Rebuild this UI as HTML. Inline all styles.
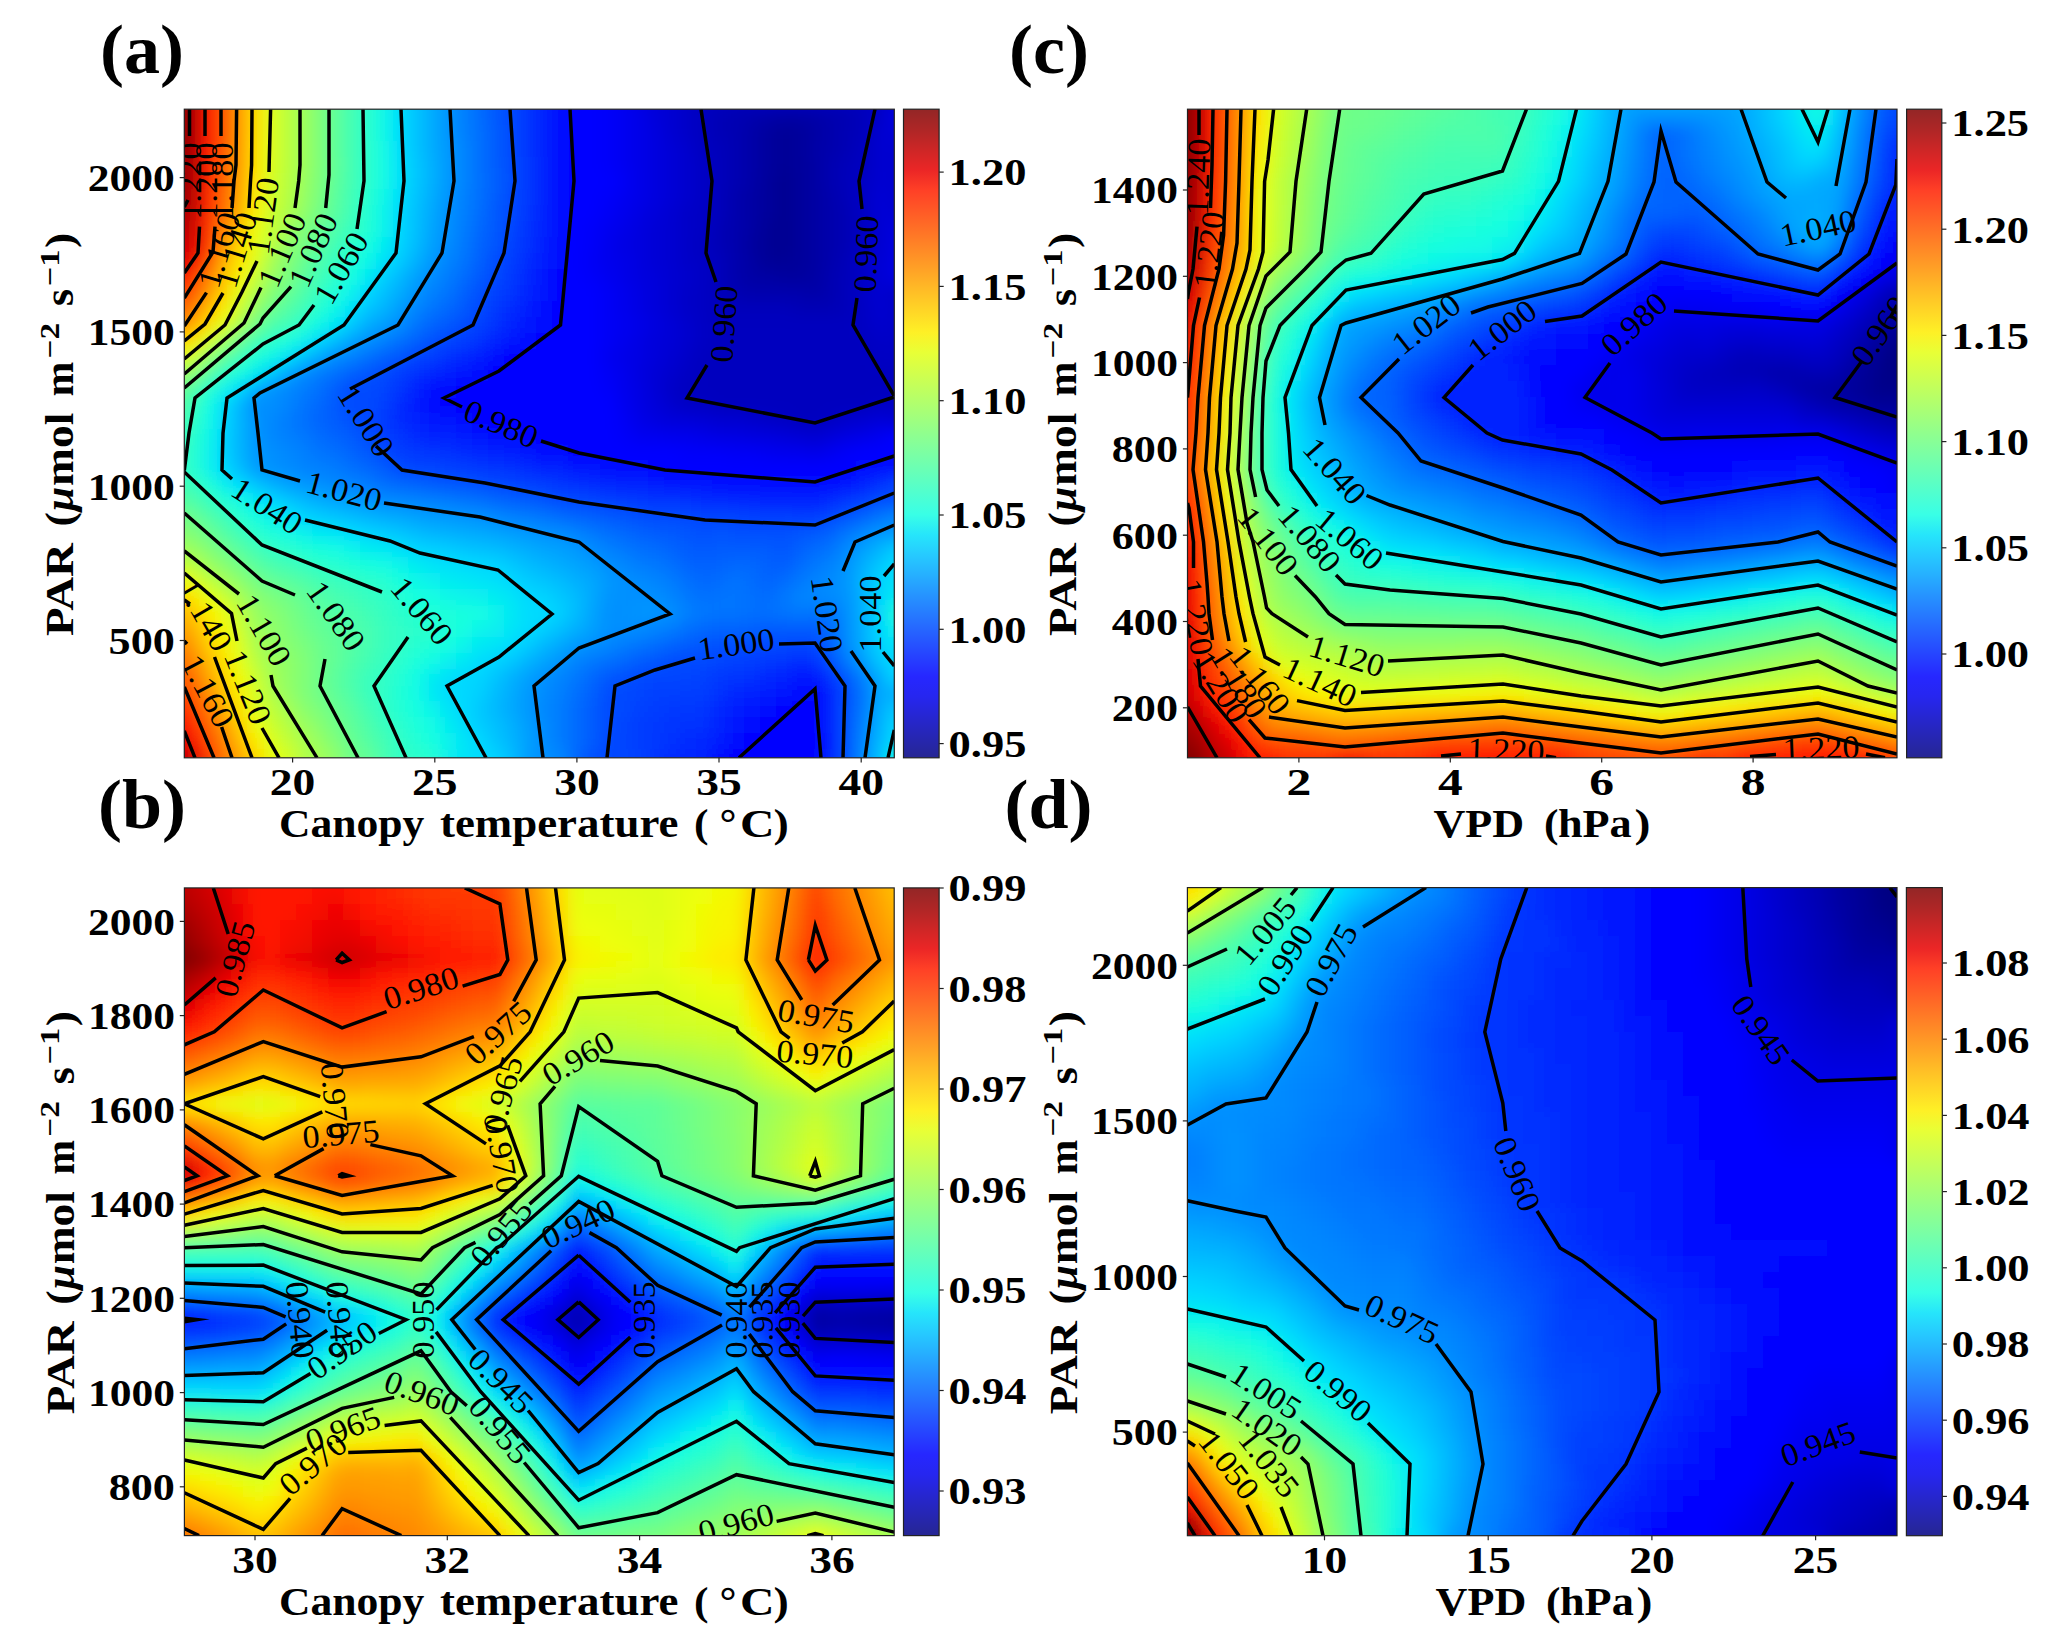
<!DOCTYPE html><html><head><meta charset="utf-8"><title>Figure</title><style>html,body{margin:0;padding:0;background:#fff}svg{display:block}.f rect{width:17px;height:17px}</style></head><body>
<svg width="2067" height="1641" viewBox="0 0 2067 1641">
<defs><filter id="bl" x="-5%" y="-5%" width="110%" height="110%"><feGaussianBlur stdDeviation="8"/></filter>
<linearGradient id="jetg" x1="0" y1="0" x2="0" y2="1"><stop offset="0.0000" stop-color="#932626"/><stop offset="0.0312" stop-color="#ae2626"/><stop offset="0.0625" stop-color="#cd2626"/><stop offset="0.0938" stop-color="#eb2626"/><stop offset="0.1250" stop-color="#ff4026"/><stop offset="0.1562" stop-color="#ff5926"/><stop offset="0.1875" stop-color="#ff7226"/><stop offset="0.2188" stop-color="#ff8b26"/><stop offset="0.2500" stop-color="#ffa426"/><stop offset="0.2812" stop-color="#ffbe26"/><stop offset="0.3125" stop-color="#ffd726"/><stop offset="0.3438" stop-color="#fef026"/><stop offset="0.3750" stop-color="#e8ff36"/><stop offset="0.4062" stop-color="#d2ff4c"/><stop offset="0.4375" stop-color="#bcff62"/><stop offset="0.4688" stop-color="#a6ff78"/><stop offset="0.5000" stop-color="#90ff8e"/><stop offset="0.5312" stop-color="#7bffa4"/><stop offset="0.5625" stop-color="#65ffba"/><stop offset="0.5938" stop-color="#4fffd0"/><stop offset="0.6250" stop-color="#39ffe6"/><stop offset="0.6562" stop-color="#26e5fb"/><stop offset="0.6875" stop-color="#26caff"/><stop offset="0.7188" stop-color="#26afff"/><stop offset="0.7500" stop-color="#2693ff"/><stop offset="0.7812" stop-color="#2678ff"/><stop offset="0.8125" stop-color="#265dff"/><stop offset="0.8438" stop-color="#2642ff"/><stop offset="0.8750" stop-color="#2627ff"/><stop offset="0.9062" stop-color="#2626ef"/><stop offset="0.9375" stop-color="#2626d0"/><stop offset="0.9688" stop-color="#2626b2"/><stop offset="1.0000" stop-color="#262693"/></linearGradient></defs>
<rect width="2067" height="1641" fill="#fff"/>
<clipPath id="cpa"><rect x="184.3" y="109.2" width="710.0" height="648.6"/></clipPath>
<g clip-path="url(#cpa)">
<g class="f" filter="url(#bl)">
<g transform="translate(152 77)"><rect x="0" fill="#800000" style="width:33px"/><rect x="32" fill="#a40000"/><rect x="48" fill="#ff1300"/><rect x="64" fill="#f50"/><rect x="80" fill="#ff9c00"/><rect x="96" fill="#ffde00"/><rect x="112" fill="#dbff1c"/><rect x="128" fill="#baff3c"/><rect x="144" fill="#9dff5a"/><rect x="160" fill="#7dff7a"/><rect x="176" fill="#5dff9a"/><rect x="192" fill="#43ffb4"/><rect x="208" fill="#29ffce"/><rect x="224" fill="#0ff8e7"/><rect x="240" fill="#00dcfe"/><rect x="256" fill="#00c4ff"/><rect x="272" fill="#00acff"/><rect x="288" fill="#0094ff"/><rect x="304" fill="#0080ff"/><rect x="320" fill="#006cff"/><rect x="336" fill="#0058ff"/><rect x="352" fill="#04f"/><rect x="368" fill="#0034ff"/><rect x="384" fill="#0020ff"/><rect x="400" fill="#000cff"/><rect x="416" fill="#00f" style="width:33px"/><rect x="448" fill="#0000fa"/><rect x="464" fill="#0000f1"/><rect x="480" fill="#0000e3"/><rect x="496" fill="#0000da"/><rect x="512" fill="#0000d1"/><rect x="528" fill="#0000c8"/><rect x="544" fill="#0000bf" style="width:33px"/><rect x="576" fill="#00b"/><rect x="592" fill="#0000bf" style="width:129px"/><rect x="720" fill="#0000c8"/><rect x="736" fill="#0000da" style="width:49px"/></g>
<g transform="translate(152 93)"><rect x="0" fill="#800000" style="width:33px"/><rect x="32" fill="#a40000"/><rect x="48" fill="#ff1300"/><rect x="64" fill="#f50"/><rect x="80" fill="#ff9c00"/><rect x="96" fill="#ffde00"/><rect x="112" fill="#dbff1c"/><rect x="128" fill="#baff3c"/><rect x="144" fill="#9dff5a"/><rect x="160" fill="#7dff7a"/><rect x="176" fill="#5dff9a"/><rect x="192" fill="#43ffb4"/><rect x="208" fill="#29ffce"/><rect x="224" fill="#0ff8e7"/><rect x="240" fill="#00dcfe"/><rect x="256" fill="#00c4ff"/><rect x="272" fill="#00acff"/><rect x="288" fill="#0094ff"/><rect x="304" fill="#0080ff"/><rect x="320" fill="#006cff"/><rect x="336" fill="#0058ff"/><rect x="352" fill="#04f"/><rect x="368" fill="#0034ff"/><rect x="384" fill="#0020ff"/><rect x="400" fill="#000cff"/><rect x="416" fill="#00f" style="width:33px"/><rect x="448" fill="#0000fa"/><rect x="464" fill="#0000f1"/><rect x="480" fill="#0000e3"/><rect x="496" fill="#0000da"/><rect x="512" fill="#0000d1"/><rect x="528" fill="#0000c8"/><rect x="544" fill="#0000bf" style="width:33px"/><rect x="576" fill="#00b"/><rect x="592" fill="#0000bf" style="width:129px"/><rect x="720" fill="#0000c8"/><rect x="736" fill="#0000da" style="width:49px"/></g>
<g transform="translate(152 109)"><rect x="0" fill="#800000" style="width:33px"/><rect x="32" fill="#a40000"/><rect x="48" fill="#ff1300"/><rect x="64" fill="#f50"/><rect x="80" fill="#ff9c00"/><rect x="96" fill="#ffde00"/><rect x="112" fill="#dbff1c"/><rect x="128" fill="#baff3c"/><rect x="144" fill="#9dff5a"/><rect x="160" fill="#7dff7a"/><rect x="176" fill="#5dff9a"/><rect x="192" fill="#43ffb4"/><rect x="208" fill="#29ffce"/><rect x="224" fill="#0ff8e7"/><rect x="240" fill="#00dcfe"/><rect x="256" fill="#00c4ff"/><rect x="272" fill="#00acff"/><rect x="288" fill="#0094ff"/><rect x="304" fill="#0080ff"/><rect x="320" fill="#006cff"/><rect x="336" fill="#0058ff"/><rect x="352" fill="#0048ff"/><rect x="368" fill="#0034ff"/><rect x="384" fill="#0020ff"/><rect x="400" fill="#000cff"/><rect x="416" fill="#00f" style="width:33px"/><rect x="448" fill="#0000fa"/><rect x="464" fill="#0000f1"/><rect x="480" fill="#0000e8"/><rect x="496" fill="#0000da"/><rect x="512" fill="#0000d1"/><rect x="528" fill="#0000c8"/><rect x="544" fill="#0000bf"/><rect x="560" fill="#0000b6"/><rect x="576" fill="#0000b2"/><rect x="592" fill="#0000ad"/><rect x="608" fill="#0000a8"/><rect x="624" fill="#0000a4" style="width:33px"/><rect x="656" fill="#0000a8"/><rect x="672" fill="#0000ad"/><rect x="688" fill="#0000b2"/><rect x="704" fill="#00b"/><rect x="720" fill="#0000c8"/><rect x="736" fill="#0000df" style="width:49px"/></g>
<g transform="translate(152 125)"><rect x="0" fill="#800000" style="width:33px"/><rect x="32" fill="#a40000"/><rect x="48" fill="#ff1300"/><rect x="64" fill="#f50"/><rect x="80" fill="#ff9c00"/><rect x="96" fill="#ffde00"/><rect x="112" fill="#dbff1c"/><rect x="128" fill="#baff3c"/><rect x="144" fill="#9dff5a"/><rect x="160" fill="#7dff7a"/><rect x="176" fill="#5dff9a"/><rect x="192" fill="#43ffb4"/><rect x="208" fill="#29ffce"/><rect x="224" fill="#0ff8e7"/><rect x="240" fill="#00dcfe"/><rect x="256" fill="#00c4ff"/><rect x="272" fill="#00acff"/><rect x="288" fill="#0094ff"/><rect x="304" fill="#0080ff"/><rect x="320" fill="#0070ff"/><rect x="336" fill="#005cff"/><rect x="352" fill="#0048ff"/><rect x="368" fill="#0034ff"/><rect x="384" fill="#0020ff"/><rect x="400" fill="#000cff"/><rect x="416" fill="#00f" style="width:33px"/><rect x="448" fill="#0000fa"/><rect x="464" fill="#0000f1"/><rect x="480" fill="#0000e8"/><rect x="496" fill="#0000df"/><rect x="512" fill="#0000d1"/><rect x="528" fill="#0000c8"/><rect x="544" fill="#0000bf"/><rect x="560" fill="#0000b6"/><rect x="576" fill="#0000b2"/><rect x="592" fill="#0000a8"/><rect x="608" fill="#00009f"/><rect x="624" fill="#000096"/><rect x="640" fill="#00009b"/><rect x="656" fill="#0000a4"/><rect x="672" fill="#0000ad"/><rect x="688" fill="#0000b6"/><rect x="704" fill="#00b"/><rect x="720" fill="#0000d1"/><rect x="736" fill="#0000d6" style="width:49px"/></g>
<g transform="translate(152 141)"><rect x="0" fill="#840000" style="width:33px"/><rect x="32" fill="#a80000"/><rect x="48" fill="#ff1600"/><rect x="64" fill="#ff5900"/><rect x="80" fill="#ff9c00"/><rect x="96" fill="#ffe200"/><rect x="112" fill="#dbff1c"/><rect x="128" fill="#baff3c"/><rect x="144" fill="#9dff5a"/><rect x="160" fill="#7dff7a"/><rect x="176" fill="#5dff9a"/><rect x="192" fill="#43ffb4"/><rect x="208" fill="#29ffce"/><rect x="224" fill="#13fce4"/><rect x="240" fill="#00dcfe"/><rect x="256" fill="#00c4ff"/><rect x="272" fill="#00acff"/><rect x="288" fill="#0098ff"/><rect x="304" fill="#0084ff"/><rect x="320" fill="#0070ff"/><rect x="336" fill="#005cff"/><rect x="352" fill="#0048ff"/><rect x="368" fill="#0034ff"/><rect x="384" fill="#0024ff"/><rect x="400" fill="#0010ff"/><rect x="416" fill="#00f" style="width:33px"/><rect x="448" fill="#0000fa"/><rect x="464" fill="#0000f1"/><rect x="480" fill="#0000e8"/><rect x="496" fill="#0000df"/><rect x="512" fill="#0000d6"/><rect x="528" fill="#0000cd"/><rect x="544" fill="#0000bf"/><rect x="560" fill="#00b"/><rect x="576" fill="#0000b2"/><rect x="592" fill="#0000a8"/><rect x="608" fill="#00009f"/><rect x="624" fill="#000096"/><rect x="640" fill="#00009b"/><rect x="656" fill="#0000a8"/><rect x="672" fill="#0000ad"/><rect x="688" fill="#0000b6"/><rect x="704" fill="#0000bf"/><rect x="720" fill="#0000d1"/><rect x="736" fill="#0000cd" style="width:49px"/></g>
<g transform="translate(152 157)"><rect x="0" fill="#890000" style="width:33px"/><rect x="32" fill="#a80000"/><rect x="48" fill="#ff1a00"/><rect x="64" fill="#ff5d00"/><rect x="80" fill="#ff9f00"/><rect x="96" fill="#ffe200"/><rect x="112" fill="#d7ff1f"/><rect x="128" fill="#baff3c"/><rect x="144" fill="#9dff5a"/><rect x="160" fill="#7dff7a"/><rect x="176" fill="#60ff97"/><rect x="192" fill="#43ffb4"/><rect x="208" fill="#29ffce"/><rect x="224" fill="#13fce4"/><rect x="240" fill="#00e0fb"/><rect x="256" fill="#00c8ff"/><rect x="272" fill="#00b0ff"/><rect x="288" fill="#0098ff"/><rect x="304" fill="#0084ff"/><rect x="320" fill="#0070ff"/><rect x="336" fill="#005cff"/><rect x="352" fill="#004cff"/><rect x="368" fill="#0038ff"/><rect x="384" fill="#0024ff"/><rect x="400" fill="#0010ff"/><rect x="416" fill="#00f" style="width:33px"/><rect x="448" fill="#0000fa"/><rect x="464" fill="#0000f1"/><rect x="480" fill="#0000e8"/><rect x="496" fill="#0000df"/><rect x="512" fill="#0000d6"/><rect x="528" fill="#0000cd"/><rect x="544" fill="#0000c4"/><rect x="560" fill="#00b"/><rect x="576" fill="#0000b2"/><rect x="592" fill="#0000a8"/><rect x="608" fill="#00009f"/><rect x="624" fill="#000096"/><rect x="640" fill="#00009b"/><rect x="656" fill="#0000a4"/><rect x="672" fill="#0000b2"/><rect x="688" fill="#00b"/><rect x="704" fill="#0000bf"/><rect x="720" fill="#0000d1"/><rect x="736" fill="#0000cd" style="width:49px"/></g>
<g transform="translate(152 173)"><rect x="0" fill="#8d0000" style="width:33px"/><rect x="32" fill="#ad0000"/><rect x="48" fill="#ff1e00"/><rect x="64" fill="#ff6400"/><rect x="80" fill="#ffa300"/><rect x="96" fill="#ffe600"/><rect x="112" fill="#d4ff23"/><rect x="128" fill="#b7ff40"/><rect x="144" fill="#9aff5d"/><rect x="160" fill="#7aff7d"/><rect x="176" fill="#5dff9a"/><rect x="192" fill="#43ffb4"/><rect x="208" fill="#29ffce"/><rect x="224" fill="#13fce4"/><rect x="240" fill="#00e0fb"/><rect x="256" fill="#00c8ff"/><rect x="272" fill="#00b0ff"/><rect x="288" fill="#0098ff"/><rect x="304" fill="#0084ff"/><rect x="320" fill="#0070ff"/><rect x="336" fill="#0060ff"/><rect x="352" fill="#004cff"/><rect x="368" fill="#0038ff"/><rect x="384" fill="#0024ff"/><rect x="400" fill="#0010ff"/><rect x="416" fill="#00f" style="width:49px"/><rect x="464" fill="#0000f6"/><rect x="480" fill="#0000e8"/><rect x="496" fill="#0000df"/><rect x="512" fill="#0000d6"/><rect x="528" fill="#0000cd"/><rect x="544" fill="#0000c4"/><rect x="560" fill="#00b"/><rect x="576" fill="#0000b2"/><rect x="592" fill="#0000a8"/><rect x="608" fill="#00009b"/><rect x="624" fill="#000092"/><rect x="640" fill="#00009b"/><rect x="656" fill="#0000a4"/><rect x="672" fill="#0000b2"/><rect x="688" fill="#00b"/><rect x="704" fill="#0000c4"/><rect x="720" fill="#0000d1"/><rect x="736" fill="#0000cd" style="width:49px"/></g>
<g transform="translate(152 189)"><rect x="0" fill="#920000" style="width:33px"/><rect x="32" fill="#b20000"/><rect x="48" fill="#f20"/><rect x="64" fill="#ff6800"/><rect x="80" fill="#ffa700"/><rect x="96" fill="#feed00"/><rect x="112" fill="#d1ff26"/><rect x="128" fill="#b4ff43"/><rect x="144" fill="#97ff60"/><rect x="160" fill="#77ff80"/><rect x="176" fill="#5aff9d"/><rect x="192" fill="#40ffb7"/><rect x="208" fill="#26ffd1"/><rect x="224" fill="#0ff8e7"/><rect x="240" fill="#00dcfe"/><rect x="256" fill="#00c4ff"/><rect x="272" fill="#00acff"/><rect x="288" fill="#0094ff"/><rect x="304" fill="#0080ff"/><rect x="320" fill="#0070ff"/><rect x="336" fill="#005cff"/><rect x="352" fill="#0048ff"/><rect x="368" fill="#0038ff"/><rect x="384" fill="#0024ff"/><rect x="400" fill="#0010ff"/><rect x="416" fill="#00f" style="width:33px"/><rect x="448" fill="#0000fa"/><rect x="464" fill="#0000f1"/><rect x="480" fill="#0000e8"/><rect x="496" fill="#0000df"/><rect x="512" fill="#0000d6"/><rect x="528" fill="#0000cd"/><rect x="544" fill="#0000c4"/><rect x="560" fill="#00b"/><rect x="576" fill="#0000ad"/><rect x="592" fill="#0000a4"/><rect x="608" fill="#00009b"/><rect x="624" fill="#000092"/><rect x="640" fill="#00009b"/><rect x="656" fill="#0000a4"/><rect x="672" fill="#0000ad"/><rect x="688" fill="#00b"/><rect x="704" fill="#0000c4"/><rect x="720" fill="#0000d6"/><rect x="736" fill="#0000cd" style="width:49px"/></g>
<g transform="translate(152 205)"><rect x="0" fill="#9f0000" style="width:33px"/><rect x="32" fill="#bf0000"/><rect x="48" fill="#ff2500"/><rect x="64" fill="#ff6f00"/><rect x="80" fill="#ffb200"/><rect x="96" fill="#f8f500"/><rect x="112" fill="#caff2c"/><rect x="128" fill="#adff49"/><rect x="144" fill="#90ff66"/><rect x="160" fill="#70ff87"/><rect x="176" fill="#56ffa0"/><rect x="192" fill="#3cffba"/><rect x="208" fill="#23ffd4"/><rect x="224" fill="#0cf4eb"/><rect x="240" fill="#00d8ff"/><rect x="256" fill="#00c0ff"/><rect x="272" fill="#00a8ff"/><rect x="288" fill="#0090ff"/><rect x="304" fill="#0080ff"/><rect x="320" fill="#006cff"/><rect x="336" fill="#0058ff"/><rect x="352" fill="#0048ff"/><rect x="368" fill="#0034ff"/><rect x="384" fill="#0020ff"/><rect x="400" fill="#000cff"/><rect x="416" fill="#00f" style="width:33px"/><rect x="448" fill="#0000f6"/><rect x="464" fill="#0000ed"/><rect x="480" fill="#0000e3"/><rect x="496" fill="#0000da"/><rect x="512" fill="#0000d1"/><rect x="528" fill="#0000c8"/><rect x="544" fill="#0000c4"/><rect x="560" fill="#00b"/><rect x="576" fill="#0000ad"/><rect x="592" fill="#0000a4"/><rect x="608" fill="#00009b"/><rect x="624" fill="#000092"/><rect x="640" fill="#00009b"/><rect x="656" fill="#0000a4"/><rect x="672" fill="#0000ad"/><rect x="688" fill="#0000b6"/><rect x="704" fill="#0000c4"/><rect x="720" fill="#0000d6"/><rect x="736" fill="#0000d1" style="width:49px"/></g>
<g transform="translate(152 221)"><rect x="0" fill="#b20000" style="width:33px"/><rect x="32" fill="#c80000"/><rect x="48" fill="#ff2900"/><rect x="64" fill="#ff8200"/><rect x="80" fill="#ffc400"/><rect x="96" fill="#eeff09"/><rect x="112" fill="#c4ff33"/><rect x="128" fill="#a0ff56"/><rect x="144" fill="#80ff77"/><rect x="160" fill="#63ff94"/><rect x="176" fill="#4dffaa"/><rect x="192" fill="#36ffc1"/><rect x="208" fill="#23ffd4"/><rect x="224" fill="#0cf4eb"/><rect x="240" fill="#00d8ff"/><rect x="256" fill="#00c0ff"/><rect x="272" fill="#00a4ff"/><rect x="288" fill="#0090ff"/><rect x="304" fill="#007cff"/><rect x="320" fill="#0068ff"/><rect x="336" fill="#0058ff"/><rect x="352" fill="#04f"/><rect x="368" fill="#0030ff"/><rect x="384" fill="#0020ff"/><rect x="400" fill="#000cff"/><rect x="416" fill="#00f"/><rect x="432" fill="#0000fa"/><rect x="448" fill="#0000f1"/><rect x="464" fill="#0000e8"/><rect x="480" fill="#0000df"/><rect x="496" fill="#0000d6"/><rect x="512" fill="#0000d1"/><rect x="528" fill="#0000c8"/><rect x="544" fill="#0000c4"/><rect x="560" fill="#0000b6"/><rect x="576" fill="#0000ad"/><rect x="592" fill="#0000a4"/><rect x="608" fill="#000096"/><rect x="624" fill="#000092"/><rect x="640" fill="#00009b"/><rect x="656" fill="#0000a4"/><rect x="672" fill="#0000ad"/><rect x="688" fill="#0000b6"/><rect x="704" fill="#0000c4"/><rect x="720" fill="#0000d1"/><rect x="736" fill="#0000df" style="width:49px"/></g>
<g transform="translate(152 237)"><rect x="0" fill="#c80000" style="width:33px"/><rect x="32" fill="#d60000"/><rect x="48" fill="#ff2d00"/><rect x="64" fill="#ff9800"/><rect x="80" fill="#ffd700"/><rect x="96" fill="#e7ff0f"/><rect x="112" fill="#b7ff40"/><rect x="128" fill="#94ff63"/><rect x="144" fill="#73ff83"/><rect x="160" fill="#5aff9d"/><rect x="176" fill="#40ffb7"/><rect x="192" fill="#2cffca"/><rect x="208" fill="#19ffde"/><rect x="224" fill="#06ecf1"/><rect x="240" fill="#00d4ff"/><rect x="256" fill="#00bcff"/><rect x="272" fill="#00a0ff"/><rect x="288" fill="#008cff"/><rect x="304" fill="#0078ff"/><rect x="320" fill="#0064ff"/><rect x="336" fill="#0054ff"/><rect x="352" fill="#0040ff"/><rect x="368" fill="#0030ff"/><rect x="384" fill="#001cff"/><rect x="400" fill="#0008ff"/><rect x="416" fill="#00f"/><rect x="432" fill="#0000fa"/><rect x="448" fill="#0000ed"/><rect x="464" fill="#0000e3"/><rect x="480" fill="#0000df"/><rect x="496" fill="#0000d6"/><rect x="512" fill="#0000d1"/><rect x="528" fill="#0000c8"/><rect x="544" fill="#0000bf"/><rect x="560" fill="#0000b6"/><rect x="576" fill="#0000ad"/><rect x="592" fill="#00009f"/><rect x="608" fill="#000096"/><rect x="624" fill="#000092"/><rect x="640" fill="#00009b"/><rect x="656" fill="#0000a4"/><rect x="672" fill="#0000ad"/><rect x="688" fill="#0000b6"/><rect x="704" fill="#0000c4"/><rect x="720" fill="#0000d1"/><rect x="736" fill="#0000df" style="width:49px"/></g>
<g transform="translate(152 253)"><rect x="0" fill="#d60000" style="width:33px"/><rect x="32" fill="#ed0400"/><rect x="48" fill="#ff4e00"/><rect x="64" fill="#ffae00"/><rect x="80" fill="#ffe600"/><rect x="96" fill="#deff19"/><rect x="112" fill="#a7ff50"/><rect x="128" fill="#83ff73"/><rect x="144" fill="#66ff90"/><rect x="160" fill="#4dffaa"/><rect x="176" fill="#33ffc4"/><rect x="192" fill="#1fffd7"/><rect x="208" fill="#0ff8e7"/><rect x="224" fill="#00e0fb"/><rect x="240" fill="#0cf"/><rect x="256" fill="#00b0ff"/><rect x="272" fill="#0098ff"/><rect x="288" fill="#0084ff"/><rect x="304" fill="#0074ff"/><rect x="320" fill="#0060ff"/><rect x="336" fill="#004cff"/><rect x="352" fill="#003cff"/><rect x="368" fill="#002cff"/><rect x="384" fill="#001cff"/><rect x="400" fill="#0008ff"/><rect x="416" fill="#00f"/><rect x="432" fill="#0000f6"/><rect x="448" fill="#0000ed"/><rect x="464" fill="#0000e8"/><rect x="480" fill="#0000df"/><rect x="496" fill="#0000d6"/><rect x="512" fill="#0000d1"/><rect x="528" fill="#0000c8"/><rect x="544" fill="#0000c4"/><rect x="560" fill="#00b"/><rect x="576" fill="#0000ad"/><rect x="592" fill="#0000a4"/><rect x="608" fill="#000096" style="width:33px"/><rect x="640" fill="#00009b"/><rect x="656" fill="#0000a4"/><rect x="672" fill="#0000ad"/><rect x="688" fill="#00b"/><rect x="704" fill="#0000c4"/><rect x="720" fill="#0000d6"/><rect x="736" fill="#0000df" style="width:49px"/></g>
<g transform="translate(152 269)"><rect x="0" fill="#fa0f00" style="width:33px"/><rect x="32" fill="#ff2d00"/><rect x="48" fill="#ff7a00"/><rect x="64" fill="#ffc100"/><rect x="80" fill="#f8f500"/><rect x="96" fill="#c7ff30"/><rect x="112" fill="#97ff60"/><rect x="128" fill="#7aff7d"/><rect x="144" fill="#5aff9d"/><rect x="160" fill="#40ffb7"/><rect x="176" fill="#29ffce"/><rect x="192" fill="#16ffe1"/><rect x="208" fill="#02e8f4"/><rect x="224" fill="#00d0ff"/><rect x="240" fill="#00b8ff"/><rect x="256" fill="#00a0ff"/><rect x="272" fill="#008cff"/><rect x="288" fill="#007cff"/><rect x="304" fill="#006cff"/><rect x="320" fill="#0058ff"/><rect x="336" fill="#0048ff"/><rect x="352" fill="#0038ff"/><rect x="368" fill="#0028ff"/><rect x="384" fill="#0018ff"/><rect x="400" fill="#0004ff"/><rect x="416" fill="#00f"/><rect x="432" fill="#0000fa"/><rect x="448" fill="#0000f1"/><rect x="464" fill="#0000e8"/><rect x="480" fill="#0000df"/><rect x="496" fill="#0000da"/><rect x="512" fill="#0000d1"/><rect x="528" fill="#0000cd"/><rect x="544" fill="#0000c4"/><rect x="560" fill="#00b"/><rect x="576" fill="#0000ad"/><rect x="592" fill="#0000a4" style="width:33px"/><rect x="624" fill="#00009f" style="width:33px"/><rect x="656" fill="#0000a4"/><rect x="672" fill="#0000b2"/><rect x="688" fill="#00b"/><rect x="704" fill="#0000c4"/><rect x="720" fill="#0000d6"/><rect x="736" fill="#0000df" style="width:49px"/></g>
<g transform="translate(152 285)"><rect x="0" fill="#ff3800" style="width:33px"/><rect x="32" fill="#f50"/><rect x="48" fill="#ff9400"/><rect x="64" fill="#ffd300"/><rect x="80" fill="#e1ff16"/><rect x="96" fill="#adff49"/><rect x="112" fill="#83ff73"/><rect x="128" fill="#66ff90"/><rect x="144" fill="#4dffaa"/><rect x="160" fill="#33ffc4"/><rect x="176" fill="#1cffdb"/><rect x="192" fill="#09f0ee"/><rect x="208" fill="#00d8ff"/><rect x="224" fill="#00c0ff"/><rect x="240" fill="#00acff"/><rect x="256" fill="#0094ff"/><rect x="272" fill="#0080ff"/><rect x="288" fill="#0074ff"/><rect x="304" fill="#0060ff"/><rect x="320" fill="#0050ff"/><rect x="336" fill="#0040ff"/><rect x="352" fill="#0034ff"/><rect x="368" fill="#0024ff"/><rect x="384" fill="#0014ff"/><rect x="400" fill="#0004ff"/><rect x="416" fill="#00f" style="width:33px"/><rect x="448" fill="#0000f6"/><rect x="464" fill="#0000ed"/><rect x="480" fill="#0000e3"/><rect x="496" fill="#0000da"/><rect x="512" fill="#0000d1"/><rect x="528" fill="#0000c8"/><rect x="544" fill="#0000c4"/><rect x="560" fill="#00b"/><rect x="576" fill="#0000b2"/><rect x="592" fill="#0000ad" style="width:65px"/><rect x="656" fill="#0000a8"/><rect x="672" fill="#0000b2"/><rect x="688" fill="#00b"/><rect x="704" fill="#0000c8"/><rect x="720" fill="#0000d1"/><rect x="736" fill="#0000c8" style="width:49px"/></g>
<g transform="translate(152 301)"><rect x="0" fill="#ff6000" style="width:33px"/><rect x="32" fill="#ff7a00"/><rect x="48" fill="#ffb900"/><rect x="64" fill="#fbf100"/><rect x="80" fill="#caff2c"/><rect x="96" fill="#90ff66"/><rect x="112" fill="#6aff8d"/><rect x="128" fill="#53ffa4"/><rect x="144" fill="#3cffba"/><rect x="160" fill="#23ffd4"/><rect x="176" fill="#0ff8e7"/><rect x="192" fill="#00e0fb"/><rect x="208" fill="#00c4ff"/><rect x="224" fill="#00b4ff"/><rect x="240" fill="#009cff"/><rect x="256" fill="#0084ff"/><rect x="272" fill="#0074ff"/><rect x="288" fill="#0068ff"/><rect x="304" fill="#0058ff"/><rect x="320" fill="#0048ff"/><rect x="336" fill="#0038ff"/><rect x="352" fill="#002cff"/><rect x="368" fill="#001cff"/><rect x="384" fill="#0010ff"/><rect x="400" fill="#00f" style="width:49px"/><rect x="448" fill="#0000f6"/><rect x="464" fill="#0000ed"/><rect x="480" fill="#0000e3"/><rect x="496" fill="#0000da"/><rect x="512" fill="#0000d1"/><rect x="528" fill="#0000c8"/><rect x="544" fill="#0000c4"/><rect x="560" fill="#00b" style="width:81px"/><rect x="640" fill="#0000b6" style="width:49px"/><rect x="688" fill="#00b"/><rect x="704" fill="#0000c4"/><rect x="720" fill="#0000d1"/><rect x="736" fill="#0000c8" style="width:49px"/></g>
<g transform="translate(152 317)"><rect x="0" fill="#ff8900" style="width:33px"/><rect x="32" fill="#ffa300"/><rect x="48" fill="#ffde00"/><rect x="64" fill="#deff19"/><rect x="80" fill="#a7ff50"/><rect x="96" fill="#70ff87"/><rect x="112" fill="#4dffaa"/><rect x="128" fill="#3cffba"/><rect x="144" fill="#26ffd1"/><rect x="160" fill="#0ff8e7"/><rect x="176" fill="#00e4f8"/><rect x="192" fill="#00c8ff"/><rect x="208" fill="#00acff"/><rect x="224" fill="#009cff"/><rect x="240" fill="#008cff"/><rect x="256" fill="#0074ff"/><rect x="272" fill="#0064ff"/><rect x="288" fill="#0058ff"/><rect x="304" fill="#004cff"/><rect x="320" fill="#0040ff"/><rect x="336" fill="#0030ff"/><rect x="352" fill="#0020ff"/><rect x="368" fill="#0014ff"/><rect x="384" fill="#0008ff"/><rect x="400" fill="#00f" style="width:49px"/><rect x="448" fill="#0000f6"/><rect x="464" fill="#0000f1"/><rect x="480" fill="#0000e8"/><rect x="496" fill="#0000df"/><rect x="512" fill="#0000d6"/><rect x="528" fill="#0000cd"/><rect x="544" fill="#0000c4"/><rect x="560" fill="#0000bf" style="width:145px"/><rect x="704" fill="#0000c4"/><rect x="720" fill="#0000cd"/><rect x="736" fill="#0000c8" style="width:49px"/></g>
<g transform="translate(152 333)"><rect x="0" fill="#fc0" style="width:33px"/><rect x="32" fill="#ffe200"/><rect x="48" fill="#d7ff1f"/><rect x="64" fill="#a0ff56"/><rect x="80" fill="#6aff8d"/><rect x="96" fill="#43ffb4"/><rect x="112" fill="#2cffca"/><rect x="128" fill="#1cffdb"/><rect x="144" fill="#09f0ee"/><rect x="160" fill="#00d4ff"/><rect x="176" fill="#00bcff"/><rect x="192" fill="#00a0ff"/><rect x="208" fill="#0090ff"/><rect x="224" fill="#0080ff"/><rect x="240" fill="#0070ff"/><rect x="256" fill="#0060ff"/><rect x="272" fill="#0050ff"/><rect x="288" fill="#04f"/><rect x="304" fill="#003cff"/><rect x="320" fill="#0030ff"/><rect x="336" fill="#0024ff"/><rect x="352" fill="#0014ff"/><rect x="368" fill="#0008ff"/><rect x="384" fill="#00f" style="width:65px"/><rect x="448" fill="#0000f6"/><rect x="464" fill="#0000ed"/><rect x="480" fill="#0000e3"/><rect x="496" fill="#0000da"/><rect x="512" fill="#0000d6"/><rect x="528" fill="#0000cd"/><rect x="544" fill="#0000c4"/><rect x="560" fill="#0000bf" style="width:161px"/><rect x="720" fill="#0000c8"/><rect x="736" fill="#0000c4" style="width:49px"/></g>
<g transform="translate(152 349)"><rect x="0" fill="#e7ff0f" style="width:33px"/><rect x="32" fill="#d1ff26"/><rect x="48" fill="#94ff63"/><rect x="64" fill="#60ff97"/><rect x="80" fill="#3cffba"/><rect x="96" fill="#1fffd7"/><rect x="112" fill="#0ff8e7"/><rect x="128" fill="#00e0fb"/><rect x="144" fill="#00c0ff"/><rect x="160" fill="#00a4ff"/><rect x="176" fill="#008cff"/><rect x="192" fill="#0080ff"/><rect x="208" fill="#0070ff"/><rect x="224" fill="#0060ff"/><rect x="240" fill="#0054ff"/><rect x="256" fill="#04f"/><rect x="272" fill="#003cff"/><rect x="288" fill="#0030ff"/><rect x="304" fill="#0028ff"/><rect x="320" fill="#001cff"/><rect x="336" fill="#0010ff"/><rect x="352" fill="#0004ff"/><rect x="368" fill="#00f" style="width:81px"/><rect x="448" fill="#0000f1"/><rect x="464" fill="#0000e8"/><rect x="480" fill="#0000e3"/><rect x="496" fill="#0000da"/><rect x="512" fill="#0000d1"/><rect x="528" fill="#0000c8"/><rect x="544" fill="#0000bf" style="width:177px"/><rect x="720" fill="#0000c4" style="width:65px"/></g>
<g transform="translate(152 365)"><rect x="0" fill="#a7ff50" style="width:33px"/><rect x="32" fill="#8dff6a"/><rect x="48" fill="#5aff9d"/><rect x="64" fill="#33ffc4"/><rect x="80" fill="#19ffde"/><rect x="96" fill="#06ecf1"/><rect x="112" fill="#00c8ff"/><rect x="128" fill="#00a4ff"/><rect x="144" fill="#008cff"/><rect x="160" fill="#007cff"/><rect x="176" fill="#0070ff"/><rect x="192" fill="#0060ff"/><rect x="208" fill="#0054ff"/><rect x="224" fill="#0048ff"/><rect x="240" fill="#003cff"/><rect x="256" fill="#0030ff"/><rect x="272" fill="#0028ff"/><rect x="288" fill="#001cff"/><rect x="304" fill="#0014ff"/><rect x="320" fill="#0008ff"/><rect x="336" fill="#00f" style="width:113px"/><rect x="448" fill="#0000f6"/><rect x="464" fill="#0000ed"/><rect x="480" fill="#0000df"/><rect x="496" fill="#0000d6"/><rect x="512" fill="#0000cd"/><rect x="528" fill="#0000c4"/><rect x="544" fill="#0000bf" style="width:241px"/></g>
<g transform="translate(152 381)"><rect x="0" fill="#6aff8d" style="width:33px"/><rect x="32" fill="#53ffa4"/><rect x="48" fill="#29ffce"/><rect x="64" fill="#0cf4eb"/><rect x="80" fill="#00d8ff"/><rect x="96" fill="#00a8ff"/><rect x="112" fill="#0090ff"/><rect x="128" fill="#08f"/><rect x="144" fill="#007cff"/><rect x="160" fill="#0070ff"/><rect x="176" fill="#005cff"/><rect x="192" fill="#0048ff" style="width:33px"/><rect x="224" fill="#04f"/><rect x="240" fill="#0034ff"/><rect x="256" fill="#0020ff"/><rect x="272" fill="#0010ff"/><rect x="288" fill="#0008ff"/><rect x="304" fill="#00f" style="width:145px"/><rect x="448" fill="#0000fa"/><rect x="464" fill="#0000ed"/><rect x="480" fill="#0000e3"/><rect x="496" fill="#0000d6"/><rect x="512" fill="#0000c8"/><rect x="528" fill="#0000bf" style="width:257px"/></g>
<g transform="translate(152 397)"><rect x="0" fill="#5dff9a" style="width:33px"/><rect x="32" fill="#3cffba"/><rect x="48" fill="#16ffe1"/><rect x="64" fill="#00dcfe"/><rect x="80" fill="#00b4ff"/><rect x="96" fill="#008cff"/><rect x="112" fill="#0090ff"/><rect x="128" fill="#0084ff"/><rect x="144" fill="#0074ff"/><rect x="160" fill="#0068ff"/><rect x="176" fill="#0058ff"/><rect x="192" fill="#004cff"/><rect x="208" fill="#0048ff"/><rect x="224" fill="#0040ff"/><rect x="240" fill="#002cff"/><rect x="256" fill="#001cff"/><rect x="272" fill="#000cff"/><rect x="288" fill="#0004ff"/><rect x="304" fill="#00f" style="width:161px"/><rect x="464" fill="#0000f1"/><rect x="480" fill="#0000e3"/><rect x="496" fill="#0000da"/><rect x="512" fill="#0000cd"/><rect x="528" fill="#0000c4" style="width:33px"/><rect x="560" fill="#0000bf" style="width:161px"/><rect x="720" fill="#0000c4" style="width:65px"/></g>
<g transform="translate(152 413)"><rect x="0" fill="#53ffa4" style="width:33px"/><rect x="32" fill="#33ffc4"/><rect x="48" fill="#13fce4"/><rect x="64" fill="#00d8ff"/><rect x="80" fill="#00b4ff"/><rect x="96" fill="#0094ff"/><rect x="112" fill="#08f"/><rect x="128" fill="#007cff"/><rect x="144" fill="#0070ff"/><rect x="160" fill="#0064ff"/><rect x="176" fill="#005cff"/><rect x="192" fill="#0050ff"/><rect x="208" fill="#0048ff"/><rect x="224" fill="#0038ff"/><rect x="240" fill="#002cff"/><rect x="256" fill="#0020ff"/><rect x="272" fill="#0018ff"/><rect x="288" fill="#0014ff"/><rect x="304" fill="#000cff"/><rect x="320" fill="#0004ff"/><rect x="336" fill="#00f" style="width:129px"/><rect x="464" fill="#0000f6"/><rect x="480" fill="#0000e8"/><rect x="496" fill="#0000df"/><rect x="512" fill="#0000da" style="width:33px"/><rect x="544" fill="#0000d6"/><rect x="560" fill="#0000d1" style="width:33px"/><rect x="592" fill="#0000cd"/><rect x="608" fill="#0000c8"/><rect x="624" fill="#0000c4"/><rect x="640" fill="#0000bf" style="width:33px"/><rect x="672" fill="#0000c4"/><rect x="688" fill="#0000cd"/><rect x="704" fill="#0000d1"/><rect x="720" fill="#0000da"/><rect x="736" fill="#0000d1" style="width:49px"/></g>
<g transform="translate(152 429)"><rect x="0" fill="#46ffb1" style="width:33px"/><rect x="32" fill="#2cffca"/><rect x="48" fill="#0ff8e7"/><rect x="64" fill="#00d4ff"/><rect x="80" fill="#00b4ff"/><rect x="96" fill="#0094ff"/><rect x="112" fill="#08f"/><rect x="128" fill="#0080ff"/><rect x="144" fill="#0078ff"/><rect x="160" fill="#006cff"/><rect x="176" fill="#0064ff"/><rect x="192" fill="#005cff"/><rect x="208" fill="#004cff"/><rect x="224" fill="#0040ff"/><rect x="240" fill="#0034ff"/><rect x="256" fill="#002cff"/><rect x="272" fill="#0024ff"/><rect x="288" fill="#0020ff"/><rect x="304" fill="#001cff"/><rect x="320" fill="#0018ff"/><rect x="336" fill="#0010ff"/><rect x="352" fill="#0008ff"/><rect x="368" fill="#0004ff"/><rect x="384" fill="#00f" style="width:81px"/><rect x="464" fill="#0000fa"/><rect x="480" fill="#0000f1" style="width:33px"/><rect x="512" fill="#0000ed" style="width:33px"/><rect x="544" fill="#0000e8"/><rect x="560" fill="#0000e3" style="width:33px"/><rect x="592" fill="#0000df" style="width:33px"/><rect x="624" fill="#0000da"/><rect x="640" fill="#0000d6"/><rect x="656" fill="#0000d1"/><rect x="672" fill="#0000da"/><rect x="688" fill="#0000e3"/><rect x="704" fill="#0000e8"/><rect x="720" fill="#0000f1"/><rect x="736" fill="#00f" style="width:49px"/></g>
<g transform="translate(152 445)"><rect x="0" fill="#3cffba" style="width:33px"/><rect x="32" fill="#29ffce"/><rect x="48" fill="#0cf4eb"/><rect x="64" fill="#00d4ff"/><rect x="80" fill="#00b4ff"/><rect x="96" fill="#0098ff"/><rect x="112" fill="#0090ff"/><rect x="128" fill="#08f"/><rect x="144" fill="#0080ff"/><rect x="160" fill="#0074ff"/><rect x="176" fill="#0070ff"/><rect x="192" fill="#0064ff"/><rect x="208" fill="#0058ff"/><rect x="224" fill="#0048ff"/><rect x="240" fill="#003cff"/><rect x="256" fill="#0038ff"/><rect x="272" fill="#0034ff"/><rect x="288" fill="#0030ff"/><rect x="304" fill="#002cff"/><rect x="320" fill="#0028ff"/><rect x="336" fill="#0024ff"/><rect x="352" fill="#001cff"/><rect x="368" fill="#0014ff"/><rect x="384" fill="#0010ff"/><rect x="400" fill="#0008ff"/><rect x="416" fill="#00f" style="width:113px"/><rect x="528" fill="#0000fa" style="width:49px"/><rect x="576" fill="#0000f6" style="width:33px"/><rect x="608" fill="#0000f1"/><rect x="624" fill="#0000ed" style="width:33px"/><rect x="656" fill="#0000e8"/><rect x="672" fill="#0000f1"/><rect x="688" fill="#0000fa"/><rect x="704" fill="#00f" style="width:81px"/></g>
<g transform="translate(152 461)"><rect x="0" fill="#33ffc4" style="width:33px"/><rect x="32" fill="#29ffce"/><rect x="48" fill="#0cf4eb"/><rect x="64" fill="#00d8ff"/><rect x="80" fill="#00bcff"/><rect x="96" fill="#009cff"/><rect x="112" fill="#0090ff"/><rect x="128" fill="#008cff"/><rect x="144" fill="#0084ff"/><rect x="160" fill="#0080ff"/><rect x="176" fill="#007cff"/><rect x="192" fill="#0070ff"/><rect x="208" fill="#0068ff"/><rect x="224" fill="#005cff"/><rect x="240" fill="#004cff"/><rect x="256" fill="#04f" style="width:33px"/><rect x="288" fill="#0040ff"/><rect x="304" fill="#003cff"/><rect x="320" fill="#0038ff"/><rect x="336" fill="#0034ff"/><rect x="352" fill="#0030ff"/><rect x="368" fill="#002cff"/><rect x="384" fill="#0024ff"/><rect x="400" fill="#0020ff"/><rect x="416" fill="#0018ff"/><rect x="432" fill="#0014ff"/><rect x="448" fill="#0010ff"/><rect x="464" fill="#000cff"/><rect x="480" fill="#0008ff"/><rect x="496" fill="#00f" style="width:209px"/><rect x="704" fill="#0008ff"/><rect x="720" fill="#0010ff"/><rect x="736" fill="#000cff" style="width:49px"/></g>
<g transform="translate(152 477)"><rect x="0" fill="#43ffb4" style="width:33px"/><rect x="32" fill="#39ffbe"/><rect x="48" fill="#23ffd4"/><rect x="64" fill="#09f0ee"/><rect x="80" fill="#00dcfe"/><rect x="96" fill="#00c4ff"/><rect x="112" fill="#00b0ff"/><rect x="128" fill="#00a0ff"/><rect x="144" fill="#0098ff"/><rect x="160" fill="#0090ff"/><rect x="176" fill="#08f"/><rect x="192" fill="#0084ff"/><rect x="208" fill="#007cff"/><rect x="224" fill="#0070ff"/><rect x="240" fill="#0068ff"/><rect x="256" fill="#0064ff"/><rect x="272" fill="#005cff"/><rect x="288" fill="#0058ff"/><rect x="304" fill="#0054ff"/><rect x="320" fill="#0050ff"/><rect x="336" fill="#0048ff"/><rect x="352" fill="#04f"/><rect x="368" fill="#0040ff"/><rect x="384" fill="#003cff"/><rect x="400" fill="#0034ff"/><rect x="416" fill="#0030ff"/><rect x="432" fill="#002cff"/><rect x="448" fill="#0028ff"/><rect x="464" fill="#0024ff"/><rect x="480" fill="#0020ff"/><rect x="496" fill="#001cff"/><rect x="512" fill="#0018ff"/><rect x="528" fill="#0014ff" style="width:33px"/><rect x="560" fill="#0010ff" style="width:33px"/><rect x="592" fill="#000cff" style="width:33px"/><rect x="624" fill="#0008ff" style="width:49px"/><rect x="672" fill="#0010ff"/><rect x="688" fill="#0018ff"/><rect x="704" fill="#0024ff"/><rect x="720" fill="#0030ff"/><rect x="736" fill="#04f" style="width:49px"/></g>
<g transform="translate(152 493)"><rect x="0" fill="#5aff9d" style="width:33px"/><rect x="32" fill="#50ffa7"/><rect x="48" fill="#39ffbe"/><rect x="64" fill="#23ffd4"/><rect x="80" fill="#13fce4"/><rect x="96" fill="#02e8f4"/><rect x="112" fill="#00d8ff"/><rect x="128" fill="#00c8ff"/><rect x="144" fill="#00b8ff"/><rect x="160" fill="#00acff"/><rect x="176" fill="#00a4ff"/><rect x="192" fill="#009cff"/><rect x="208" fill="#0094ff"/><rect x="224" fill="#008cff"/><rect x="240" fill="#08f"/><rect x="256" fill="#0084ff"/><rect x="272" fill="#0080ff"/><rect x="288" fill="#007cff"/><rect x="304" fill="#0074ff"/><rect x="320" fill="#0070ff"/><rect x="336" fill="#0068ff"/><rect x="352" fill="#0060ff"/><rect x="368" fill="#005cff"/><rect x="384" fill="#0054ff"/><rect x="400" fill="#004cff"/><rect x="416" fill="#0048ff"/><rect x="432" fill="#04f"/><rect x="448" fill="#0040ff"/><rect x="464" fill="#003cff"/><rect x="480" fill="#0038ff"/><rect x="496" fill="#0034ff" style="width:33px"/><rect x="528" fill="#0030ff"/><rect x="544" fill="#002cff" style="width:33px"/><rect x="576" fill="#0028ff" style="width:33px"/><rect x="608" fill="#0024ff" style="width:33px"/><rect x="640" fill="#0020ff" style="width:33px"/><rect x="672" fill="#002cff"/><rect x="688" fill="#0038ff"/><rect x="704" fill="#0040ff"/><rect x="720" fill="#0050ff"/><rect x="736" fill="#004cff" style="width:49px"/></g>
<g transform="translate(152 509)"><rect x="0" fill="#73ff83" style="width:33px"/><rect x="32" fill="#6aff8d"/><rect x="48" fill="#53ffa4"/><rect x="64" fill="#3cffba"/><rect x="80" fill="#26ffd1"/><rect x="96" fill="#16ffe1"/><rect x="112" fill="#09f0ee"/><rect x="128" fill="#00e4f8"/><rect x="144" fill="#00d4ff"/><rect x="160" fill="#0cf"/><rect x="176" fill="#00c4ff"/><rect x="192" fill="#00bcff"/><rect x="208" fill="#00b4ff"/><rect x="224" fill="#00acff"/><rect x="240" fill="#00a8ff"/><rect x="256" fill="#00a0ff"/><rect x="272" fill="#009cff"/><rect x="288" fill="#0098ff"/><rect x="304" fill="#0094ff"/><rect x="320" fill="#0090ff"/><rect x="336" fill="#08f"/><rect x="352" fill="#0080ff"/><rect x="368" fill="#007cff"/><rect x="384" fill="#0074ff"/><rect x="400" fill="#006cff"/><rect x="416" fill="#0064ff"/><rect x="432" fill="#0060ff"/><rect x="448" fill="#0058ff"/><rect x="464" fill="#0054ff"/><rect x="480" fill="#0050ff"/><rect x="496" fill="#004cff" style="width:33px"/><rect x="528" fill="#0048ff"/><rect x="544" fill="#04f" style="width:49px"/><rect x="592" fill="#0040ff" style="width:49px"/><rect x="640" fill="#003cff" style="width:33px"/><rect x="672" fill="#0048ff"/><rect x="688" fill="#0054ff"/><rect x="704" fill="#0064ff"/><rect x="720" fill="#0074ff"/><rect x="736" fill="#08f" style="width:49px"/></g>
<g transform="translate(152 525)"><rect x="0" fill="#8aff6d" style="width:33px"/><rect x="32" fill="#80ff77"/><rect x="48" fill="#6aff8d"/><rect x="64" fill="#53ffa4"/><rect x="80" fill="#3cffba"/><rect x="96" fill="#29ffce"/><rect x="112" fill="#1cffdb"/><rect x="128" fill="#13fce4"/><rect x="144" fill="#09f0ee"/><rect x="160" fill="#02e8f4"/><rect x="176" fill="#00e4f8"/><rect x="192" fill="#00dcfe"/><rect x="208" fill="#00d4ff"/><rect x="224" fill="#0cf"/><rect x="240" fill="#00c4ff"/><rect x="256" fill="#00bcff"/><rect x="272" fill="#00b4ff"/><rect x="288" fill="#00b0ff"/><rect x="304" fill="#00acff"/><rect x="320" fill="#00a8ff"/><rect x="336" fill="#00a4ff"/><rect x="352" fill="#009cff"/><rect x="368" fill="#0098ff"/><rect x="384" fill="#0090ff"/><rect x="400" fill="#008cff"/><rect x="416" fill="#0084ff"/><rect x="432" fill="#0078ff"/><rect x="448" fill="#0070ff"/><rect x="464" fill="#0068ff"/><rect x="480" fill="#0060ff"/><rect x="496" fill="#005cff"/><rect x="512" fill="#0058ff"/><rect x="528" fill="#0054ff"/><rect x="544" fill="#0050ff"/><rect x="560" fill="#0054ff"/><rect x="576" fill="#0050ff" style="width:65px"/><rect x="640" fill="#0054ff"/><rect x="656" fill="#0058ff"/><rect x="672" fill="#0064ff"/><rect x="688" fill="#0078ff"/><rect x="704" fill="#08f"/><rect x="720" fill="#0098ff"/><rect x="736" fill="#0094ff" style="width:49px"/></g>
<g transform="translate(152 541)"><rect x="0" fill="#a4ff53" style="width:33px"/><rect x="32" fill="#9aff5d"/><rect x="48" fill="#83ff73"/><rect x="64" fill="#6dff8a"/><rect x="80" fill="#56ffa0"/><rect x="96" fill="#40ffb7"/><rect x="112" fill="#30ffc7"/><rect x="128" fill="#29ffce"/><rect x="144" fill="#1fffd7"/><rect x="160" fill="#19ffde"/><rect x="176" fill="#13fce4"/><rect x="192" fill="#0cf4eb"/><rect x="208" fill="#06ecf1"/><rect x="224" fill="#02e8f4"/><rect x="240" fill="#00e0fb"/><rect x="256" fill="#00d4ff"/><rect x="272" fill="#00d0ff"/><rect x="288" fill="#0cf"/><rect x="304" fill="#00c4ff"/><rect x="320" fill="#00c0ff"/><rect x="336" fill="#00bcff"/><rect x="352" fill="#00b4ff"/><rect x="368" fill="#00acff"/><rect x="384" fill="#00a4ff"/><rect x="400" fill="#00a0ff"/><rect x="416" fill="#0098ff"/><rect x="432" fill="#008cff"/><rect x="448" fill="#0080ff"/><rect x="464" fill="#0078ff"/><rect x="480" fill="#0070ff"/><rect x="496" fill="#006cff"/><rect x="512" fill="#0064ff"/><rect x="528" fill="#005cff"/><rect x="544" fill="#0058ff"/><rect x="560" fill="#005cff" style="width:65px"/><rect x="624" fill="#0054ff"/><rect x="640" fill="#0060ff"/><rect x="656" fill="#006cff"/><rect x="672" fill="#0074ff"/><rect x="688" fill="#008cff"/><rect x="704" fill="#00a0ff"/><rect x="720" fill="#00b4ff"/><rect x="736" fill="#0cf" style="width:49px"/></g>
<g transform="translate(152 557)"><rect x="0" fill="#caff2c" style="width:33px"/><rect x="32" fill="#baff3c"/><rect x="48" fill="#9dff5a"/><rect x="64" fill="#87ff70"/><rect x="80" fill="#70ff87"/><rect x="96" fill="#5aff9d"/><rect x="112" fill="#49ffad"/><rect x="128" fill="#40ffb7"/><rect x="144" fill="#36ffc1"/><rect x="160" fill="#2cffca"/><rect x="176" fill="#26ffd1"/><rect x="192" fill="#1fffd7"/><rect x="208" fill="#19ffde"/><rect x="224" fill="#13fce4"/><rect x="240" fill="#0cf4eb"/><rect x="256" fill="#06ecf1"/><rect x="272" fill="#00e4f8"/><rect x="288" fill="#00e0fb"/><rect x="304" fill="#00dcfe"/><rect x="320" fill="#00d8ff"/><rect x="336" fill="#00d4ff"/><rect x="352" fill="#00c8ff"/><rect x="368" fill="#00bcff"/><rect x="384" fill="#00b4ff"/><rect x="400" fill="#00acff"/><rect x="416" fill="#00a4ff"/><rect x="432" fill="#009cff"/><rect x="448" fill="#0090ff"/><rect x="464" fill="#08f"/><rect x="480" fill="#007cff"/><rect x="496" fill="#0078ff"/><rect x="512" fill="#0070ff"/><rect x="528" fill="#0064ff"/><rect x="544" fill="#0060ff"/><rect x="560" fill="#0064ff"/><rect x="576" fill="#0068ff" style="width:33px"/><rect x="608" fill="#0060ff"/><rect x="624" fill="#005cff"/><rect x="640" fill="#006cff"/><rect x="656" fill="#0078ff"/><rect x="672" fill="#0084ff"/><rect x="688" fill="#0094ff"/><rect x="704" fill="#00b0ff"/><rect x="720" fill="#00c8ff"/><rect x="736" fill="#00dcfe" style="width:49px"/></g>
<g transform="translate(152 573)"><rect x="0" fill="#f4f802" style="width:33px"/><rect x="32" fill="#e4ff13"/><rect x="48" fill="#c1ff36"/><rect x="64" fill="#a4ff53"/><rect x="80" fill="#8dff6a"/><rect x="96" fill="#73ff83"/><rect x="112" fill="#63ff94"/><rect x="128" fill="#5aff9d"/><rect x="144" fill="#50ffa7"/><rect x="160" fill="#43ffb4"/><rect x="176" fill="#39ffbe"/><rect x="192" fill="#33ffc4"/><rect x="208" fill="#2cffca"/><rect x="224" fill="#26ffd1"/><rect x="240" fill="#19ffde"/><rect x="256" fill="#0ff8e7"/><rect x="272" fill="#09f0ee"/><rect x="288" fill="#06ecf1"/><rect x="304" fill="#02e8f4"/><rect x="320" fill="#00e4f8"/><rect x="336" fill="#00e0fb"/><rect x="352" fill="#00d8ff"/><rect x="368" fill="#0cf"/><rect x="384" fill="#00c4ff"/><rect x="400" fill="#00bcff"/><rect x="416" fill="#00b0ff"/><rect x="432" fill="#00a8ff"/><rect x="448" fill="#0098ff"/><rect x="464" fill="#0090ff"/><rect x="480" fill="#008cff"/><rect x="496" fill="#0084ff"/><rect x="512" fill="#007cff"/><rect x="528" fill="#0070ff"/><rect x="544" fill="#0068ff"/><rect x="560" fill="#006cff"/><rect x="576" fill="#0074ff"/><rect x="592" fill="#006cff"/><rect x="608" fill="#0064ff"/><rect x="624" fill="#006cff"/><rect x="640" fill="#0078ff"/><rect x="656" fill="#0084ff"/><rect x="672" fill="#008cff"/><rect x="688" fill="#0098ff"/><rect x="704" fill="#00b8ff"/><rect x="720" fill="#00d4ff"/><rect x="736" fill="#00e0fb" style="width:49px"/></g>
<g transform="translate(152 589)"><rect x="0" fill="#ffd300" style="width:33px"/><rect x="32" fill="#ffe200"/><rect x="48" fill="#e7ff0f"/><rect x="64" fill="#caff2c"/><rect x="80" fill="#a7ff50"/><rect x="96" fill="#8aff6d"/><rect x="112" fill="#7aff7d"/><rect x="128" fill="#70ff87"/><rect x="144" fill="#60ff97"/><rect x="160" fill="#53ffa4"/><rect x="176" fill="#46ffb1"/><rect x="192" fill="#40ffb7"/><rect x="208" fill="#36ffc1"/><rect x="224" fill="#30ffc7"/><rect x="240" fill="#23ffd4"/><rect x="256" fill="#19ffde"/><rect x="272" fill="#16ffe1"/><rect x="288" fill="#0ff8e7"/><rect x="304" fill="#0cf4eb"/><rect x="320" fill="#09f0ee"/><rect x="336" fill="#06ecf1"/><rect x="352" fill="#00e4f8"/><rect x="368" fill="#00d8ff"/><rect x="384" fill="#00d4ff"/><rect x="400" fill="#00c8ff"/><rect x="416" fill="#00bcff"/><rect x="432" fill="#00a8ff"/><rect x="448" fill="#0094ff"/><rect x="464" fill="#0090ff" style="width:49px"/><rect x="512" fill="#0084ff"/><rect x="528" fill="#0078ff"/><rect x="544" fill="#0070ff"/><rect x="560" fill="#0074ff" style="width:33px"/><rect x="592" fill="#0070ff"/><rect x="608" fill="#006cff"/><rect x="624" fill="#0078ff"/><rect x="640" fill="#0084ff"/><rect x="656" fill="#08f"/><rect x="672" fill="#008cff"/><rect x="688" fill="#0094ff"/><rect x="704" fill="#00b4ff"/><rect x="720" fill="#00d4ff"/><rect x="736" fill="#06ecf1" style="width:49px"/></g>
<g transform="translate(152 605)"><rect x="0" fill="#ffb600" style="width:33px"/><rect x="32" fill="#ffc400"/><rect x="48" fill="#feed00"/><rect x="64" fill="#ebff0c"/><rect x="80" fill="#beff39"/><rect x="96" fill="#97ff60"/><rect x="112" fill="#8aff6d"/><rect x="128" fill="#7aff7d"/><rect x="144" fill="#6aff8d"/><rect x="160" fill="#5dff9a"/><rect x="176" fill="#50ffa7"/><rect x="192" fill="#49ffad"/><rect x="208" fill="#40ffb7"/><rect x="224" fill="#36ffc1"/><rect x="240" fill="#2cffca"/><rect x="256" fill="#23ffd4"/><rect x="272" fill="#1fffd7"/><rect x="288" fill="#1cffdb"/><rect x="304" fill="#19ffde"/><rect x="320" fill="#16ffe1"/><rect x="336" fill="#0cf4eb"/><rect x="352" fill="#02e8f4"/><rect x="368" fill="#00dcfe" style="width:33px"/><rect x="400" fill="#00d0ff"/><rect x="416" fill="#00bcff"/><rect x="432" fill="#00a4ff"/><rect x="448" fill="#0090ff" style="width:33px"/><rect x="480" fill="#0094ff" style="width:33px"/><rect x="512" fill="#0090ff"/><rect x="528" fill="#0080ff"/><rect x="544" fill="#0078ff"/><rect x="560" fill="#0074ff" style="width:33px"/><rect x="592" fill="#0070ff" style="width:33px"/><rect x="624" fill="#0074ff"/><rect x="640" fill="#0078ff"/><rect x="656" fill="#0074ff"/><rect x="672" fill="#0078ff"/><rect x="688" fill="#0090ff"/><rect x="704" fill="#00b4ff"/><rect x="720" fill="#00d4ff"/><rect x="736" fill="#23ffd4" style="width:49px"/></g>
<g transform="translate(152 621)"><rect x="0" fill="#ff9c00" style="width:33px"/><rect x="32" fill="#ffae00"/><rect x="48" fill="#ffdb00"/><rect x="64" fill="#f4f802"/><rect x="80" fill="#ceff29"/><rect x="96" fill="#a0ff56"/><rect x="112" fill="#90ff66"/><rect x="128" fill="#80ff77"/><rect x="144" fill="#70ff87"/><rect x="160" fill="#63ff94"/><rect x="176" fill="#5aff9d"/><rect x="192" fill="#50ffa7"/><rect x="208" fill="#46ffb1"/><rect x="224" fill="#39ffbe"/><rect x="240" fill="#30ffc7"/><rect x="256" fill="#2cffca"/><rect x="272" fill="#29ffce"/><rect x="288" fill="#1fffd7"/><rect x="304" fill="#16ffe1"/><rect x="320" fill="#0cf4eb"/><rect x="336" fill="#09f0ee"/><rect x="352" fill="#00e4f8"/><rect x="368" fill="#00dcfe"/><rect x="384" fill="#00d0ff"/><rect x="400" fill="#00c0ff"/><rect x="416" fill="#00b0ff"/><rect x="432" fill="#00a0ff"/><rect x="448" fill="#0090ff" style="width:33px"/><rect x="480" fill="#008cff"/><rect x="496" fill="#0084ff"/><rect x="512" fill="#007cff"/><rect x="528" fill="#0070ff"/><rect x="544" fill="#0068ff"/><rect x="560" fill="#0064ff" style="width:33px"/><rect x="592" fill="#0060ff"/><rect x="608" fill="#005cff" style="width:65px"/><rect x="672" fill="#006cff"/><rect x="688" fill="#0090ff"/><rect x="704" fill="#00b0ff"/><rect x="720" fill="#00d8ff"/><rect x="736" fill="#0cf4eb" style="width:49px"/></g>
<g transform="translate(152 637)"><rect x="0" fill="#ff8200" style="width:33px"/><rect x="32" fill="#ff9800"/><rect x="48" fill="#fc0"/><rect x="64" fill="#fbf100"/><rect x="80" fill="#dbff1c"/><rect x="96" fill="#aaff4d"/><rect x="112" fill="#97ff60"/><rect x="128" fill="#87ff70"/><rect x="144" fill="#7aff7d"/><rect x="160" fill="#6aff8d"/><rect x="176" fill="#60ff97"/><rect x="192" fill="#53ffa4"/><rect x="208" fill="#46ffb1"/><rect x="224" fill="#39ffbe"/><rect x="240" fill="#30ffc7"/><rect x="256" fill="#26ffd1"/><rect x="272" fill="#1fffd7"/><rect x="288" fill="#16ffe1"/><rect x="304" fill="#0cf4eb"/><rect x="320" fill="#02e8f4"/><rect x="336" fill="#00e4f8"/><rect x="352" fill="#00dcfe"/><rect x="368" fill="#0cf"/><rect x="384" fill="#00b8ff"/><rect x="400" fill="#00a8ff"/><rect x="416" fill="#0098ff"/><rect x="432" fill="#0090ff"/><rect x="448" fill="#08f"/><rect x="464" fill="#007cff"/><rect x="480" fill="#0074ff"/><rect x="496" fill="#006cff"/><rect x="512" fill="#0064ff"/><rect x="528" fill="#005cff"/><rect x="544" fill="#0054ff"/><rect x="560" fill="#0050ff" style="width:33px"/><rect x="592" fill="#004cff"/><rect x="608" fill="#0048ff" style="width:33px"/><rect x="640" fill="#04f"/><rect x="656" fill="#004cff"/><rect x="672" fill="#0064ff"/><rect x="688" fill="#008cff"/><rect x="704" fill="#00b0ff"/><rect x="720" fill="#00d4ff"/><rect x="736" fill="#00e0fb" style="width:49px"/></g>
<g transform="translate(152 653)"><rect x="0" fill="#ff6c00" style="width:33px"/><rect x="32" fill="#ff8200"/><rect x="48" fill="#ffb600"/><rect x="64" fill="#ffe200"/><rect x="80" fill="#e4ff13"/><rect x="96" fill="#baff3c"/><rect x="112" fill="#9dff5a"/><rect x="128" fill="#90ff66"/><rect x="144" fill="#80ff77"/><rect x="160" fill="#6dff8a"/><rect x="176" fill="#60ff97"/><rect x="192" fill="#50ffa7"/><rect x="208" fill="#43ffb4"/><rect x="224" fill="#36ffc1"/><rect x="240" fill="#29ffce"/><rect x="256" fill="#1cffdb"/><rect x="272" fill="#13fce4"/><rect x="288" fill="#09f0ee"/><rect x="304" fill="#02e8f4"/><rect x="320" fill="#00dcfe"/><rect x="336" fill="#00d4ff"/><rect x="352" fill="#00c8ff"/><rect x="368" fill="#00b4ff"/><rect x="384" fill="#00a4ff"/><rect x="400" fill="#0094ff"/><rect x="416" fill="#0084ff"/><rect x="432" fill="#0078ff"/><rect x="448" fill="#0070ff"/><rect x="464" fill="#0068ff"/><rect x="480" fill="#005cff"/><rect x="496" fill="#0054ff"/><rect x="512" fill="#004cff"/><rect x="528" fill="#0048ff" style="width:33px"/><rect x="560" fill="#04f"/><rect x="576" fill="#0040ff"/><rect x="592" fill="#003cff"/><rect x="608" fill="#0038ff"/><rect x="624" fill="#0034ff"/><rect x="640" fill="#002cff"/><rect x="656" fill="#0034ff"/><rect x="672" fill="#0054ff"/><rect x="688" fill="#007cff"/><rect x="704" fill="#00a0ff"/><rect x="720" fill="#00c8ff"/><rect x="736" fill="#00dcfe" style="width:49px"/></g>
<g transform="translate(152 669)"><rect x="0" fill="#f50" style="width:33px"/><rect x="32" fill="#ff6c00"/><rect x="48" fill="#ffa300"/><rect x="64" fill="#ffd300"/><rect x="80" fill="#f1fc06"/><rect x="96" fill="#caff2c"/><rect x="112" fill="#a4ff53"/><rect x="128" fill="#90ff66"/><rect x="144" fill="#80ff77"/><rect x="160" fill="#6dff8a"/><rect x="176" fill="#5aff9d"/><rect x="192" fill="#49ffad"/><rect x="208" fill="#39ffbe"/><rect x="224" fill="#30ffc7"/><rect x="240" fill="#23ffd4"/><rect x="256" fill="#13fce4"/><rect x="272" fill="#06ecf1"/><rect x="288" fill="#00e0fb"/><rect x="304" fill="#00d8ff"/><rect x="320" fill="#00d4ff"/><rect x="336" fill="#00c4ff"/><rect x="352" fill="#00b0ff"/><rect x="368" fill="#00a0ff"/><rect x="384" fill="#0090ff"/><rect x="400" fill="#0084ff"/><rect x="416" fill="#0078ff"/><rect x="432" fill="#0068ff"/><rect x="448" fill="#0058ff"/><rect x="464" fill="#0050ff"/><rect x="480" fill="#0048ff"/><rect x="496" fill="#04f" style="width:49px"/><rect x="544" fill="#0040ff"/><rect x="560" fill="#0038ff"/><rect x="576" fill="#0034ff"/><rect x="592" fill="#0030ff"/><rect x="608" fill="#0028ff"/><rect x="624" fill="#0020ff"/><rect x="640" fill="#0018ff"/><rect x="656" fill="#0014ff"/><rect x="672" fill="#0038ff"/><rect x="688" fill="#005cff"/><rect x="704" fill="#0084ff"/><rect x="720" fill="#00acff"/><rect x="736" fill="#00d8ff" style="width:49px"/></g>
<g transform="translate(152 685)"><rect x="0" fill="#ff3b00" style="width:33px"/><rect x="32" fill="#f50"/><rect x="48" fill="#ff8d00"/><rect x="64" fill="#ffc100"/><rect x="80" fill="#fbf100"/><rect x="96" fill="#d4ff23"/><rect x="112" fill="#adff49"/><rect x="128" fill="#94ff63"/><rect x="144" fill="#80ff77"/><rect x="160" fill="#6dff8a"/><rect x="176" fill="#5dff9a"/><rect x="192" fill="#4dffaa"/><rect x="208" fill="#39ffbe"/><rect x="224" fill="#30ffc7"/><rect x="240" fill="#1fffd7"/><rect x="256" fill="#13fce4"/><rect x="272" fill="#02e8f4"/><rect x="288" fill="#00dcfe"/><rect x="304" fill="#00d8ff"/><rect x="320" fill="#00d0ff"/><rect x="336" fill="#00bcff"/><rect x="352" fill="#00acff"/><rect x="368" fill="#0098ff"/><rect x="384" fill="#008cff"/><rect x="400" fill="#0080ff"/><rect x="416" fill="#0070ff"/><rect x="432" fill="#0060ff"/><rect x="448" fill="#004cff"/><rect x="464" fill="#0048ff"/><rect x="480" fill="#04f"/><rect x="496" fill="#0040ff" style="width:33px"/><rect x="528" fill="#003cff" style="width:33px"/><rect x="560" fill="#0030ff"/><rect x="576" fill="#0028ff"/><rect x="592" fill="#0024ff"/><rect x="608" fill="#001cff"/><rect x="624" fill="#0014ff"/><rect x="640" fill="#0008ff"/><rect x="656" fill="#00f"/><rect x="672" fill="#0028ff"/><rect x="688" fill="#0050ff"/><rect x="704" fill="#0078ff"/><rect x="720" fill="#00a8ff"/><rect x="736" fill="#00acff" style="width:49px"/></g>
<g transform="translate(152 701)"><rect x="0" fill="#ff2500" style="width:33px"/><rect x="32" fill="#ff3f00"/><rect x="48" fill="#f70"/><rect x="64" fill="#ffae00"/><rect x="80" fill="#ffe200"/><rect x="96" fill="#e1ff16"/><rect x="112" fill="#beff39"/><rect x="128" fill="#a4ff53"/><rect x="144" fill="#8aff6d"/><rect x="160" fill="#7aff7d"/><rect x="176" fill="#66ff90"/><rect x="192" fill="#56ffa0"/><rect x="208" fill="#43ffb4"/><rect x="224" fill="#30ffc7"/><rect x="240" fill="#23ffd4"/><rect x="256" fill="#16ffe1"/><rect x="272" fill="#0cf4eb"/><rect x="288" fill="#00e4f8"/><rect x="304" fill="#00d8ff"/><rect x="320" fill="#00c8ff"/><rect x="336" fill="#00b8ff"/><rect x="352" fill="#00a8ff"/><rect x="368" fill="#0098ff"/><rect x="384" fill="#08f"/><rect x="400" fill="#007cff"/><rect x="416" fill="#006cff"/><rect x="432" fill="#005cff"/><rect x="448" fill="#004cff"/><rect x="464" fill="#0048ff"/><rect x="480" fill="#0040ff"/><rect x="496" fill="#003cff"/><rect x="512" fill="#0038ff" style="width:33px"/><rect x="544" fill="#0034ff"/><rect x="560" fill="#0028ff"/><rect x="576" fill="#001cff"/><rect x="592" fill="#0018ff"/><rect x="608" fill="#0010ff"/><rect x="624" fill="#0004ff"/><rect x="640" fill="#00f" style="width:33px"/><rect x="672" fill="#0028ff"/><rect x="688" fill="#0054ff"/><rect x="704" fill="#007cff"/><rect x="720" fill="#00acff"/><rect x="736" fill="#00c8ff" style="width:49px"/></g>
<g transform="translate(152 717)"><rect x="0" fill="#f60b00" style="width:33px"/><rect x="32" fill="#ff2500"/><rect x="48" fill="#ff6000"/><rect x="64" fill="#ff9800"/><rect x="80" fill="#ffd000"/><rect x="96" fill="#ebff0c"/><rect x="112" fill="#caff2c"/><rect x="128" fill="#b4ff43"/><rect x="144" fill="#9aff5d"/><rect x="160" fill="#87ff70"/><rect x="176" fill="#70ff87"/><rect x="192" fill="#5dff9a"/><rect x="208" fill="#4dffaa"/><rect x="224" fill="#39ffbe"/><rect x="240" fill="#29ffce"/><rect x="256" fill="#1cffdb"/><rect x="272" fill="#13fce4"/><rect x="288" fill="#06ecf1"/><rect x="304" fill="#00dcfe"/><rect x="320" fill="#0cf"/><rect x="336" fill="#00c0ff"/><rect x="352" fill="#00b0ff"/><rect x="368" fill="#009cff"/><rect x="384" fill="#008cff"/><rect x="400" fill="#007cff"/><rect x="416" fill="#006cff"/><rect x="432" fill="#005cff"/><rect x="448" fill="#004cff"/><rect x="464" fill="#04f"/><rect x="480" fill="#003cff"/><rect x="496" fill="#0038ff"/><rect x="512" fill="#0034ff"/><rect x="528" fill="#0030ff" style="width:33px"/><rect x="560" fill="#0024ff"/><rect x="576" fill="#0014ff"/><rect x="592" fill="#000cff"/><rect x="608" fill="#0004ff"/><rect x="624" fill="#00f" style="width:49px"/><rect x="672" fill="#0028ff"/><rect x="688" fill="#0054ff"/><rect x="704" fill="#0084ff"/><rect x="720" fill="#00b0ff"/><rect x="736" fill="#00d8ff" style="width:49px"/></g>
<g transform="translate(152 733)"><rect x="0" fill="#d60000" style="width:33px"/><rect x="32" fill="#fa0f00"/><rect x="48" fill="#ff4a00"/><rect x="64" fill="#ff8200"/><rect x="80" fill="#ffbd00"/><rect x="96" fill="#feed00"/><rect x="112" fill="#dbff1c"/><rect x="128" fill="#c1ff36"/><rect x="144" fill="#aaff4d"/><rect x="160" fill="#94ff63"/><rect x="176" fill="#7dff7a"/><rect x="192" fill="#66ff90"/><rect x="208" fill="#53ffa4"/><rect x="224" fill="#43ffb4"/><rect x="240" fill="#30ffc7"/><rect x="256" fill="#23ffd4"/><rect x="272" fill="#16ffe1"/><rect x="288" fill="#0cf4eb"/><rect x="304" fill="#00e4f8"/><rect x="320" fill="#00d8ff"/><rect x="336" fill="#00c4ff"/><rect x="352" fill="#00b4ff"/><rect x="368" fill="#00a0ff"/><rect x="384" fill="#008cff"/><rect x="400" fill="#007cff"/><rect x="416" fill="#006cff"/><rect x="432" fill="#005cff"/><rect x="448" fill="#0048ff"/><rect x="464" fill="#04f"/><rect x="480" fill="#003cff"/><rect x="496" fill="#0038ff"/><rect x="512" fill="#0030ff"/><rect x="528" fill="#002cff"/><rect x="544" fill="#0028ff"/><rect x="560" fill="#001cff"/><rect x="576" fill="#0010ff"/><rect x="592" fill="#0004ff"/><rect x="608" fill="#00f" style="width:65px"/><rect x="672" fill="#0024ff"/><rect x="688" fill="#0058ff"/><rect x="704" fill="#08f"/><rect x="720" fill="#00b8ff"/><rect x="736" fill="#00dcfe" style="width:49px"/></g>
<g transform="translate(152 749)"><rect x="0" fill="#ad0000" style="width:33px"/><rect x="32" fill="#d60000"/><rect x="48" fill="#ff3400"/><rect x="64" fill="#ff7300"/><rect x="80" fill="#ffa700"/><rect x="96" fill="#ffd700"/><rect x="112" fill="#e7ff0f"/><rect x="128" fill="#d7ff1f"/><rect x="144" fill="#b1ff46"/><rect x="160" fill="#a4ff53"/><rect x="176" fill="#8dff6a"/><rect x="192" fill="#6dff8a"/><rect x="208" fill="#63ff94"/><rect x="224" fill="#46ffb1"/><rect x="240" fill="#33ffc4"/><rect x="256" fill="#2cffca"/><rect x="272" fill="#26ffd1"/><rect x="288" fill="#09f0ee"/><rect x="304" fill="#00e4f8"/><rect x="320" fill="#00dcfe"/><rect x="336" fill="#00d4ff"/><rect x="352" fill="#00bcff"/><rect x="368" fill="#009cff"/><rect x="384" fill="#0090ff"/><rect x="400" fill="#08f"/><rect x="416" fill="#0068ff"/><rect x="432" fill="#0050ff"/><rect x="448" fill="#0048ff"/><rect x="464" fill="#04f"/><rect x="480" fill="#0040ff"/><rect x="496" fill="#0034ff"/><rect x="512" fill="#002cff"/><rect x="528" fill="#0028ff"/><rect x="544" fill="#0024ff"/><rect x="560" fill="#0010ff"/><rect x="576" fill="#0004ff"/><rect x="592" fill="#00f" style="width:81px"/><rect x="672" fill="#0028ff"/><rect x="688" fill="#0054ff"/><rect x="704" fill="#0090ff"/><rect x="720" fill="#00c0ff"/><rect x="736" fill="#0ff8e7" style="width:49px"/></g>
<g transform="translate(152 765)"><rect x="0" fill="#ad0000" style="width:33px"/><rect x="32" fill="#d60000"/><rect x="48" fill="#ff3400"/><rect x="64" fill="#ff7300"/><rect x="80" fill="#ffa700"/><rect x="96" fill="#ffd300"/><rect x="112" fill="#e7ff0f"/><rect x="128" fill="#d7ff1f"/><rect x="144" fill="#b1ff46"/><rect x="160" fill="#a4ff53"/><rect x="176" fill="#8dff6a"/><rect x="192" fill="#6dff8a"/><rect x="208" fill="#66ff90"/><rect x="224" fill="#46ffb1"/><rect x="240" fill="#33ffc4"/><rect x="256" fill="#2cffca"/><rect x="272" fill="#29ffce"/><rect x="288" fill="#06ecf1"/><rect x="304" fill="#00e4f8"/><rect x="320" fill="#00dcfe"/><rect x="336" fill="#00d4ff"/><rect x="352" fill="#00bcff"/><rect x="368" fill="#0098ff"/><rect x="384" fill="#0090ff"/><rect x="400" fill="#08f"/><rect x="416" fill="#0068ff"/><rect x="432" fill="#0050ff"/><rect x="448" fill="#0048ff"/><rect x="464" fill="#04f" style="width:33px"/><rect x="496" fill="#0034ff"/><rect x="512" fill="#0028ff" style="width:33px"/><rect x="544" fill="#0024ff"/><rect x="560" fill="#0010ff"/><rect x="576" fill="#00f" style="width:97px"/><rect x="672" fill="#0028ff"/><rect x="688" fill="#0054ff"/><rect x="704" fill="#0090ff"/><rect x="720" fill="#00c0ff"/><rect x="736" fill="#13fce4" style="width:49px"/></g>
<g transform="translate(152 781)"><rect x="0" fill="#ad0000" style="width:33px"/><rect x="32" fill="#d60000"/><rect x="48" fill="#ff3400"/><rect x="64" fill="#ff7300"/><rect x="80" fill="#ffa700"/><rect x="96" fill="#ffd300"/><rect x="112" fill="#e7ff0f"/><rect x="128" fill="#d7ff1f"/><rect x="144" fill="#b1ff46"/><rect x="160" fill="#a4ff53"/><rect x="176" fill="#8dff6a"/><rect x="192" fill="#6dff8a"/><rect x="208" fill="#66ff90"/><rect x="224" fill="#46ffb1"/><rect x="240" fill="#33ffc4"/><rect x="256" fill="#2cffca"/><rect x="272" fill="#29ffce"/><rect x="288" fill="#06ecf1"/><rect x="304" fill="#00e4f8"/><rect x="320" fill="#00dcfe"/><rect x="336" fill="#00d4ff"/><rect x="352" fill="#00bcff"/><rect x="368" fill="#0098ff"/><rect x="384" fill="#0090ff"/><rect x="400" fill="#08f"/><rect x="416" fill="#0068ff"/><rect x="432" fill="#0050ff"/><rect x="448" fill="#0048ff"/><rect x="464" fill="#04f" style="width:33px"/><rect x="496" fill="#0034ff"/><rect x="512" fill="#0028ff" style="width:33px"/><rect x="544" fill="#0024ff"/><rect x="560" fill="#0010ff"/><rect x="576" fill="#00f" style="width:97px"/><rect x="672" fill="#0028ff"/><rect x="688" fill="#0054ff"/><rect x="704" fill="#0090ff"/><rect x="720" fill="#00c0ff"/><rect x="736" fill="#13fce4" style="width:49px"/></g>
</g>
<g fill="none" stroke="#000" stroke-width="3.5" stroke-linejoin="miter" stroke-miterlimit="10">
<path d="M189.5 109.2L189.5 136.0M188.0 200.0L184.3 207.0M205.0 109.2L205.0 136.0M199.5 226.7L198.0 253.0L184.3 273.0M221.0 109.2L221.0 136.0M215.0 226.7L213.0 252.0L184.3 298.0M236.6 109.2L236.0 165.0L234.0 181.0L232.0 208.0M206.5 292.6L184.3 326.0M252.0 109.2L251.6 165.0L250.5 181.0L249.0 208.0M223.0 293.0L205.0 324.0L184.3 341.0M270.6 109.2L269.0 172.0M257.0 261.0L242.0 292.0L225.0 325.0L184.3 359.0M300.0 109.2L300.0 165.0L298.7 181.0L295.0 208.0M261.0 287.6L244.0 323.0L184.3 374.0M329.0 109.2L329.0 175.0L325.7 208.0M291.0 286.6L263.0 318.0L260.0 324.0L184.3 388.0M363.0 109.2L364.0 181.0L357.0 229.0M314.0 305.0L299.0 325.0L263.0 344.0L195.0 398.0L189.0 433.0L184.3 470.6M184.3 472.0L262.0 545.0L382.0 592.0M408.0 637.0L374.0 686.0L406.0 757.8M401.0 109.2L404.0 181.0L396.0 253.0L344.0 325.0L227.0 398.0L223.0 433.0L222.0 470.0L232.0 479.0M305.0 520.0L390.0 541.0L420.0 553.0L498.0 570.0L552.0 614.0L499.0 657.0L447.0 686.0L486.0 757.8M450.0 109.2L454.0 181.0L442.0 253.0L398.0 325.0L260.0 393.0L254.0 398.0L258.0 433.0L262.0 470.0L300.0 481.0M384.0 503.0L480.0 517.0L579.0 542.0L670.0 614.0L579.0 648.0L534.0 686.0L543.0 757.8M510.0 109.2L515.0 181.0L504.0 253.0L473.0 325.0L350.0 389.0M376.0 446.0L402.0 470.0L485.0 483.0L579.0 502.0L705.0 520.0L815.0 525.0L894.3 493.0M570.0 109.2L574.0 181.0L560.5 325.0L499.0 371.0L444.0 398.0L462.0 407.0M541.0 441.0L579.0 453.0L665.0 470.0L815.0 482.0L894.3 456.0M894.3 396.0L853.0 325.0L857.0 298.0M862.0 209.0L859.0 181.0L875.0 109.2M701.0 109.2L712.0 181.0L706.0 253.0L716.0 282.0M707.0 365.0L687.0 398.0L815.0 423.0L894.3 397.0M184.3 513.0L262.0 581.0L295.0 595.0M325.0 659.0L320.0 686.0L358.0 757.8M184.3 551.0L239.0 594.0M271.0 675.0L273.0 686.0L317.0 757.8M184.3 573.0L231.5 613.5L237.0 641.0M262.0 728.0L279.0 757.8M184.3 600.0L190.0 604.0M214.5 657.0L252.0 757.8M184.3 641.0L187.0 644.0M221.6 727.0L232.0 757.8M184.3 687.0L214.0 757.8M184.3 731.0L195.0 757.8M607.0 757.8L615.0 686.0L655.0 670.0L695.0 658.0M779.0 644.0L815.0 643.0L845.0 686.0L843.0 757.8M739.0 757.8L815.0 689.0L821.0 757.8M894.3 525.0L855.0 542.0L843.0 571.0M851.0 651.0L875.0 686.0L865.0 757.8M894.3 564.0L884.0 576.0M883.0 652.0L894.3 666.0M894.3 730.0L888.0 757.8"/>
</g>
<g font-family="'Liberation Serif',serif" font-size="32.5" text-anchor="middle" fill="#000">
<text transform="translate(190.0 181.0) rotate(-90)" y="11" textLength="77" lengthAdjust="spacingAndGlyphs">1.220</text>
<text transform="translate(206.0 181.0) rotate(-90)" y="11" textLength="77" lengthAdjust="spacingAndGlyphs">1.200</text>
<text transform="translate(222.0 181.0) rotate(-90)" y="11" textLength="77" lengthAdjust="spacingAndGlyphs">1.180</text>
<text transform="translate(219.0 250.0) rotate(-73)" y="11" textLength="77" lengthAdjust="spacingAndGlyphs">1.160</text>
<text transform="translate(236.0 250.0) rotate(-73)" y="11" textLength="77" lengthAdjust="spacingAndGlyphs">1.140</text>
<text transform="translate(263.0 216.0) rotate(-82)" y="11" textLength="77" lengthAdjust="spacingAndGlyphs">1.120</text>
<text transform="translate(282.0 250.0) rotate(-67)" y="11" textLength="77" lengthAdjust="spacingAndGlyphs">1.100</text>
<text transform="translate(313.0 250.0) rotate(-66)" y="11" textLength="77" lengthAdjust="spacingAndGlyphs">1.080</text>
<text transform="translate(341.0 268.0) rotate(-60)" y="11" textLength="77" lengthAdjust="spacingAndGlyphs">1.060</text>
<text transform="translate(366.0 421.0) rotate(58)" y="11" textLength="77" lengthAdjust="spacingAndGlyphs">1.000</text>
<text transform="translate(501.0 424.0) rotate(23)" y="11" textLength="77" lengthAdjust="spacingAndGlyphs">0.980</text>
<text transform="translate(344.0 491.0) rotate(15)" y="11" textLength="77" lengthAdjust="spacingAndGlyphs">1.020</text>
<text transform="translate(267.0 506.0) rotate(33)" y="11" textLength="77" lengthAdjust="spacingAndGlyphs">1.040</text>
<text transform="translate(336.0 616.0) rotate(55)" y="11" textLength="77" lengthAdjust="spacingAndGlyphs">1.080</text>
<text transform="translate(422.0 611.0) rotate(50)" y="11" textLength="77" lengthAdjust="spacingAndGlyphs">1.060</text>
<text transform="translate(264.0 630.0) rotate(60)" y="11" textLength="77" lengthAdjust="spacingAndGlyphs">1.100</text>
<text transform="translate(205.0 615.0) rotate(60)" y="11" textLength="77" lengthAdjust="spacingAndGlyphs">1.140</text>
<text transform="translate(248.0 687.0) rotate(68)" y="11" textLength="77" lengthAdjust="spacingAndGlyphs">1.120</text>
<text transform="translate(208.0 691.0) rotate(62)" y="11" textLength="77" lengthAdjust="spacingAndGlyphs">1.160</text>
<text transform="translate(724.0 324.0) rotate(-86)" y="11" textLength="77" lengthAdjust="spacingAndGlyphs">0.960</text>
<text transform="translate(866.0 254.0) rotate(-88)" y="11" textLength="77" lengthAdjust="spacingAndGlyphs">0.960</text>
<text transform="translate(736.0 644.0) rotate(-8)" y="11" textLength="77" lengthAdjust="spacingAndGlyphs">1.000</text>
<text transform="translate(827.0 614.0) rotate(82)" y="11" textLength="77" lengthAdjust="spacingAndGlyphs">1.020</text>
<text transform="translate(870.0 614.0) rotate(-90)" y="11" textLength="77" lengthAdjust="spacingAndGlyphs">1.040</text>
</g>
</g>
<rect x="184.3" y="109.2" width="710.0" height="648.6" fill="none" stroke="#222" stroke-width="1.2"/>
<g stroke="#222" stroke-width="1.2">
<line x1="292.6" y1="757.8" x2="292.6" y2="762.4"/>
<line x1="434.8" y1="757.8" x2="434.8" y2="762.4"/>
<line x1="576.9" y1="757.8" x2="576.9" y2="762.4"/>
<line x1="719.0" y1="757.8" x2="719.0" y2="762.4"/>
<line x1="861.2" y1="757.8" x2="861.2" y2="762.4"/>
<line x1="179.7" y1="640.5" x2="184.3" y2="640.5"/>
<line x1="179.7" y1="486.2" x2="184.3" y2="486.2"/>
<line x1="179.7" y1="331.9" x2="184.3" y2="331.9"/>
<line x1="179.7" y1="177.6" x2="184.3" y2="177.6"/>
<line x1="939.1" y1="172.1" x2="943.7" y2="172.1"/>
<line x1="939.1" y1="286.4" x2="943.7" y2="286.4"/>
<line x1="939.1" y1="400.7" x2="943.7" y2="400.7"/>
<line x1="939.1" y1="515.0" x2="943.7" y2="515.0"/>
<line x1="939.1" y1="629.3" x2="943.7" y2="629.3"/>
<line x1="939.1" y1="743.6" x2="943.7" y2="743.6"/>
</g>
<g font-family="'Liberation Serif',serif" font-weight="bold" fill="#000">
<text x="292.6" y="795.4" font-size="37.3" text-anchor="middle" textLength="45.5" lengthAdjust="spacingAndGlyphs">20</text>
<text x="434.8" y="795.4" font-size="37.3" text-anchor="middle" textLength="45.5" lengthAdjust="spacingAndGlyphs">25</text>
<text x="576.9" y="795.4" font-size="37.3" text-anchor="middle" textLength="45.5" lengthAdjust="spacingAndGlyphs">30</text>
<text x="719.0" y="795.4" font-size="37.3" text-anchor="middle" textLength="45.5" lengthAdjust="spacingAndGlyphs">35</text>
<text x="861.2" y="795.4" font-size="37.3" text-anchor="middle" textLength="45.5" lengthAdjust="spacingAndGlyphs">40</text>
<text x="174.8" y="653.8" font-size="37.3" text-anchor="end" textLength="66.2" lengthAdjust="spacingAndGlyphs">500</text>
<text x="174.8" y="499.5" font-size="37.3" text-anchor="end" textLength="87.0" lengthAdjust="spacingAndGlyphs">1000</text>
<text x="174.8" y="345.2" font-size="37.3" text-anchor="end" textLength="87.0" lengthAdjust="spacingAndGlyphs">1500</text>
<text x="174.8" y="190.9" font-size="37.3" text-anchor="end" textLength="87.0" lengthAdjust="spacingAndGlyphs">2000</text>
<text x="948.6" y="185.4" font-size="37.3" text-anchor="start" textLength="77.8" lengthAdjust="spacingAndGlyphs">1.20</text>
<text x="948.6" y="299.7" font-size="37.3" text-anchor="start" textLength="77.8" lengthAdjust="spacingAndGlyphs">1.15</text>
<text x="948.6" y="414.0" font-size="37.3" text-anchor="start" textLength="77.8" lengthAdjust="spacingAndGlyphs">1.10</text>
<text x="948.6" y="528.3" font-size="37.3" text-anchor="start" textLength="77.8" lengthAdjust="spacingAndGlyphs">1.05</text>
<text x="948.6" y="642.6" font-size="37.3" text-anchor="start" textLength="77.8" lengthAdjust="spacingAndGlyphs">1.00</text>
<text x="948.6" y="756.9" font-size="37.3" text-anchor="start" textLength="77.8" lengthAdjust="spacingAndGlyphs">0.95</text>
<text x="279.0" y="836.8" font-size="40" textLength="145.4" lengthAdjust="spacingAndGlyphs">Canopy</text><text x="440.0" y="836.8" font-size="40" textLength="238.4" lengthAdjust="spacingAndGlyphs">temperature</text><text x="694.0" y="836.8" font-size="40" textLength="14.5" lengthAdjust="spacingAndGlyphs">(</text><text x="719.5" y="836.8" font-size="40" textLength="17.0" lengthAdjust="spacingAndGlyphs">°</text><text x="740.0" y="836.8" font-size="40" textLength="34.5" lengthAdjust="spacingAndGlyphs">C</text><text x="773.5" y="836.8" font-size="40" textLength="15.3" lengthAdjust="spacingAndGlyphs">)</text>
<g transform="translate(73.3 433.5) rotate(-90)" font-size="40">
<text x="-202.5" y="0" textLength="93.0" lengthAdjust="spacingAndGlyphs">PAR</text>
<text x="-92.9" y="0" textLength="14.5" lengthAdjust="spacingAndGlyphs">(</text>
<text x="-77.5" y="0" font-style="italic" textLength="24.3" lengthAdjust="spacingAndGlyphs">μ</text>
<text x="-52.5" y="0" textLength="73.3" lengthAdjust="spacingAndGlyphs">mol</text>
<text x="37.1" y="0" textLength="34.8" lengthAdjust="spacingAndGlyphs">m</text>
<text x="75.1" y="-14.4" font-size="27" textLength="35.4" lengthAdjust="spacingAndGlyphs">−2</text>
<text x="127.5" y="0" textLength="17.1" lengthAdjust="spacingAndGlyphs">s</text>
<text x="147.2" y="-14.4" font-size="27" textLength="36.7" lengthAdjust="spacingAndGlyphs">−1</text>
<text x="185.5" y="0" textLength="15.2" lengthAdjust="spacingAndGlyphs">)</text>
</g>
<text x="100.0" y="72.5" font-size="70" textLength="84" lengthAdjust="spacingAndGlyphs">(a)</text>
</g>
<rect x="903.5" y="109.2" width="35.6" height="648.6" fill="url(#jetg)" stroke="#222" stroke-width="1.2"/>
<clipPath id="cpc"><rect x="1187.5" y="109.2" width="709.5" height="648.6"/></clipPath>
<g clip-path="url(#cpc)">
<g class="f" filter="url(#bl)">
<g transform="translate(1156 77)"><rect x="0" fill="#800000" style="width:33px"/><rect x="32" fill="#9f0000"/><rect x="48" fill="#ff1300"/><rect x="64" fill="#ff5900"/><rect x="80" fill="#ffa300"/><rect x="96" fill="#ffe600"/><rect x="112" fill="#dbff1c"/><rect x="128" fill="#c1ff36"/><rect x="144" fill="#a7ff50"/><rect x="160" fill="#8aff6d"/><rect x="176" fill="#73ff83"/><rect x="192" fill="#6dff8a"/><rect x="208" fill="#6aff8d"/><rect x="224" fill="#66ff90"/><rect x="240" fill="#63ff94"/><rect x="256" fill="#5dff9a"/><rect x="272" fill="#5aff9d"/><rect x="288" fill="#56ffa0"/><rect x="304" fill="#50ffa7"/><rect x="320" fill="#49ffad"/><rect x="336" fill="#43ffb4"/><rect x="352" fill="#40ffb7"/><rect x="368" fill="#36ffc1"/><rect x="384" fill="#26ffd1"/><rect x="400" fill="#13fce4"/><rect x="416" fill="#02e8f4"/><rect x="432" fill="#00d0ff"/><rect x="448" fill="#00b4ff"/><rect x="464" fill="#00a4ff"/><rect x="480" fill="#00a8ff" style="width:81px"/><rect x="560" fill="#00a4ff"/><rect x="576" fill="#00a8ff"/><rect x="592" fill="#00b8ff"/><rect x="608" fill="#00c8ff"/><rect x="624" fill="#00dcfe"/><rect x="640" fill="#09f0ee"/><rect x="656" fill="#1cffdb"/><rect x="672" fill="#00d8ff"/><rect x="688" fill="#00a4ff"/><rect x="704" fill="#007cff"/><rect x="720" fill="#0058ff"/><rect x="736" fill="#04f" style="width:49px"/></g>
<g transform="translate(1156 93)"><rect x="0" fill="#800000" style="width:33px"/><rect x="32" fill="#9f0000"/><rect x="48" fill="#ff1300"/><rect x="64" fill="#ff5900"/><rect x="80" fill="#ffa300"/><rect x="96" fill="#ffe600"/><rect x="112" fill="#dbff1c"/><rect x="128" fill="#c1ff36"/><rect x="144" fill="#a7ff50"/><rect x="160" fill="#8aff6d"/><rect x="176" fill="#73ff83"/><rect x="192" fill="#6dff8a"/><rect x="208" fill="#6aff8d"/><rect x="224" fill="#66ff90"/><rect x="240" fill="#63ff94"/><rect x="256" fill="#5dff9a"/><rect x="272" fill="#5aff9d"/><rect x="288" fill="#56ffa0"/><rect x="304" fill="#50ffa7"/><rect x="320" fill="#49ffad"/><rect x="336" fill="#43ffb4"/><rect x="352" fill="#40ffb7"/><rect x="368" fill="#36ffc1"/><rect x="384" fill="#26ffd1"/><rect x="400" fill="#13fce4"/><rect x="416" fill="#02e8f4"/><rect x="432" fill="#00d0ff"/><rect x="448" fill="#00b4ff"/><rect x="464" fill="#00a4ff"/><rect x="480" fill="#00a8ff" style="width:81px"/><rect x="560" fill="#00a4ff"/><rect x="576" fill="#00a8ff"/><rect x="592" fill="#00b8ff"/><rect x="608" fill="#00c8ff"/><rect x="624" fill="#00dcfe"/><rect x="640" fill="#09f0ee"/><rect x="656" fill="#1cffdb"/><rect x="672" fill="#00d8ff"/><rect x="688" fill="#00a4ff"/><rect x="704" fill="#007cff"/><rect x="720" fill="#0058ff"/><rect x="736" fill="#04f" style="width:49px"/></g>
<g transform="translate(1156 109)"><rect x="0" fill="#800000" style="width:33px"/><rect x="32" fill="#9f0000"/><rect x="48" fill="#ff1300"/><rect x="64" fill="#ff5d00"/><rect x="80" fill="#ffa300"/><rect x="96" fill="#ffe600"/><rect x="112" fill="#d7ff1f"/><rect x="128" fill="#beff39"/><rect x="144" fill="#a4ff53"/><rect x="160" fill="#8aff6d"/><rect x="176" fill="#70ff87"/><rect x="192" fill="#6dff8a"/><rect x="208" fill="#6aff8d"/><rect x="224" fill="#66ff90"/><rect x="240" fill="#60ff97"/><rect x="256" fill="#5dff9a"/><rect x="272" fill="#56ffa0"/><rect x="288" fill="#53ffa4"/><rect x="304" fill="#50ffa7"/><rect x="320" fill="#49ffad"/><rect x="336" fill="#43ffb4"/><rect x="352" fill="#40ffb7"/><rect x="368" fill="#33ffc4"/><rect x="384" fill="#23ffd4"/><rect x="400" fill="#13fce4"/><rect x="416" fill="#00e4f8"/><rect x="432" fill="#0cf"/><rect x="448" fill="#00b4ff"/><rect x="464" fill="#009cff"/><rect x="480" fill="#0090ff" style="width:65px"/><rect x="544" fill="#0094ff"/><rect x="560" fill="#009cff"/><rect x="576" fill="#00a4ff"/><rect x="592" fill="#00b4ff"/><rect x="608" fill="#00c8ff"/><rect x="624" fill="#00d8ff"/><rect x="640" fill="#06ecf1"/><rect x="656" fill="#13fce4"/><rect x="672" fill="#00d0ff"/><rect x="688" fill="#00a0ff"/><rect x="704" fill="#0078ff"/><rect x="720" fill="#0054ff"/><rect x="736" fill="#04f" style="width:49px"/></g>
<g transform="translate(1156 125)"><rect x="0" fill="#800000" style="width:33px"/><rect x="32" fill="#a40000"/><rect x="48" fill="#ff1600"/><rect x="64" fill="#ff5d00"/><rect x="80" fill="#ffa700"/><rect x="96" fill="#ffea00"/><rect x="112" fill="#d4ff23"/><rect x="128" fill="#baff3c"/><rect x="144" fill="#a0ff56"/><rect x="160" fill="#83ff73"/><rect x="176" fill="#6dff8a"/><rect x="192" fill="#6aff8d"/><rect x="208" fill="#66ff90"/><rect x="224" fill="#60ff97"/><rect x="240" fill="#5aff9d"/><rect x="256" fill="#56ffa0"/><rect x="272" fill="#50ffa7"/><rect x="288" fill="#4dffaa" style="width:49px"/><rect x="336" fill="#49ffad"/><rect x="352" fill="#3cffba"/><rect x="368" fill="#2cffca"/><rect x="384" fill="#1cffdb"/><rect x="400" fill="#0cf4eb"/><rect x="416" fill="#00e0fb"/><rect x="432" fill="#00c8ff"/><rect x="448" fill="#00b0ff"/><rect x="464" fill="#0098ff"/><rect x="480" fill="#007cff"/><rect x="496" fill="#0064ff"/><rect x="512" fill="#006cff"/><rect x="528" fill="#0078ff"/><rect x="544" fill="#08f"/><rect x="560" fill="#0094ff"/><rect x="576" fill="#00a0ff"/><rect x="592" fill="#00b0ff"/><rect x="608" fill="#00c0ff"/><rect x="624" fill="#00d0ff"/><rect x="640" fill="#00e4f8"/><rect x="656" fill="#06ecf1"/><rect x="672" fill="#00c4ff"/><rect x="688" fill="#0098ff"/><rect x="704" fill="#0070ff"/><rect x="720" fill="#004cff"/><rect x="736" fill="#0038ff" style="width:49px"/></g>
<g transform="translate(1156 141)"><rect x="0" fill="#800000" style="width:33px"/><rect x="32" fill="#a40000"/><rect x="48" fill="#ff1600"/><rect x="64" fill="#ff5d00"/><rect x="80" fill="#ffa700"/><rect x="96" fill="#fbf100"/><rect x="112" fill="#d1ff26"/><rect x="128" fill="#b7ff40"/><rect x="144" fill="#9dff5a"/><rect x="160" fill="#80ff77"/><rect x="176" fill="#6dff8a"/><rect x="192" fill="#63ff94"/><rect x="208" fill="#5dff9a"/><rect x="224" fill="#5aff9d"/><rect x="240" fill="#53ffa4"/><rect x="256" fill="#50ffa7"/><rect x="272" fill="#49ffad"/><rect x="288" fill="#46ffb1" style="width:65px"/><rect x="352" fill="#36ffc1"/><rect x="368" fill="#29ffce"/><rect x="384" fill="#19ffde"/><rect x="400" fill="#09f0ee"/><rect x="416" fill="#00d8ff"/><rect x="432" fill="#00c4ff"/><rect x="448" fill="#00acff"/><rect x="464" fill="#0094ff"/><rect x="480" fill="#007cff"/><rect x="496" fill="#0064ff"/><rect x="512" fill="#006cff"/><rect x="528" fill="#0078ff"/><rect x="544" fill="#0084ff"/><rect x="560" fill="#0090ff"/><rect x="576" fill="#009cff"/><rect x="592" fill="#00a8ff"/><rect x="608" fill="#00b8ff"/><rect x="624" fill="#00c8ff"/><rect x="640" fill="#00dcfe"/><rect x="656" fill="#00e0fb"/><rect x="672" fill="#00bcff"/><rect x="688" fill="#0094ff"/><rect x="704" fill="#006cff"/><rect x="720" fill="#04f"/><rect x="736" fill="#0024ff" style="width:49px"/></g>
<g transform="translate(1156 157)"><rect x="0" fill="#840000" style="width:33px"/><rect x="32" fill="#a80000"/><rect x="48" fill="#ff1600"/><rect x="64" fill="#ff6000"/><rect x="80" fill="#ffab00"/><rect x="96" fill="#f8f500"/><rect x="112" fill="#ceff29"/><rect x="128" fill="#b4ff43"/><rect x="144" fill="#97ff60"/><rect x="160" fill="#7dff7a"/><rect x="176" fill="#6aff8d"/><rect x="192" fill="#63ff94"/><rect x="208" fill="#5aff9d"/><rect x="224" fill="#53ffa4"/><rect x="240" fill="#4dffaa"/><rect x="256" fill="#49ffad"/><rect x="272" fill="#43ffb4" style="width:33px"/><rect x="304" fill="#40ffb7" style="width:33px"/><rect x="336" fill="#3cffba"/><rect x="352" fill="#33ffc4"/><rect x="368" fill="#23ffd4"/><rect x="384" fill="#13fce4"/><rect x="400" fill="#02e8f4"/><rect x="416" fill="#00d4ff"/><rect x="432" fill="#00bcff"/><rect x="448" fill="#00a8ff"/><rect x="464" fill="#0090ff"/><rect x="480" fill="#0078ff"/><rect x="496" fill="#0064ff"/><rect x="512" fill="#0068ff"/><rect x="528" fill="#0074ff"/><rect x="544" fill="#0080ff"/><rect x="560" fill="#008cff"/><rect x="576" fill="#0094ff"/><rect x="592" fill="#00a4ff"/><rect x="608" fill="#00b4ff"/><rect x="624" fill="#00c4ff"/><rect x="640" fill="#00d0ff"/><rect x="656" fill="#00c8ff"/><rect x="672" fill="#00b4ff"/><rect x="688" fill="#008cff"/><rect x="704" fill="#0068ff"/><rect x="720" fill="#0040ff"/><rect x="736" fill="#0020ff" style="width:49px"/></g>
<g transform="translate(1156 173)"><rect x="0" fill="#840000" style="width:33px"/><rect x="32" fill="#a80000"/><rect x="48" fill="#ff1a00"/><rect x="64" fill="#ff6000"/><rect x="80" fill="#ffab00"/><rect x="96" fill="#f1fc06"/><rect x="112" fill="#c7ff30"/><rect x="128" fill="#adff49"/><rect x="144" fill="#94ff63"/><rect x="160" fill="#7aff7d"/><rect x="176" fill="#6aff8d"/><rect x="192" fill="#60ff97"/><rect x="208" fill="#5aff9d"/><rect x="224" fill="#50ffa7"/><rect x="240" fill="#46ffb1"/><rect x="256" fill="#43ffb4"/><rect x="272" fill="#40ffb7"/><rect x="288" fill="#3cffba" style="width:33px"/><rect x="320" fill="#39ffbe"/><rect x="336" fill="#33ffc4"/><rect x="352" fill="#2cffca"/><rect x="368" fill="#1cffdb"/><rect x="384" fill="#0ff8e7"/><rect x="400" fill="#00e4f8"/><rect x="416" fill="#00d0ff"/><rect x="432" fill="#00b8ff"/><rect x="448" fill="#00a4ff"/><rect x="464" fill="#008cff"/><rect x="480" fill="#0074ff"/><rect x="496" fill="#0064ff" style="width:33px"/><rect x="528" fill="#006cff"/><rect x="544" fill="#0078ff"/><rect x="560" fill="#0084ff"/><rect x="576" fill="#0090ff"/><rect x="592" fill="#009cff"/><rect x="608" fill="#00acff"/><rect x="624" fill="#00b8ff" style="width:33px"/><rect x="656" fill="#00acff"/><rect x="672" fill="#00a8ff"/><rect x="688" fill="#08f"/><rect x="704" fill="#0060ff"/><rect x="720" fill="#003cff"/><rect x="736" fill="#0020ff" style="width:49px"/></g>
<g transform="translate(1156 189)"><rect x="0" fill="#890000" style="width:33px"/><rect x="32" fill="#ad0000"/><rect x="48" fill="#ff1e00"/><rect x="64" fill="#ff6400"/><rect x="80" fill="#ffae00"/><rect x="96" fill="#eeff09"/><rect x="112" fill="#c7ff30"/><rect x="128" fill="#adff49"/><rect x="144" fill="#90ff66"/><rect x="160" fill="#77ff80"/><rect x="176" fill="#66ff90"/><rect x="192" fill="#5dff9a"/><rect x="208" fill="#53ffa4"/><rect x="224" fill="#4dffaa"/><rect x="240" fill="#43ffb4"/><rect x="256" fill="#3cffba"/><rect x="272" fill="#36ffc1"/><rect x="288" fill="#33ffc4" style="width:33px"/><rect x="320" fill="#2cffca"/><rect x="336" fill="#26ffd1"/><rect x="352" fill="#1fffd7"/><rect x="368" fill="#16ffe1"/><rect x="384" fill="#06ecf1"/><rect x="400" fill="#00d8ff"/><rect x="416" fill="#00c4ff"/><rect x="432" fill="#00b0ff"/><rect x="448" fill="#009cff"/><rect x="464" fill="#0084ff"/><rect x="480" fill="#006cff"/><rect x="496" fill="#0064ff" style="width:49px"/><rect x="544" fill="#006cff"/><rect x="560" fill="#0078ff"/><rect x="576" fill="#08f"/><rect x="592" fill="#0094ff"/><rect x="608" fill="#00a0ff"/><rect x="624" fill="#00a8ff" style="width:49px"/><rect x="672" fill="#00a4ff"/><rect x="688" fill="#007cff"/><rect x="704" fill="#0054ff"/><rect x="720" fill="#0030ff"/><rect x="736" fill="#001cff" style="width:49px"/></g>
<g transform="translate(1156 205)"><rect x="0" fill="#8d0000" style="width:33px"/><rect x="32" fill="#ad0000"/><rect x="48" fill="#f20"/><rect x="64" fill="#ff6800"/><rect x="80" fill="#ffb200"/><rect x="96" fill="#eeff09"/><rect x="112" fill="#c7ff30"/><rect x="128" fill="#aaff4d"/><rect x="144" fill="#90ff66"/><rect x="160" fill="#73ff83"/><rect x="176" fill="#66ff90"/><rect x="192" fill="#5aff9d"/><rect x="208" fill="#50ffa7"/><rect x="224" fill="#46ffb1"/><rect x="240" fill="#3cffba"/><rect x="256" fill="#33ffc4"/><rect x="272" fill="#2cffca"/><rect x="288" fill="#29ffce"/><rect x="304" fill="#26ffd1"/><rect x="320" fill="#23ffd4"/><rect x="336" fill="#1cffdb"/><rect x="352" fill="#16ffe1"/><rect x="368" fill="#0cf4eb"/><rect x="384" fill="#00e4f8"/><rect x="400" fill="#00d0ff"/><rect x="416" fill="#00bcff"/><rect x="432" fill="#00a8ff"/><rect x="448" fill="#0090ff"/><rect x="464" fill="#0078ff"/><rect x="480" fill="#0064ff" style="width:33px"/><rect x="512" fill="#0060ff"/><rect x="528" fill="#005cff"/><rect x="544" fill="#0060ff"/><rect x="560" fill="#006cff"/><rect x="576" fill="#0078ff"/><rect x="592" fill="#0084ff"/><rect x="608" fill="#0094ff"/><rect x="624" fill="#00a4ff"/><rect x="640" fill="#00a8ff"/><rect x="656" fill="#00acff"/><rect x="672" fill="#00a0ff"/><rect x="688" fill="#0070ff"/><rect x="704" fill="#0048ff"/><rect x="720" fill="#0020ff"/><rect x="736" fill="#0018ff" style="width:49px"/></g>
<g transform="translate(1156 221)"><rect x="0" fill="#8d0000" style="width:33px"/><rect x="32" fill="#b20000"/><rect x="48" fill="#ff2900"/><rect x="64" fill="#ff6800"/><rect x="80" fill="#ffb200"/><rect x="96" fill="#ebff0c"/><rect x="112" fill="#c4ff33"/><rect x="128" fill="#a7ff50"/><rect x="144" fill="#8dff6a"/><rect x="160" fill="#70ff87"/><rect x="176" fill="#60ff97"/><rect x="192" fill="#53ffa4"/><rect x="208" fill="#49ffad"/><rect x="224" fill="#40ffb7"/><rect x="240" fill="#33ffc4"/><rect x="256" fill="#29ffce"/><rect x="272" fill="#23ffd4"/><rect x="288" fill="#1fffd7"/><rect x="304" fill="#1cffdb"/><rect x="320" fill="#19ffde"/><rect x="336" fill="#16ffe1"/><rect x="352" fill="#0ff8e7"/><rect x="368" fill="#02e8f4"/><rect x="384" fill="#00d8ff"/><rect x="400" fill="#00c8ff"/><rect x="416" fill="#00b4ff"/><rect x="432" fill="#00a0ff"/><rect x="448" fill="#08f"/><rect x="464" fill="#0070ff"/><rect x="480" fill="#0058ff"/><rect x="496" fill="#004cff"/><rect x="512" fill="#0048ff" style="width:33px"/><rect x="544" fill="#0054ff"/><rect x="560" fill="#0060ff"/><rect x="576" fill="#006cff"/><rect x="592" fill="#0078ff"/><rect x="608" fill="#08f"/><rect x="624" fill="#009cff"/><rect x="640" fill="#00acff" style="width:33px"/><rect x="672" fill="#009cff"/><rect x="688" fill="#0060ff"/><rect x="704" fill="#003cff"/><rect x="720" fill="#0014ff" style="width:65px"/></g>
<g transform="translate(1156 237)"><rect x="0" fill="#920000" style="width:33px"/><rect x="32" fill="#b00"/><rect x="48" fill="#ff3000"/><rect x="64" fill="#ff6f00"/><rect x="80" fill="#ffb600"/><rect x="96" fill="#ebff0c"/><rect x="112" fill="#c4ff33"/><rect x="128" fill="#a7ff50"/><rect x="144" fill="#8aff6d"/><rect x="160" fill="#6dff8a"/><rect x="176" fill="#53ffa4"/><rect x="192" fill="#49ffad"/><rect x="208" fill="#40ffb7"/><rect x="224" fill="#33ffc4"/><rect x="240" fill="#26ffd1"/><rect x="256" fill="#1fffd7"/><rect x="272" fill="#19ffde"/><rect x="288" fill="#16ffe1"/><rect x="304" fill="#13fce4" style="width:33px"/><rect x="336" fill="#0cf4eb"/><rect x="352" fill="#09f0ee"/><rect x="368" fill="#00d8ff"/><rect x="384" fill="#00c4ff"/><rect x="400" fill="#00b8ff"/><rect x="416" fill="#00acff"/><rect x="432" fill="#0094ff"/><rect x="448" fill="#0080ff"/><rect x="464" fill="#0068ff"/><rect x="480" fill="#004cff"/><rect x="496" fill="#0038ff"/><rect x="512" fill="#0034ff"/><rect x="528" fill="#003cff"/><rect x="544" fill="#04f"/><rect x="560" fill="#004cff"/><rect x="576" fill="#005cff"/><rect x="592" fill="#006cff"/><rect x="608" fill="#0078ff"/><rect x="624" fill="#08f"/><rect x="640" fill="#009cff"/><rect x="656" fill="#00a8ff"/><rect x="672" fill="#0084ff"/><rect x="688" fill="#0050ff"/><rect x="704" fill="#002cff"/><rect x="720" fill="#0008ff"/><rect x="736" fill="#0000f6" style="width:49px"/></g>
<g transform="translate(1156 253)"><rect x="0" fill="#9b0000" style="width:33px"/><rect x="32" fill="#c40000"/><rect x="48" fill="#ff3800"/><rect x="64" fill="#ff7a00"/><rect x="80" fill="#ffc100"/><rect x="96" fill="#e1ff16"/><rect x="112" fill="#b1ff46"/><rect x="128" fill="#97ff60"/><rect x="144" fill="#7aff7d"/><rect x="160" fill="#5dff9a"/><rect x="176" fill="#43ffb4"/><rect x="192" fill="#36ffc1"/><rect x="208" fill="#30ffc7"/><rect x="224" fill="#23ffd4"/><rect x="240" fill="#19ffde"/><rect x="256" fill="#13fce4"/><rect x="272" fill="#0ff8e7"/><rect x="288" fill="#0cf4eb"/><rect x="304" fill="#09f0ee" style="width:33px"/><rect x="336" fill="#02e8f4"/><rect x="352" fill="#00d4ff"/><rect x="368" fill="#00bcff"/><rect x="384" fill="#00acff"/><rect x="400" fill="#00a4ff"/><rect x="416" fill="#0098ff"/><rect x="432" fill="#0080ff"/><rect x="448" fill="#0068ff"/><rect x="464" fill="#0054ff"/><rect x="480" fill="#0038ff"/><rect x="496" fill="#0024ff" style="width:33px"/><rect x="528" fill="#002cff"/><rect x="544" fill="#0030ff"/><rect x="560" fill="#0038ff"/><rect x="576" fill="#04f"/><rect x="592" fill="#0054ff"/><rect x="608" fill="#005cff"/><rect x="624" fill="#0068ff"/><rect x="640" fill="#0074ff"/><rect x="656" fill="#007cff"/><rect x="672" fill="#005cff"/><rect x="688" fill="#0034ff"/><rect x="704" fill="#0014ff"/><rect x="720" fill="#00f"/><rect x="736" fill="#0000ed" style="width:49px"/></g>
<g transform="translate(1156 269)"><rect x="0" fill="#a40000" style="width:33px"/><rect x="32" fill="#d10000"/><rect x="48" fill="#ff4300"/><rect x="64" fill="#ff8900"/><rect x="80" fill="#ffd700"/><rect x="96" fill="#c7ff30"/><rect x="112" fill="#94ff63"/><rect x="128" fill="#7aff7d"/><rect x="144" fill="#5dff9a"/><rect x="160" fill="#40ffb7"/><rect x="176" fill="#26ffd1"/><rect x="192" fill="#19ffde"/><rect x="208" fill="#13fce4"/><rect x="224" fill="#0cf4eb"/><rect x="240" fill="#09f0ee"/><rect x="256" fill="#02e8f4"/><rect x="272" fill="#00e0fb"/><rect x="288" fill="#00d8ff"/><rect x="304" fill="#0cf"/><rect x="320" fill="#00c0ff"/><rect x="336" fill="#00b0ff"/><rect x="352" fill="#00a0ff"/><rect x="368" fill="#0094ff"/><rect x="384" fill="#08f"/><rect x="400" fill="#0080ff"/><rect x="416" fill="#0074ff"/><rect x="432" fill="#0060ff"/><rect x="448" fill="#0048ff"/><rect x="464" fill="#0030ff"/><rect x="480" fill="#001cff"/><rect x="496" fill="#0010ff" style="width:33px"/><rect x="528" fill="#0014ff"/><rect x="544" fill="#0018ff"/><rect x="560" fill="#0020ff"/><rect x="576" fill="#0024ff"/><rect x="592" fill="#002cff"/><rect x="608" fill="#0034ff"/><rect x="624" fill="#0040ff"/><rect x="640" fill="#0048ff"/><rect x="656" fill="#0050ff"/><rect x="672" fill="#002cff"/><rect x="688" fill="#000cff"/><rect x="704" fill="#00f"/><rect x="720" fill="#0000e3" style="width:65px"/></g>
<g transform="translate(1156 285)"><rect x="0" fill="#b20000" style="width:33px"/><rect x="32" fill="#e40000"/><rect x="48" fill="#ff5200"/><rect x="64" fill="#ff9f00"/><rect x="80" fill="#fbf100"/><rect x="96" fill="#aaff4d"/><rect x="112" fill="#7aff7d"/><rect x="128" fill="#5dff9a"/><rect x="144" fill="#43ffb4"/><rect x="160" fill="#26ffd1"/><rect x="176" fill="#09f0ee"/><rect x="192" fill="#00e0fb"/><rect x="208" fill="#00d8ff"/><rect x="224" fill="#00d0ff"/><rect x="240" fill="#00c8ff"/><rect x="256" fill="#00c0ff"/><rect x="272" fill="#00b4ff"/><rect x="288" fill="#00a8ff"/><rect x="304" fill="#009cff"/><rect x="320" fill="#0090ff"/><rect x="336" fill="#0084ff"/><rect x="352" fill="#0078ff"/><rect x="368" fill="#006cff"/><rect x="384" fill="#0064ff"/><rect x="400" fill="#005cff"/><rect x="416" fill="#0050ff"/><rect x="432" fill="#003cff"/><rect x="448" fill="#0028ff"/><rect x="464" fill="#0018ff"/><rect x="480" fill="#000cff"/><rect x="496" fill="#00f" style="width:65px"/><rect x="560" fill="#0004ff"/><rect x="576" fill="#0008ff"/><rect x="592" fill="#000cff"/><rect x="608" fill="#0010ff"/><rect x="624" fill="#0018ff"/><rect x="640" fill="#0020ff"/><rect x="656" fill="#0024ff"/><rect x="672" fill="#0004ff"/><rect x="688" fill="#0000f1"/><rect x="704" fill="#0000da"/><rect x="720" fill="#0000c4"/><rect x="736" fill="#0000a8" style="width:49px"/></g>
<g transform="translate(1156 301)"><rect x="0" fill="#bf0000" style="width:33px"/><rect x="32" fill="#f60b00"/><rect x="48" fill="#ff6800"/><rect x="64" fill="#ffb900"/><rect x="80" fill="#deff19"/><rect x="96" fill="#8dff6a"/><rect x="112" fill="#5dff9a"/><rect x="128" fill="#43ffb4"/><rect x="144" fill="#26ffd1"/><rect x="160" fill="#0cf4eb"/><rect x="176" fill="#00d0ff"/><rect x="192" fill="#00bcff"/><rect x="208" fill="#00b4ff"/><rect x="224" fill="#00acff"/><rect x="240" fill="#00a4ff"/><rect x="256" fill="#009cff"/><rect x="272" fill="#0090ff"/><rect x="288" fill="#0084ff"/><rect x="304" fill="#0070ff"/><rect x="320" fill="#0064ff"/><rect x="336" fill="#005cff"/><rect x="352" fill="#0054ff"/><rect x="368" fill="#0048ff"/><rect x="384" fill="#003cff"/><rect x="400" fill="#0038ff"/><rect x="416" fill="#0030ff"/><rect x="432" fill="#0020ff"/><rect x="448" fill="#0014ff"/><rect x="464" fill="#0008ff"/><rect x="480" fill="#00f"/><rect x="496" fill="#0000fa"/><rect x="512" fill="#0000ed"/><rect x="528" fill="#0000f1" style="width:33px"/><rect x="560" fill="#0000f6" style="width:33px"/><rect x="592" fill="#0000fa"/><rect x="608" fill="#00f" style="width:65px"/><rect x="672" fill="#0000ed"/><rect x="688" fill="#0000da"/><rect x="704" fill="#0000c8"/><rect x="720" fill="#0000b2"/><rect x="736" fill="#00009b" style="width:49px"/></g>
<g transform="translate(1156 317)"><rect x="0" fill="#cd0000" style="width:33px"/><rect x="32" fill="#ff1e00"/><rect x="48" fill="#ff7e00"/><rect x="64" fill="#ffd700"/><rect x="80" fill="#c4ff33"/><rect x="96" fill="#73ff83"/><rect x="112" fill="#46ffb1"/><rect x="128" fill="#29ffce"/><rect x="144" fill="#0ff8e7"/><rect x="160" fill="#00d4ff"/><rect x="176" fill="#00acff"/><rect x="192" fill="#00a0ff"/><rect x="208" fill="#009cff"/><rect x="224" fill="#0094ff"/><rect x="240" fill="#008cff"/><rect x="256" fill="#0084ff"/><rect x="272" fill="#0074ff"/><rect x="288" fill="#0064ff"/><rect x="304" fill="#0058ff"/><rect x="320" fill="#004cff"/><rect x="336" fill="#04f"/><rect x="352" fill="#0038ff"/><rect x="368" fill="#0028ff"/><rect x="384" fill="#001cff"/><rect x="400" fill="#0018ff" style="width:33px"/><rect x="432" fill="#0010ff"/><rect x="448" fill="#0004ff"/><rect x="464" fill="#00f"/><rect x="480" fill="#0000f6"/><rect x="496" fill="#0000e8"/><rect x="512" fill="#0000e3" style="width:49px"/><rect x="560" fill="#0000df" style="width:49px"/><rect x="608" fill="#0000e3" style="width:65px"/><rect x="672" fill="#0000d6"/><rect x="688" fill="#0000c8"/><rect x="704" fill="#0000b6"/><rect x="720" fill="#00009f"/><rect x="736" fill="#00009b" style="width:49px"/></g>
<g transform="translate(1156 333)"><rect x="0" fill="#da0000" style="width:33px"/><rect x="32" fill="#ff2500"/><rect x="48" fill="#ff8600"/><rect x="64" fill="#ffde00"/><rect x="80" fill="#baff3c"/><rect x="96" fill="#6dff8a"/><rect x="112" fill="#36ffc1"/><rect x="128" fill="#1cffdb"/><rect x="144" fill="#02e8f4"/><rect x="160" fill="#00c4ff"/><rect x="176" fill="#00a4ff"/><rect x="192" fill="#0098ff"/><rect x="208" fill="#008cff"/><rect x="224" fill="#0080ff"/><rect x="240" fill="#0078ff"/><rect x="256" fill="#006cff"/><rect x="272" fill="#0060ff"/><rect x="288" fill="#0050ff"/><rect x="304" fill="#04f"/><rect x="320" fill="#0038ff"/><rect x="336" fill="#002cff"/><rect x="352" fill="#0020ff"/><rect x="368" fill="#0018ff"/><rect x="384" fill="#0014ff"/><rect x="400" fill="#000cff"/><rect x="416" fill="#0008ff"/><rect x="432" fill="#00f" style="width:33px"/><rect x="464" fill="#0000f1"/><rect x="480" fill="#0000e8"/><rect x="496" fill="#0000e3"/><rect x="512" fill="#0000da"/><rect x="528" fill="#0000d6"/><rect x="544" fill="#0000da"/><rect x="560" fill="#0000d1"/><rect x="576" fill="#0000cd" style="width:33px"/><rect x="608" fill="#0000d1" style="width:33px"/><rect x="640" fill="#0000d6" style="width:33px"/><rect x="672" fill="#0000c8"/><rect x="688" fill="#00b"/><rect x="704" fill="#0000a8"/><rect x="720" fill="#000096"/><rect x="736" fill="#000089" style="width:49px"/></g>
<g transform="translate(1156 349)"><rect x="0" fill="#e80000" style="width:33px"/><rect x="32" fill="#ff2d00"/><rect x="48" fill="#ff8d00"/><rect x="64" fill="#ffea00"/><rect x="80" fill="#b4ff43"/><rect x="96" fill="#60ff97"/><rect x="112" fill="#29ffce"/><rect x="128" fill="#13fce4"/><rect x="144" fill="#00dcfe"/><rect x="160" fill="#00b8ff"/><rect x="176" fill="#009cff"/><rect x="192" fill="#008cff"/><rect x="208" fill="#007cff"/><rect x="224" fill="#0070ff"/><rect x="240" fill="#0064ff"/><rect x="256" fill="#0058ff"/><rect x="272" fill="#004cff"/><rect x="288" fill="#0040ff"/><rect x="304" fill="#0030ff"/><rect x="320" fill="#0024ff"/><rect x="336" fill="#0020ff"/><rect x="352" fill="#0018ff"/><rect x="368" fill="#0010ff"/><rect x="384" fill="#0008ff"/><rect x="400" fill="#00f" style="width:49px"/><rect x="448" fill="#0000f1"/><rect x="464" fill="#0000e8"/><rect x="480" fill="#0000df"/><rect x="496" fill="#0000da"/><rect x="512" fill="#0000d1"/><rect x="528" fill="#0000cd" style="width:33px"/><rect x="560" fill="#0000c4"/><rect x="576" fill="#00b" style="width:33px"/><rect x="608" fill="#0000bf" style="width:33px"/><rect x="640" fill="#0000c4"/><rect x="656" fill="#0000c8"/><rect x="672" fill="#0000bf"/><rect x="688" fill="#0000ad"/><rect x="704" fill="#00009b"/><rect x="720" fill="#00008d"/><rect x="736" fill="#000080" style="width:49px"/></g>
<g transform="translate(1156 365)"><rect x="0" fill="#f10800" style="width:33px"/><rect x="32" fill="#ff3400"/><rect x="48" fill="#ff9400"/><rect x="64" fill="#fbf100"/><rect x="80" fill="#aaff4d"/><rect x="96" fill="#56ffa0"/><rect x="112" fill="#23ffd4"/><rect x="128" fill="#09f0ee"/><rect x="144" fill="#00d0ff"/><rect x="160" fill="#00b0ff"/><rect x="176" fill="#0094ff"/><rect x="192" fill="#0080ff"/><rect x="208" fill="#0070ff"/><rect x="224" fill="#0064ff"/><rect x="240" fill="#0054ff"/><rect x="256" fill="#0048ff"/><rect x="272" fill="#003cff"/><rect x="288" fill="#0030ff"/><rect x="304" fill="#0020ff" style="width:33px"/><rect x="336" fill="#0024ff"/><rect x="352" fill="#001cff"/><rect x="368" fill="#000cff"/><rect x="384" fill="#00f" style="width:49px"/><rect x="432" fill="#0000f1"/><rect x="448" fill="#0000e8"/><rect x="464" fill="#0000ed"/><rect x="480" fill="#0000e3"/><rect x="496" fill="#0000d6"/><rect x="512" fill="#0000cd"/><rect x="528" fill="#0000c4"/><rect x="544" fill="#0000bf"/><rect x="560" fill="#00b"/><rect x="576" fill="#0000b6" style="width:33px"/><rect x="608" fill="#0000ad" style="width:33px"/><rect x="640" fill="#0000b2"/><rect x="656" fill="#0000b6"/><rect x="672" fill="#0000b2"/><rect x="688" fill="#00009f"/><rect x="704" fill="#000096"/><rect x="720" fill="#000089"/><rect x="736" fill="#000084" style="width:49px"/></g>
<g transform="translate(1156 381)"><rect x="0" fill="#ff1300" style="width:33px"/><rect x="32" fill="#ff3f00"/><rect x="48" fill="#ff9f00"/><rect x="64" fill="#f4f802"/><rect x="80" fill="#a4ff53"/><rect x="96" fill="#50ffa7"/><rect x="112" fill="#1cffdb"/><rect x="128" fill="#00e4f8"/><rect x="144" fill="#00c4ff"/><rect x="160" fill="#00a4ff"/><rect x="176" fill="#008cff"/><rect x="192" fill="#0074ff"/><rect x="208" fill="#0064ff"/><rect x="224" fill="#0060ff"/><rect x="240" fill="#0050ff"/><rect x="256" fill="#003cff"/><rect x="272" fill="#002cff"/><rect x="288" fill="#0020ff" style="width:49px"/><rect x="336" fill="#0024ff"/><rect x="352" fill="#0020ff"/><rect x="368" fill="#0010ff"/><rect x="384" fill="#00f" style="width:33px"/><rect x="416" fill="#0000f1"/><rect x="432" fill="#0000e8"/><rect x="448" fill="#0000ed" style="width:33px"/><rect x="480" fill="#0000e3"/><rect x="496" fill="#0000da"/><rect x="512" fill="#0000cd"/><rect x="528" fill="#0000c4" style="width:65px"/><rect x="592" fill="#0000c8"/><rect x="608" fill="#0000bf"/><rect x="624" fill="#0000b6"/><rect x="640" fill="#0000a8"/><rect x="656" fill="#0000a4"/><rect x="672" fill="#00009f"/><rect x="688" fill="#00009b"/><rect x="704" fill="#000092"/><rect x="720" fill="#000089"/><rect x="736" fill="#00008d" style="width:49px"/></g>
<g transform="translate(1156 397)"><rect x="0" fill="#ff1600" style="width:33px"/><rect x="32" fill="#ff4300"/><rect x="48" fill="#ffa300"/><rect x="64" fill="#eeff09"/><rect x="80" fill="#9dff5a"/><rect x="96" fill="#49ffad"/><rect x="112" fill="#19ffde"/><rect x="128" fill="#00e0fb"/><rect x="144" fill="#00c0ff"/><rect x="160" fill="#00a4ff"/><rect x="176" fill="#08f"/><rect x="192" fill="#0070ff"/><rect x="208" fill="#0064ff" style="width:33px"/><rect x="240" fill="#0050ff"/><rect x="256" fill="#003cff"/><rect x="272" fill="#002cff"/><rect x="288" fill="#0024ff"/><rect x="304" fill="#0020ff" style="width:33px"/><rect x="336" fill="#0024ff"/><rect x="352" fill="#0020ff"/><rect x="368" fill="#0014ff"/><rect x="384" fill="#0004ff"/><rect x="400" fill="#00f"/><rect x="416" fill="#0000f6"/><rect x="432" fill="#0000ed"/><rect x="448" fill="#0000e8"/><rect x="464" fill="#0000ed"/><rect x="480" fill="#0000e3"/><rect x="496" fill="#0000da"/><rect x="512" fill="#0000d1" style="width:113px"/><rect x="624" fill="#0000cd"/><rect x="640" fill="#0000bf"/><rect x="656" fill="#0000b2"/><rect x="672" fill="#0000a8"/><rect x="688" fill="#0000a4"/><rect x="704" fill="#00009b"/><rect x="720" fill="#000096"/><rect x="736" fill="#00009b" style="width:49px"/></g>
<g transform="translate(1156 413)"><rect x="0" fill="#ff1a00" style="width:33px"/><rect x="32" fill="#ff4a00"/><rect x="48" fill="#ffa700"/><rect x="64" fill="#ebff0c"/><rect x="80" fill="#9aff5d"/><rect x="96" fill="#46ffb1"/><rect x="112" fill="#1cffdb"/><rect x="128" fill="#00e4f8"/><rect x="144" fill="#00c4ff"/><rect x="160" fill="#00a8ff"/><rect x="176" fill="#0094ff"/><rect x="192" fill="#0080ff"/><rect x="208" fill="#0070ff"/><rect x="224" fill="#0064ff"/><rect x="240" fill="#0054ff"/><rect x="256" fill="#0048ff"/><rect x="272" fill="#003cff"/><rect x="288" fill="#0030ff"/><rect x="304" fill="#0024ff"/><rect x="320" fill="#0020ff" style="width:33px"/><rect x="352" fill="#0024ff"/><rect x="368" fill="#0018ff"/><rect x="384" fill="#0004ff"/><rect x="400" fill="#00f" style="width:49px"/><rect x="448" fill="#0000f6"/><rect x="464" fill="#0000ed"/><rect x="480" fill="#0000e8"/><rect x="496" fill="#0000df" style="width:145px"/><rect x="640" fill="#0000d1" style="width:33px"/><rect x="672" fill="#0000c8"/><rect x="688" fill="#0000bf"/><rect x="704" fill="#0000b6"/><rect x="720" fill="#0000ad"/><rect x="736" fill="#0000a4" style="width:49px"/></g>
<g transform="translate(1156 429)"><rect x="0" fill="#ff1a00" style="width:33px"/><rect x="32" fill="#ff4e00"/><rect x="48" fill="#ffab00"/><rect x="64" fill="#e7ff0f"/><rect x="80" fill="#94ff63"/><rect x="96" fill="#46ffb1"/><rect x="112" fill="#1cffdb"/><rect x="128" fill="#00e4f8"/><rect x="144" fill="#0cf"/><rect x="160" fill="#00b4ff"/><rect x="176" fill="#00a0ff"/><rect x="192" fill="#0090ff"/><rect x="208" fill="#0080ff"/><rect x="224" fill="#0070ff"/><rect x="240" fill="#0064ff"/><rect x="256" fill="#0054ff"/><rect x="272" fill="#0048ff"/><rect x="288" fill="#0040ff"/><rect x="304" fill="#0034ff"/><rect x="320" fill="#0028ff"/><rect x="336" fill="#0020ff" style="width:33px"/><rect x="368" fill="#0018ff"/><rect x="384" fill="#0014ff"/><rect x="400" fill="#0010ff" style="width:33px"/><rect x="432" fill="#0008ff"/><rect x="448" fill="#00f" style="width:33px"/><rect x="480" fill="#0000f6"/><rect x="496" fill="#0000ed"/><rect x="512" fill="#0000e8"/><rect x="528" fill="#0000ed" style="width:97px"/><rect x="624" fill="#0000f1" style="width:49px"/><rect x="672" fill="#0000e8"/><rect x="688" fill="#0000da"/><rect x="704" fill="#0000d1"/><rect x="720" fill="#0000c8"/><rect x="736" fill="#0000c4" style="width:49px"/></g>
<g transform="translate(1156 445)"><rect x="0" fill="#ff1a00" style="width:33px"/><rect x="32" fill="#f50"/><rect x="48" fill="#ffb200"/><rect x="64" fill="#e1ff16"/><rect x="80" fill="#90ff66"/><rect x="96" fill="#46ffb1"/><rect x="112" fill="#1fffd7"/><rect x="128" fill="#02e8f4"/><rect x="144" fill="#00d0ff"/><rect x="160" fill="#00bcff"/><rect x="176" fill="#00acff"/><rect x="192" fill="#0098ff"/><rect x="208" fill="#008cff"/><rect x="224" fill="#007cff"/><rect x="240" fill="#0070ff"/><rect x="256" fill="#0060ff"/><rect x="272" fill="#0058ff"/><rect x="288" fill="#0050ff"/><rect x="304" fill="#0048ff"/><rect x="320" fill="#003cff"/><rect x="336" fill="#0034ff"/><rect x="352" fill="#0030ff"/><rect x="368" fill="#002cff"/><rect x="384" fill="#0028ff"/><rect x="400" fill="#0024ff"/><rect x="416" fill="#0020ff"/><rect x="432" fill="#0018ff"/><rect x="448" fill="#0010ff"/><rect x="464" fill="#0004ff"/><rect x="480" fill="#00f" style="width:209px"/><rect x="688" fill="#0000f6"/><rect x="704" fill="#0000ed"/><rect x="720" fill="#0000e3"/><rect x="736" fill="#0000df" style="width:49px"/></g>
<g transform="translate(1156 461)"><rect x="0" fill="#ff1e00" style="width:33px"/><rect x="32" fill="#ff5900"/><rect x="48" fill="#ffb900"/><rect x="64" fill="#deff19"/><rect x="80" fill="#8dff6a"/><rect x="96" fill="#46ffb1"/><rect x="112" fill="#1fffd7"/><rect x="128" fill="#06ecf1"/><rect x="144" fill="#00d8ff"/><rect x="160" fill="#00c8ff"/><rect x="176" fill="#00b4ff"/><rect x="192" fill="#00a4ff"/><rect x="208" fill="#0094ff"/><rect x="224" fill="#08f"/><rect x="240" fill="#007cff"/><rect x="256" fill="#0070ff"/><rect x="272" fill="#0068ff"/><rect x="288" fill="#0064ff"/><rect x="304" fill="#005cff"/><rect x="320" fill="#0054ff"/><rect x="336" fill="#004cff"/><rect x="352" fill="#0048ff"/><rect x="368" fill="#0040ff"/><rect x="384" fill="#003cff"/><rect x="400" fill="#0038ff"/><rect x="416" fill="#0034ff"/><rect x="432" fill="#002cff"/><rect x="448" fill="#0020ff"/><rect x="464" fill="#0018ff"/><rect x="480" fill="#000cff"/><rect x="496" fill="#00f" style="width:49px"/><rect x="544" fill="#0004ff" style="width:33px"/><rect x="576" fill="#0008ff" style="width:33px"/><rect x="608" fill="#000cff"/><rect x="624" fill="#0010ff"/><rect x="640" fill="#0014ff" style="width:33px"/><rect x="672" fill="#0008ff"/><rect x="688" fill="#00f" style="width:33px"/><rect x="720" fill="#0000fa"/><rect x="736" fill="#0000f1" style="width:49px"/></g>
<g transform="translate(1156 477)"><rect x="0" fill="#ff1a00" style="width:33px"/><rect x="32" fill="#ff5200"/><rect x="48" fill="#ffab00"/><rect x="64" fill="#e7ff0f"/><rect x="80" fill="#9aff5d"/><rect x="96" fill="#53ffa4"/><rect x="112" fill="#29ffce"/><rect x="128" fill="#13fce4"/><rect x="144" fill="#00e4f8"/><rect x="160" fill="#00d4ff"/><rect x="176" fill="#00c0ff"/><rect x="192" fill="#00acff"/><rect x="208" fill="#00a0ff"/><rect x="224" fill="#0094ff"/><rect x="240" fill="#08f"/><rect x="256" fill="#0084ff"/><rect x="272" fill="#007cff"/><rect x="288" fill="#0078ff"/><rect x="304" fill="#0070ff"/><rect x="320" fill="#0068ff"/><rect x="336" fill="#0064ff"/><rect x="352" fill="#005cff"/><rect x="368" fill="#0054ff"/><rect x="384" fill="#0050ff"/><rect x="400" fill="#004cff"/><rect x="416" fill="#04f"/><rect x="432" fill="#003cff"/><rect x="448" fill="#0030ff"/><rect x="464" fill="#0028ff"/><rect x="480" fill="#001cff"/><rect x="496" fill="#0014ff"/><rect x="512" fill="#0010ff"/><rect x="528" fill="#0014ff"/><rect x="544" fill="#0018ff" style="width:33px"/><rect x="576" fill="#001cff"/><rect x="592" fill="#0020ff" style="width:33px"/><rect x="624" fill="#0024ff"/><rect x="640" fill="#0028ff" style="width:33px"/><rect x="672" fill="#001cff"/><rect x="688" fill="#000cff"/><rect x="704" fill="#0004ff"/><rect x="720" fill="#00f"/><rect x="736" fill="#0000f1" style="width:49px"/></g>
<g transform="translate(1156 493)"><rect x="0" fill="#ff1600" style="width:33px"/><rect x="32" fill="#ff4300"/><rect x="48" fill="#ff9c00"/><rect x="64" fill="#f4f802"/><rect x="80" fill="#a7ff50"/><rect x="96" fill="#6aff8d"/><rect x="112" fill="#39ffbe"/><rect x="128" fill="#23ffd4"/><rect x="144" fill="#0cf4eb"/><rect x="160" fill="#00e0fb"/><rect x="176" fill="#00d0ff"/><rect x="192" fill="#00bcff"/><rect x="208" fill="#00acff"/><rect x="224" fill="#00a4ff"/><rect x="240" fill="#009cff"/><rect x="256" fill="#0098ff"/><rect x="272" fill="#0090ff"/><rect x="288" fill="#008cff"/><rect x="304" fill="#0084ff"/><rect x="320" fill="#007cff"/><rect x="336" fill="#0078ff"/><rect x="352" fill="#0070ff"/><rect x="368" fill="#0068ff"/><rect x="384" fill="#0064ff"/><rect x="400" fill="#005cff"/><rect x="416" fill="#0054ff"/><rect x="432" fill="#004cff"/><rect x="448" fill="#0040ff"/><rect x="464" fill="#0038ff"/><rect x="480" fill="#002cff"/><rect x="496" fill="#0024ff" style="width:49px"/><rect x="544" fill="#0028ff"/><rect x="560" fill="#002cff"/><rect x="576" fill="#0030ff" style="width:33px"/><rect x="608" fill="#0034ff"/><rect x="624" fill="#0038ff"/><rect x="640" fill="#003cff" style="width:33px"/><rect x="672" fill="#002cff"/><rect x="688" fill="#001cff"/><rect x="704" fill="#0014ff"/><rect x="720" fill="#0008ff" style="width:65px"/></g>
<g transform="translate(1156 509)"><rect x="0" fill="#fa0f00" style="width:33px"/><rect x="32" fill="#ff3400"/><rect x="48" fill="#ff9100"/><rect x="64" fill="#ffea00"/><rect x="80" fill="#b4ff43"/><rect x="96" fill="#80ff77"/><rect x="112" fill="#56ffa0"/><rect x="128" fill="#36ffc1"/><rect x="144" fill="#1fffd7"/><rect x="160" fill="#0cf4eb"/><rect x="176" fill="#00e4f8"/><rect x="192" fill="#00d4ff"/><rect x="208" fill="#00c8ff"/><rect x="224" fill="#00bcff"/><rect x="240" fill="#00b4ff"/><rect x="256" fill="#00acff"/><rect x="272" fill="#00a4ff"/><rect x="288" fill="#00a0ff"/><rect x="304" fill="#0098ff"/><rect x="320" fill="#0090ff"/><rect x="336" fill="#008cff"/><rect x="352" fill="#0084ff"/><rect x="368" fill="#0080ff"/><rect x="384" fill="#0078ff"/><rect x="400" fill="#0070ff"/><rect x="416" fill="#0068ff"/><rect x="432" fill="#005cff"/><rect x="448" fill="#0050ff"/><rect x="464" fill="#0048ff"/><rect x="480" fill="#003cff"/><rect x="496" fill="#0034ff"/><rect x="512" fill="#0038ff" style="width:33px"/><rect x="544" fill="#003cff"/><rect x="560" fill="#0040ff" style="width:33px"/><rect x="592" fill="#04f"/><rect x="608" fill="#0048ff"/><rect x="624" fill="#004cff"/><rect x="640" fill="#0050ff" style="width:33px"/><rect x="672" fill="#0040ff"/><rect x="688" fill="#0030ff"/><rect x="704" fill="#0020ff"/><rect x="720" fill="#0014ff"/><rect x="736" fill="#0018ff" style="width:49px"/></g>
<g transform="translate(1156 525)"><rect x="0" fill="#f10800" style="width:33px"/><rect x="32" fill="#ff2900"/><rect x="48" fill="#ff8200"/><rect x="64" fill="#ffdb00"/><rect x="80" fill="#c1ff36"/><rect x="96" fill="#90ff66"/><rect x="112" fill="#6dff8a"/><rect x="128" fill="#4dffaa"/><rect x="144" fill="#33ffc4"/><rect x="160" fill="#23ffd4"/><rect x="176" fill="#13fce4"/><rect x="192" fill="#06ecf1"/><rect x="208" fill="#00dcfe"/><rect x="224" fill="#00d0ff"/><rect x="240" fill="#00c8ff"/><rect x="256" fill="#00c4ff"/><rect x="272" fill="#00bcff"/><rect x="288" fill="#00b4ff"/><rect x="304" fill="#00acff"/><rect x="320" fill="#00a4ff"/><rect x="336" fill="#009cff"/><rect x="352" fill="#0098ff"/><rect x="368" fill="#0094ff"/><rect x="384" fill="#0090ff"/><rect x="400" fill="#08f"/><rect x="416" fill="#0080ff"/><rect x="432" fill="#0070ff"/><rect x="448" fill="#0060ff"/><rect x="464" fill="#0058ff"/><rect x="480" fill="#0050ff"/><rect x="496" fill="#0048ff"/><rect x="512" fill="#004cff" style="width:33px"/><rect x="544" fill="#0050ff"/><rect x="560" fill="#0054ff" style="width:33px"/><rect x="592" fill="#0058ff" style="width:33px"/><rect x="624" fill="#005cff"/><rect x="640" fill="#0064ff" style="width:33px"/><rect x="672" fill="#0054ff"/><rect x="688" fill="#0048ff"/><rect x="704" fill="#0038ff"/><rect x="720" fill="#0024ff"/><rect x="736" fill="#001cff" style="width:49px"/></g>
<g transform="translate(1156 541)"><rect x="0" fill="#e80000" style="width:33px"/><rect x="32" fill="#f20"/><rect x="48" fill="#ff7a00"/><rect x="64" fill="#fc0"/><rect x="80" fill="#d1ff26"/><rect x="96" fill="#9aff5d"/><rect x="112" fill="#7dff7a"/><rect x="128" fill="#60ff97"/><rect x="144" fill="#46ffb1"/><rect x="160" fill="#30ffc7"/><rect x="176" fill="#23ffd4"/><rect x="192" fill="#16ffe1"/><rect x="208" fill="#0cf4eb"/><rect x="224" fill="#00e4f8"/><rect x="240" fill="#00e0fb"/><rect x="256" fill="#00dcfe"/><rect x="272" fill="#00d8ff"/><rect x="288" fill="#00d0ff"/><rect x="304" fill="#0cf"/><rect x="320" fill="#00c4ff"/><rect x="336" fill="#00b8ff"/><rect x="352" fill="#00b4ff"/><rect x="368" fill="#00acff"/><rect x="384" fill="#00a4ff"/><rect x="400" fill="#00a0ff"/><rect x="416" fill="#0098ff"/><rect x="432" fill="#008cff"/><rect x="448" fill="#007cff"/><rect x="464" fill="#0070ff"/><rect x="480" fill="#0064ff"/><rect x="496" fill="#005cff"/><rect x="512" fill="#0060ff" style="width:33px"/><rect x="544" fill="#0064ff"/><rect x="560" fill="#0068ff"/><rect x="576" fill="#006cff"/><rect x="592" fill="#0070ff"/><rect x="608" fill="#0074ff"/><rect x="624" fill="#007cff"/><rect x="640" fill="#0084ff"/><rect x="656" fill="#08f"/><rect x="672" fill="#0074ff"/><rect x="688" fill="#0064ff"/><rect x="704" fill="#0058ff"/><rect x="720" fill="#04f"/><rect x="736" fill="#002cff" style="width:49px"/></g>
<g transform="translate(1156 557)"><rect x="0" fill="#df0000" style="width:33px"/><rect x="32" fill="#ff1e00"/><rect x="48" fill="#ff7300"/><rect x="64" fill="#ffc100"/><rect x="80" fill="#deff19"/><rect x="96" fill="#a4ff53"/><rect x="112" fill="#87ff70"/><rect x="128" fill="#6dff8a"/><rect x="144" fill="#56ffa0"/><rect x="160" fill="#40ffb7"/><rect x="176" fill="#30ffc7"/><rect x="192" fill="#26ffd1"/><rect x="208" fill="#1cffdb"/><rect x="224" fill="#16ffe1"/><rect x="240" fill="#13fce4"/><rect x="256" fill="#0ff8e7"/><rect x="272" fill="#0cf4eb"/><rect x="288" fill="#09f0ee"/><rect x="304" fill="#02e8f4"/><rect x="320" fill="#00e4f8"/><rect x="336" fill="#00dcfe"/><rect x="352" fill="#00d8ff"/><rect x="368" fill="#00d0ff"/><rect x="384" fill="#00c8ff"/><rect x="400" fill="#00c0ff"/><rect x="416" fill="#00b8ff"/><rect x="432" fill="#00b0ff"/><rect x="448" fill="#00a4ff"/><rect x="464" fill="#0098ff"/><rect x="480" fill="#008cff"/><rect x="496" fill="#0080ff" style="width:33px"/><rect x="528" fill="#08f"/><rect x="544" fill="#008cff"/><rect x="560" fill="#0090ff"/><rect x="576" fill="#0098ff"/><rect x="592" fill="#009cff"/><rect x="608" fill="#00a4ff"/><rect x="624" fill="#00a8ff"/><rect x="640" fill="#00b0ff" style="width:33px"/><rect x="672" fill="#00a4ff"/><rect x="688" fill="#0090ff"/><rect x="704" fill="#0080ff"/><rect x="720" fill="#0070ff"/><rect x="736" fill="#0064ff" style="width:49px"/></g>
<g transform="translate(1156 573)"><rect x="0" fill="#d60000" style="width:33px"/><rect x="32" fill="#ff1a00"/><rect x="48" fill="#ff6f00"/><rect x="64" fill="#ffb600"/><rect x="80" fill="#e7ff0f"/><rect x="96" fill="#adff49"/><rect x="112" fill="#90ff66"/><rect x="128" fill="#7aff7d"/><rect x="144" fill="#6aff8d"/><rect x="160" fill="#53ffa4"/><rect x="176" fill="#3cffba"/><rect x="192" fill="#36ffc1"/><rect x="208" fill="#33ffc4"/><rect x="224" fill="#30ffc7"/><rect x="240" fill="#2cffca"/><rect x="256" fill="#29ffce"/><rect x="272" fill="#26ffd1"/><rect x="288" fill="#23ffd4"/><rect x="304" fill="#1fffd7"/><rect x="320" fill="#1cffdb"/><rect x="336" fill="#19ffde"/><rect x="352" fill="#13fce4"/><rect x="368" fill="#0cf4eb"/><rect x="384" fill="#09f0ee"/><rect x="400" fill="#02e8f4"/><rect x="416" fill="#00e4f8"/><rect x="432" fill="#00d8ff"/><rect x="448" fill="#0cf"/><rect x="464" fill="#00c0ff"/><rect x="480" fill="#00b4ff"/><rect x="496" fill="#00a8ff"/><rect x="512" fill="#00acff"/><rect x="528" fill="#00b0ff"/><rect x="544" fill="#00b8ff"/><rect x="560" fill="#00bcff"/><rect x="576" fill="#00c0ff"/><rect x="592" fill="#00c8ff"/><rect x="608" fill="#0cf"/><rect x="624" fill="#00d4ff"/><rect x="640" fill="#00dcfe"/><rect x="656" fill="#00e0fb"/><rect x="672" fill="#00d0ff"/><rect x="688" fill="#00c0ff"/><rect x="704" fill="#00b0ff"/><rect x="720" fill="#00a0ff"/><rect x="736" fill="#0090ff" style="width:49px"/></g>
<g transform="translate(1156 589)"><rect x="0" fill="#cd0000" style="width:33px"/><rect x="32" fill="#ff1600"/><rect x="48" fill="#ff6800"/><rect x="64" fill="#ffae00"/><rect x="80" fill="#f4f802"/><rect x="96" fill="#b7ff40"/><rect x="112" fill="#97ff60"/><rect x="128" fill="#87ff70"/><rect x="144" fill="#7aff7d"/><rect x="160" fill="#66ff90"/><rect x="176" fill="#50ffa7"/><rect x="192" fill="#49ffad" style="width:33px"/><rect x="224" fill="#46ffb1" style="width:33px"/><rect x="256" fill="#43ffb4"/><rect x="272" fill="#40ffb7" style="width:33px"/><rect x="304" fill="#3cffba" style="width:33px"/><rect x="336" fill="#39ffbe"/><rect x="352" fill="#33ffc4"/><rect x="368" fill="#2cffca"/><rect x="384" fill="#26ffd1"/><rect x="400" fill="#23ffd4"/><rect x="416" fill="#1cffdb"/><rect x="432" fill="#13fce4"/><rect x="448" fill="#0cf4eb"/><rect x="464" fill="#02e8f4"/><rect x="480" fill="#00dcfe"/><rect x="496" fill="#00d0ff"/><rect x="512" fill="#00d4ff"/><rect x="528" fill="#00d8ff"/><rect x="544" fill="#00e0fb"/><rect x="560" fill="#00e4f8"/><rect x="576" fill="#06ecf1"/><rect x="592" fill="#0cf4eb"/><rect x="608" fill="#0ff8e7"/><rect x="624" fill="#16ffe1"/><rect x="640" fill="#1cffdb"/><rect x="656" fill="#1fffd7"/><rect x="672" fill="#13fce4"/><rect x="688" fill="#02e8f4"/><rect x="704" fill="#00d8ff"/><rect x="720" fill="#00c8ff"/><rect x="736" fill="#00b4ff" style="width:49px"/></g>
<g transform="translate(1156 605)"><rect x="0" fill="#c80000" style="width:33px"/><rect x="32" fill="#ff1300"/><rect x="48" fill="#ff6400"/><rect x="64" fill="#ffa700"/><rect x="80" fill="#ffea00"/><rect x="96" fill="#c4ff33"/><rect x="112" fill="#a4ff53"/><rect x="128" fill="#97ff60"/><rect x="144" fill="#8aff6d"/><rect x="160" fill="#77ff80"/><rect x="176" fill="#66ff90"/><rect x="192" fill="#60ff97" style="width:49px"/><rect x="240" fill="#5dff9a" style="width:49px"/><rect x="288" fill="#5aff9d" style="width:49px"/><rect x="336" fill="#56ffa0"/><rect x="352" fill="#53ffa4"/><rect x="368" fill="#4dffaa"/><rect x="384" fill="#46ffb1"/><rect x="400" fill="#40ffb7"/><rect x="416" fill="#39ffbe"/><rect x="432" fill="#33ffc4"/><rect x="448" fill="#29ffce"/><rect x="464" fill="#1fffd7"/><rect x="480" fill="#16ffe1"/><rect x="496" fill="#0ff8e7"/><rect x="512" fill="#13fce4"/><rect x="528" fill="#16ffe1"/><rect x="544" fill="#1cffdb"/><rect x="560" fill="#23ffd4"/><rect x="576" fill="#26ffd1"/><rect x="592" fill="#2cffca"/><rect x="608" fill="#33ffc4"/><rect x="624" fill="#39ffbe"/><rect x="640" fill="#40ffb7"/><rect x="656" fill="#43ffb4"/><rect x="672" fill="#36ffc1"/><rect x="688" fill="#26ffd1"/><rect x="704" fill="#19ffde"/><rect x="720" fill="#0cf4eb"/><rect x="736" fill="#02e8f4" style="width:49px"/></g>
<g transform="translate(1156 621)"><rect x="0" fill="#c80000" style="width:33px"/><rect x="32" fill="#f60b00"/><rect x="48" fill="#ff5d00"/><rect x="64" fill="#ff9c00"/><rect x="80" fill="#ffdb00"/><rect x="96" fill="#d7ff1f"/><rect x="112" fill="#baff3c"/><rect x="128" fill="#aaff4d"/><rect x="144" fill="#9dff5a"/><rect x="160" fill="#90ff66"/><rect x="176" fill="#80ff77"/><rect x="192" fill="#7aff7d" style="width:33px"/><rect x="224" fill="#77ff80" style="width:129px"/><rect x="352" fill="#70ff87"/><rect x="368" fill="#6aff8d"/><rect x="384" fill="#63ff94"/><rect x="400" fill="#5dff9a"/><rect x="416" fill="#5aff9d"/><rect x="432" fill="#50ffa7"/><rect x="448" fill="#46ffb1"/><rect x="464" fill="#40ffb7"/><rect x="480" fill="#36ffc1"/><rect x="496" fill="#2cffca"/><rect x="512" fill="#30ffc7"/><rect x="528" fill="#36ffc1"/><rect x="544" fill="#3cffba"/><rect x="560" fill="#43ffb4"/><rect x="576" fill="#49ffad"/><rect x="592" fill="#50ffa7"/><rect x="608" fill="#56ffa0"/><rect x="624" fill="#5aff9d"/><rect x="640" fill="#63ff94"/><rect x="656" fill="#66ff90"/><rect x="672" fill="#56ffa0"/><rect x="688" fill="#49ffad"/><rect x="704" fill="#39ffbe"/><rect x="720" fill="#2cffca"/><rect x="736" fill="#26ffd1" style="width:49px"/></g>
<g transform="translate(1156 637)"><rect x="0" fill="#c40000" style="width:33px"/><rect x="32" fill="#f60b00"/><rect x="48" fill="#ff4e00"/><rect x="64" fill="#ff8900"/><rect x="80" fill="#ffc400"/><rect x="96" fill="#e7ff0f"/><rect x="112" fill="#c7ff30"/><rect x="128" fill="#beff39"/><rect x="144" fill="#b4ff43"/><rect x="160" fill="#adff49"/><rect x="176" fill="#a4ff53"/><rect x="192" fill="#9dff5a"/><rect x="208" fill="#94ff63"/><rect x="224" fill="#90ff66" style="width:81px"/><rect x="304" fill="#94ff63" style="width:49px"/><rect x="352" fill="#90ff66"/><rect x="368" fill="#8aff6d"/><rect x="384" fill="#83ff73"/><rect x="400" fill="#7dff7a"/><rect x="416" fill="#77ff80"/><rect x="432" fill="#6dff8a"/><rect x="448" fill="#66ff90"/><rect x="464" fill="#5dff9a"/><rect x="480" fill="#53ffa4"/><rect x="496" fill="#4dffaa"/><rect x="512" fill="#50ffa7"/><rect x="528" fill="#56ffa0"/><rect x="544" fill="#5dff9a"/><rect x="560" fill="#63ff94"/><rect x="576" fill="#6aff8d"/><rect x="592" fill="#70ff87"/><rect x="608" fill="#77ff80"/><rect x="624" fill="#7dff7a"/><rect x="640" fill="#83ff73"/><rect x="656" fill="#87ff70"/><rect x="672" fill="#77ff80"/><rect x="688" fill="#6aff8d"/><rect x="704" fill="#5aff9d"/><rect x="720" fill="#4dffaa"/><rect x="736" fill="#3cffba" style="width:49px"/></g>
<g transform="translate(1156 653)"><rect x="0" fill="#c40000" style="width:33px"/><rect x="32" fill="#f10800"/><rect x="48" fill="#ff3f00"/><rect x="64" fill="#ff6c00"/><rect x="80" fill="#ffa300"/><rect x="96" fill="#ffd300"/><rect x="112" fill="#deff19"/><rect x="128" fill="#d1ff26"/><rect x="144" fill="#caff2c"/><rect x="160" fill="#c4ff33"/><rect x="176" fill="#beff39"/><rect x="192" fill="#b4ff43"/><rect x="208" fill="#adff49"/><rect x="224" fill="#a7ff50"/><rect x="240" fill="#aaff4d" style="width:33px"/><rect x="272" fill="#adff49" style="width:33px"/><rect x="304" fill="#b1ff46" style="width:33px"/><rect x="336" fill="#b4ff43"/><rect x="352" fill="#adff49"/><rect x="368" fill="#a7ff50"/><rect x="384" fill="#a0ff56"/><rect x="400" fill="#9aff5d"/><rect x="416" fill="#94ff63"/><rect x="432" fill="#8aff6d"/><rect x="448" fill="#83ff73"/><rect x="464" fill="#7dff7a"/><rect x="480" fill="#73ff83"/><rect x="496" fill="#6aff8d"/><rect x="512" fill="#70ff87"/><rect x="528" fill="#77ff80"/><rect x="544" fill="#7dff7a"/><rect x="560" fill="#83ff73"/><rect x="576" fill="#8aff6d"/><rect x="592" fill="#90ff66"/><rect x="608" fill="#97ff60"/><rect x="624" fill="#9dff5a"/><rect x="640" fill="#a4ff53"/><rect x="656" fill="#a7ff50"/><rect x="672" fill="#97ff60"/><rect x="688" fill="#87ff70"/><rect x="704" fill="#7aff7d"/><rect x="720" fill="#6dff8a"/><rect x="736" fill="#66ff90" style="width:49px"/></g>
<g transform="translate(1156 669)"><rect x="0" fill="#c40000" style="width:33px"/><rect x="32" fill="#ed0400"/><rect x="48" fill="#ff3400"/><rect x="64" fill="#f50"/><rect x="80" fill="#ff8600"/><rect x="96" fill="#ffb200"/><rect x="112" fill="#ffd700"/><rect x="128" fill="#f1fc06"/><rect x="144" fill="#e1ff16"/><rect x="160" fill="#dbff1c"/><rect x="176" fill="#d1ff26"/><rect x="192" fill="#caff2c"/><rect x="208" fill="#c4ff33" style="width:49px"/><rect x="256" fill="#c7ff30" style="width:33px"/><rect x="288" fill="#caff2c" style="width:33px"/><rect x="320" fill="#ceff29"/><rect x="336" fill="#d1ff26"/><rect x="352" fill="#caff2c"/><rect x="368" fill="#c4ff33"/><rect x="384" fill="#c1ff36"/><rect x="400" fill="#b7ff40"/><rect x="416" fill="#b1ff46"/><rect x="432" fill="#aaff4d"/><rect x="448" fill="#a4ff53"/><rect x="464" fill="#9aff5d"/><rect x="480" fill="#94ff63"/><rect x="496" fill="#8aff6d"/><rect x="512" fill="#90ff66"/><rect x="528" fill="#97ff60"/><rect x="544" fill="#9dff5a"/><rect x="560" fill="#a4ff53"/><rect x="576" fill="#aaff4d"/><rect x="592" fill="#b1ff46"/><rect x="608" fill="#b7ff40"/><rect x="624" fill="#beff39"/><rect x="640" fill="#c4ff33"/><rect x="656" fill="#c7ff30"/><rect x="672" fill="#b7ff40"/><rect x="688" fill="#a7ff50"/><rect x="704" fill="#97ff60"/><rect x="720" fill="#8aff6d"/><rect x="736" fill="#7aff7d" style="width:49px"/></g>
<g transform="translate(1156 685)"><rect x="0" fill="#bf0000" style="width:33px"/><rect x="32" fill="#e40000"/><rect x="48" fill="#ff2500"/><rect x="64" fill="#ff4300"/><rect x="80" fill="#ff6f00"/><rect x="96" fill="#ff9f00"/><rect x="112" fill="#ffbd00"/><rect x="128" fill="#ffd700"/><rect x="144" fill="#feed00"/><rect x="160" fill="#f8f500"/><rect x="176" fill="#eeff09"/><rect x="192" fill="#e1ff16" style="width:33px"/><rect x="224" fill="#e4ff13"/><rect x="240" fill="#e7ff0f"/><rect x="256" fill="#ebff0c" style="width:33px"/><rect x="288" fill="#eeff09"/><rect x="304" fill="#f1fc06"/><rect x="320" fill="#f4f802"/><rect x="336" fill="#f8f500"/><rect x="352" fill="#f4f802"/><rect x="368" fill="#ebff0c"/><rect x="384" fill="#e4ff13"/><rect x="400" fill="#deff19"/><rect x="416" fill="#d7ff1f"/><rect x="432" fill="#d1ff26"/><rect x="448" fill="#caff2c"/><rect x="464" fill="#c4ff33"/><rect x="480" fill="#baff3c"/><rect x="496" fill="#b1ff46"/><rect x="512" fill="#b7ff40"/><rect x="528" fill="#c1ff36"/><rect x="544" fill="#c7ff30"/><rect x="560" fill="#ceff29"/><rect x="576" fill="#d4ff23"/><rect x="592" fill="#dbff1c"/><rect x="608" fill="#deff19"/><rect x="624" fill="#e4ff13"/><rect x="640" fill="#ebff0c"/><rect x="656" fill="#f1fc06"/><rect x="672" fill="#e4ff13"/><rect x="688" fill="#d4ff23"/><rect x="704" fill="#c4ff33"/><rect x="720" fill="#b4ff43"/><rect x="736" fill="#aaff4d" style="width:49px"/></g>
<g transform="translate(1156 701)"><rect x="0" fill="#b60000" style="width:33px"/><rect x="32" fill="#cd0000"/><rect x="48" fill="#f60b00"/><rect x="64" fill="#ff2d00"/><rect x="80" fill="#f50"/><rect x="96" fill="#ff8900"/><rect x="112" fill="#ffa700"/><rect x="128" fill="#ffb900"/><rect x="144" fill="#ffc100"/><rect x="160" fill="#fc0"/><rect x="176" fill="#ffd700" style="width:33px"/><rect x="208" fill="#ffd300"/><rect x="224" fill="#ffd000"/><rect x="240" fill="#fc0"/><rect x="256" fill="#ffc800"/><rect x="272" fill="#ffc400"/><rect x="288" fill="#ffc100"/><rect x="304" fill="#ffbd00"/><rect x="320" fill="#ffb900"/><rect x="336" fill="#ffb600"/><rect x="352" fill="#ffb900"/><rect x="368" fill="#ffc400"/><rect x="384" fill="#fc0"/><rect x="400" fill="#ffd300"/><rect x="416" fill="#ffdb00"/><rect x="432" fill="#ffe600"/><rect x="448" fill="#feed00"/><rect x="464" fill="#f8f500"/><rect x="480" fill="#eeff09"/><rect x="496" fill="#e7ff0f"/><rect x="512" fill="#eeff09"/><rect x="528" fill="#f4f802"/><rect x="544" fill="#fbf100"/><rect x="560" fill="#ffea00"/><rect x="576" fill="#ffe200"/><rect x="592" fill="#ffdb00"/><rect x="608" fill="#ffd300"/><rect x="624" fill="#fc0"/><rect x="640" fill="#ffc400"/><rect x="656" fill="#ffbd00"/><rect x="672" fill="#fc0"/><rect x="688" fill="#ffdb00"/><rect x="704" fill="#feed00"/><rect x="720" fill="#f1fc06"/><rect x="736" fill="#e4ff13" style="width:49px"/></g>
<g transform="translate(1156 717)"><rect x="0" fill="#a40000" style="width:33px"/><rect x="32" fill="#b20000"/><rect x="48" fill="#da0000"/><rect x="64" fill="#fa0f00"/><rect x="80" fill="#ff3800"/><rect x="96" fill="#ff6c00"/><rect x="112" fill="#ff8600"/><rect x="128" fill="#ff8900"/><rect x="144" fill="#ff9100"/><rect x="160" fill="#ff9800"/><rect x="176" fill="#ff9f00" style="width:33px"/><rect x="208" fill="#ff9c00"/><rect x="224" fill="#ff9800"/><rect x="240" fill="#ff9100"/><rect x="256" fill="#ff8d00"/><rect x="272" fill="#ff8900"/><rect x="288" fill="#ff8600"/><rect x="304" fill="#ff8200"/><rect x="320" fill="#ff7a00"/><rect x="336" fill="#f70"/><rect x="352" fill="#ff7a00"/><rect x="368" fill="#ff8600"/><rect x="384" fill="#ff8d00"/><rect x="400" fill="#ff9400"/><rect x="416" fill="#ff9c00"/><rect x="432" fill="#ffa300"/><rect x="448" fill="#ffae00"/><rect x="464" fill="#ffb600"/><rect x="480" fill="#ffbd00"/><rect x="496" fill="#ffc800"/><rect x="512" fill="#ffc100"/><rect x="528" fill="#ffb900"/><rect x="544" fill="#ffb200"/><rect x="560" fill="#ffab00"/><rect x="576" fill="#ffa300"/><rect x="592" fill="#ff9c00"/><rect x="608" fill="#ff9400"/><rect x="624" fill="#ff8d00"/><rect x="640" fill="#ff8200"/><rect x="656" fill="#ff7e00"/><rect x="672" fill="#ff8d00"/><rect x="688" fill="#ff9c00"/><rect x="704" fill="#ffab00"/><rect x="720" fill="#ffb900"/><rect x="736" fill="#fc0" style="width:49px"/></g>
<g transform="translate(1156 733)"><rect x="0" fill="#920000" style="width:33px"/><rect x="32" fill="#9f0000"/><rect x="48" fill="#c40000"/><rect x="64" fill="#e40000"/><rect x="80" fill="#ff1600"/><rect x="96" fill="#ff3f00"/><rect x="112" fill="#ff5200"/><rect x="128" fill="#f50"/><rect x="144" fill="#ff5900"/><rect x="160" fill="#ff6000"/><rect x="176" fill="#ff6c00"/><rect x="192" fill="#ff6800"/><rect x="208" fill="#ff6000"/><rect x="224" fill="#ff5900"/><rect x="240" fill="#f50"/><rect x="256" fill="#ff5200"/><rect x="272" fill="#ff4e00"/><rect x="288" fill="#ff4a00"/><rect x="304" fill="#ff4700"/><rect x="320" fill="#ff4300"/><rect x="336" fill="#ff3f00"/><rect x="352" fill="#ff4300"/><rect x="368" fill="#ff4700"/><rect x="384" fill="#ff4e00"/><rect x="400" fill="#f50"/><rect x="416" fill="#ff5d00"/><rect x="432" fill="#ff6400"/><rect x="448" fill="#ff6c00"/><rect x="464" fill="#ff7300"/><rect x="480" fill="#ff7a00"/><rect x="496" fill="#ff8200"/><rect x="512" fill="#ff7e00"/><rect x="528" fill="#f70"/><rect x="544" fill="#ff6f00"/><rect x="560" fill="#ff6800"/><rect x="576" fill="#ff6000"/><rect x="592" fill="#ff5900"/><rect x="608" fill="#ff4e00"/><rect x="624" fill="#ff4a00"/><rect x="640" fill="#ff4300"/><rect x="656" fill="#ff3f00"/><rect x="672" fill="#ff4a00"/><rect x="688" fill="#ff5900"/><rect x="704" fill="#ff6c00"/><rect x="720" fill="#ff7a00"/><rect x="736" fill="#ff8d00" style="width:49px"/></g>
<g transform="translate(1156 749)"><rect x="0" fill="#800000" style="width:33px"/><rect x="32" fill="#890000"/><rect x="48" fill="#b60000"/><rect x="64" fill="#c80000"/><rect x="80" fill="#f60b00"/><rect x="96" fill="#ff1a00"/><rect x="112" fill="#ff1e00"/><rect x="128" fill="#ff3400"/><rect x="144" fill="#ff3000" style="width:33px"/><rect x="176" fill="#fa0f00"/><rect x="192" fill="#f60b00"/><rect x="208" fill="#ff2900"/><rect x="224" fill="#ff2d00"/><rect x="240" fill="#ff3000"/><rect x="256" fill="#ff2900"/><rect x="272" fill="#ff1600" style="width:81px"/><rect x="352" fill="#ff1a00" style="width:65px"/><rect x="416" fill="#ff3800"/><rect x="432" fill="#ff3f00"/><rect x="448" fill="#ff4300"/><rect x="464" fill="#ff4700"/><rect x="480" fill="#ff4a00" style="width:49px"/><rect x="528" fill="#ff3400"/><rect x="544" fill="#ff2900"/><rect x="560" fill="#ff3b00"/><rect x="576" fill="#ff1e00"/><rect x="592" fill="#ff1a00" style="width:49px"/><rect x="640" fill="#ff1600" style="width:81px"/><rect x="720" fill="#ff2500"/><rect x="736" fill="#ff4700" style="width:49px"/></g>
<g transform="translate(1156 765)"><rect x="0" fill="#800000" style="width:33px"/><rect x="32" fill="#840000"/><rect x="48" fill="#b60000"/><rect x="64" fill="#c40000"/><rect x="80" fill="#f60b00"/><rect x="96" fill="#ff1a00"/><rect x="112" fill="#ff1e00"/><rect x="128" fill="#ff3800"/><rect x="144" fill="#ff3400" style="width:33px"/><rect x="176" fill="#fa0f00"/><rect x="192" fill="#f60b00"/><rect x="208" fill="#ff2d00"/><rect x="224" fill="#ff3000"/><rect x="240" fill="#ff3400"/><rect x="256" fill="#ff2900"/><rect x="272" fill="#ff1600" style="width:81px"/><rect x="352" fill="#ff1a00" style="width:65px"/><rect x="416" fill="#ff3b00"/><rect x="432" fill="#ff3f00"/><rect x="448" fill="#ff4300"/><rect x="464" fill="#ff4700"/><rect x="480" fill="#ff4a00" style="width:49px"/><rect x="528" fill="#ff3400"/><rect x="544" fill="#ff2900"/><rect x="560" fill="#ff3f00"/><rect x="576" fill="#ff1e00"/><rect x="592" fill="#ff1a00" style="width:33px"/><rect x="624" fill="#ff1600" style="width:97px"/><rect x="720" fill="#f20"/><rect x="736" fill="#ff4700" style="width:49px"/></g>
<g transform="translate(1156 781)"><rect x="0" fill="#800000" style="width:33px"/><rect x="32" fill="#840000"/><rect x="48" fill="#b60000"/><rect x="64" fill="#c40000"/><rect x="80" fill="#f60b00"/><rect x="96" fill="#ff1a00"/><rect x="112" fill="#ff1e00"/><rect x="128" fill="#ff3800"/><rect x="144" fill="#ff3400" style="width:33px"/><rect x="176" fill="#fa0f00"/><rect x="192" fill="#f60b00"/><rect x="208" fill="#ff2d00"/><rect x="224" fill="#ff3000"/><rect x="240" fill="#ff3400"/><rect x="256" fill="#ff2900"/><rect x="272" fill="#ff1600" style="width:81px"/><rect x="352" fill="#ff1a00" style="width:65px"/><rect x="416" fill="#ff3b00"/><rect x="432" fill="#ff3f00"/><rect x="448" fill="#ff4300"/><rect x="464" fill="#ff4700"/><rect x="480" fill="#ff4a00" style="width:49px"/><rect x="528" fill="#ff3400"/><rect x="544" fill="#ff2900"/><rect x="560" fill="#ff3f00"/><rect x="576" fill="#ff1e00"/><rect x="592" fill="#ff1a00" style="width:33px"/><rect x="624" fill="#ff1600" style="width:97px"/><rect x="720" fill="#f20"/><rect x="736" fill="#ff4700" style="width:49px"/></g>
</g>
<g fill="none" stroke="#000" stroke-width="3.5" stroke-linejoin="miter" stroke-miterlimit="10">
<path d="M1199.0 109.2L1199.0 135.0M1197.0 226.7L1193.0 269.0L1188.5 292.0L1187.5 299.0M1213.0 109.2L1212.0 165.0L1210.5 208.0M1199.5 297.5L1193.5 325.5L1187.5 397.5M1227.0 109.2L1225.6 181.3L1223.6 235.0L1219.0 269.0L1204.5 325.5L1198.0 397.5L1196.0 433.0L1193.0 469.6L1203.5 541.7L1207.0 583.0L1208.0 597.0L1209.0 613.7L1212.5 640.0M1249.0 719.7L1265.0 738.0L1345.0 747.0L1503.0 733.0L1581.0 743.0L1661.0 753.0L1818.0 734.0L1897.0 754.0M1241.0 109.2L1239.0 181.3L1237.0 243.0L1232.5 269.0L1216.0 325.5L1209.5 397.5L1208.0 433.0L1205.5 469.6L1217.0 541.7L1222.0 597.0L1224.0 613.7L1229.0 641.0M1269.0 717.0L1345.0 728.0L1503.0 717.0L1581.0 727.0L1661.0 737.0L1818.0 719.0L1897.0 737.0M1255.0 109.2L1252.0 181.3L1250.0 250.0L1246.0 269.0L1227.0 325.5L1220.5 397.5L1219.0 433.0L1216.5 469.6L1228.0 541.7L1236.0 597.0L1239.0 613.7L1245.6 642.0M1297.0 700.6L1345.0 710.5L1503.0 701.0L1581.0 711.0L1661.0 722.0L1818.0 703.0L1897.0 722.0M1273.6 109.2L1268.0 160.0L1264.6 181.3L1263.0 252.0L1258.5 269.0L1238.0 325.5L1231.0 397.5L1230.0 433.0L1227.5 469.6L1239.0 541.7L1249.5 597.0L1253.0 613.7L1265.0 657.0L1280.0 665.0M1361.0 692.5L1503.0 684.0L1581.0 696.0L1661.0 706.0L1818.0 687.0L1897.0 707.0M1306.7 109.2L1296.0 181.3L1290.0 252.0L1273.0 269.0L1266.0 276.0L1249.0 325.5L1242.0 397.5L1240.0 433.0L1238.0 469.6L1247.0 523.0L1253.0 541.7L1264.5 597.0L1266.6 608.0L1272.0 613.7L1308.0 637.0M1388.0 661.0L1503.0 655.0L1581.0 673.0L1661.0 690.0L1818.0 661.0L1868.0 686.0L1897.0 693.0M1339.7 109.2L1329.0 181.3L1321.0 252.0L1305.0 269.0L1266.0 308.0L1260.0 325.5L1253.0 397.5L1251.0 433.0L1250.0 469.6L1255.6 497.0M1295.0 575.5L1315.5 597.0L1329.0 613.7L1345.0 624.5L1503.0 627.0L1581.0 643.0L1661.0 665.0L1818.0 634.0L1897.0 670.0M1526.5 109.2L1502.5 171.0L1423.8 194.0L1371.0 253.3L1346.0 260.0L1335.0 269.0L1280.0 325.5L1266.0 361.0L1263.0 397.5L1262.0 433.0L1262.0 469.6L1267.0 490.0L1279.0 506.0M1336.0 575.0L1345.0 584.0L1390.0 590.0L1503.0 598.5L1581.0 614.0L1661.0 637.0L1818.0 608.0L1897.0 642.0M1576.5 109.2L1558.5 181.3L1514.5 253.3L1502.5 259.5L1346.0 290.0L1312.0 325.5L1285.0 397.5L1288.5 433.0L1291.0 469.6L1317.0 506.0M1386.0 553.0L1503.0 572.0L1581.0 585.0L1661.0 609.0L1818.0 585.0L1897.0 615.0M1621.0 109.2L1608.0 181.3L1579.5 253.3L1502.5 279.0L1346.0 323.0L1341.0 325.5L1319.5 397.5L1325.0 425.0M1366.5 495.5L1390.0 505.0L1503.0 541.5L1581.0 558.0L1661.0 582.0L1818.0 561.0L1897.0 589.0M1876.0 109.2L1866.0 182.0L1840.0 254.0L1818.0 270.0L1758.0 254.0L1676.0 182.0L1661.0 131.0L1654.0 182.0L1626.0 254.0L1582.0 283.5L1488.0 307.0L1471.0 313.0M1399.0 359.0L1361.0 397.5L1398.0 433.0L1421.0 461.0L1503.0 488.0L1581.0 515.0L1618.0 542.0L1661.0 555.0L1778.0 542.0L1818.0 532.0L1830.0 542.0L1897.0 566.0M1897.0 159.0L1895.8 185.0L1869.0 254.0L1818.0 295.0L1661.0 262.0L1582.0 316.0L1545.0 321.5M1473.0 365.0L1444.0 397.5L1487.0 433.0L1502.5 440.0L1581.0 454.0L1612.0 470.0L1661.0 503.0L1818.0 478.0L1897.0 542.0M1897.0 263.0L1818.0 321.0L1674.0 311.0M1610.0 363.0L1585.0 397.5L1652.0 433.0L1661.0 439.0L1818.0 434.0L1897.0 463.0M1897.0 305.0L1890.0 318.0M1862.0 361.0L1835.0 397.5L1897.0 417.0M1741.0 109.2L1767.0 182.0L1786.0 198.0M1836.0 186.0L1850.0 109.2M1802.0 109.2L1818.0 142.0L1828.0 109.2M1187.5 503.0L1189.0 508.0L1193.5 542.0L1193.5 568.0M1198.0 659.0L1200.5 686.0L1260.0 757.8M1187.5 707.0L1217.0 757.8M1441.0 756.0L1461.0 754.0M1546.0 756.0L1556.0 757.8M1750.0 756.5L1776.0 754.5M1866.0 754.0L1885.0 757.8"/>
</g>
<g font-family="'Liberation Serif',serif" font-size="32.5" text-anchor="middle" fill="#000">
<text transform="translate(1198.0 177.0) rotate(-88)" y="11" textLength="77" lengthAdjust="spacingAndGlyphs">1.240</text>
<text transform="translate(1209.0 250.0) rotate(-83)" y="11" textLength="77" lengthAdjust="spacingAndGlyphs">1.220</text>
<text transform="translate(1426.0 324.0) rotate(-38)" y="11" textLength="77" lengthAdjust="spacingAndGlyphs">1.020</text>
<text transform="translate(1502.0 330.0) rotate(-38)" y="11" textLength="77" lengthAdjust="spacingAndGlyphs">1.000</text>
<text transform="translate(1634.0 324.0) rotate(-42)" y="11" textLength="77" lengthAdjust="spacingAndGlyphs">0.980</text>
<text transform="translate(1880.0 331.0) rotate(-55)" y="11" textLength="77" lengthAdjust="spacingAndGlyphs">0.960</text>
<text transform="translate(1818.0 228.0) rotate(-12)" y="11" textLength="77" lengthAdjust="spacingAndGlyphs">1.040</text>
<text transform="translate(1334.7 471.0) rotate(48.5)" y="11" textLength="77" lengthAdjust="spacingAndGlyphs">1.040</text>
<text transform="translate(1349.7 539.0) rotate(40)" y="11" textLength="77" lengthAdjust="spacingAndGlyphs">1.060</text>
<text transform="translate(1309.7 538.6) rotate(49.5)" y="11" textLength="77" lengthAdjust="spacingAndGlyphs">1.080</text>
<text transform="translate(1268.0 541.0) rotate(52)" y="11" textLength="77" lengthAdjust="spacingAndGlyphs">1.100</text>
<text transform="translate(1347.0 656.0) rotate(17)" y="11" textLength="77" lengthAdjust="spacingAndGlyphs">1.120</text>
<text transform="translate(1320.0 682.0) rotate(25)" y="11" textLength="77" lengthAdjust="spacingAndGlyphs">1.140</text>
<text transform="translate(1260.0 680.0) rotate(52)" y="11" textLength="77" lengthAdjust="spacingAndGlyphs">1.160</text>
<text transform="translate(1239.0 682.6) rotate(58)" y="11" textLength="77" lengthAdjust="spacingAndGlyphs">1.180</text>
<text transform="translate(1221.0 687.0) rotate(58)" y="11" textLength="77" lengthAdjust="spacingAndGlyphs">1.200</text>
<text transform="translate(1196.0 617.0) rotate(80)" y="11" textLength="77" lengthAdjust="spacingAndGlyphs">1.220</text>
<text transform="translate(1506.0 750.0) rotate(2)" y="11" textLength="77" lengthAdjust="spacingAndGlyphs">1.220</text>
<text transform="translate(1821.0 748.0) rotate(-2)" y="11" textLength="77" lengthAdjust="spacingAndGlyphs">1.220</text>
</g>
</g>
<rect x="1187.5" y="109.2" width="709.5" height="648.6" fill="none" stroke="#222" stroke-width="1.2"/>
<g stroke="#222" stroke-width="1.2">
<line x1="1298.9" y1="757.8" x2="1298.9" y2="762.4"/>
<line x1="1450.3" y1="757.8" x2="1450.3" y2="762.4"/>
<line x1="1601.7" y1="757.8" x2="1601.7" y2="762.4"/>
<line x1="1753.1" y1="757.8" x2="1753.1" y2="762.4"/>
<line x1="1182.9" y1="707.8" x2="1187.5" y2="707.8"/>
<line x1="1182.9" y1="621.5" x2="1187.5" y2="621.5"/>
<line x1="1182.9" y1="535.2" x2="1187.5" y2="535.2"/>
<line x1="1182.9" y1="448.9" x2="1187.5" y2="448.9"/>
<line x1="1182.9" y1="362.6" x2="1187.5" y2="362.6"/>
<line x1="1182.9" y1="276.3" x2="1187.5" y2="276.3"/>
<line x1="1182.9" y1="190.0" x2="1187.5" y2="190.0"/>
<line x1="1941.8" y1="123.0" x2="1946.4" y2="123.0"/>
<line x1="1941.8" y1="229.2" x2="1946.4" y2="229.2"/>
<line x1="1941.8" y1="335.4" x2="1946.4" y2="335.4"/>
<line x1="1941.8" y1="441.6" x2="1946.4" y2="441.6"/>
<line x1="1941.8" y1="547.8" x2="1946.4" y2="547.8"/>
<line x1="1941.8" y1="654.0" x2="1946.4" y2="654.0"/>
</g>
<g font-family="'Liberation Serif',serif" font-weight="bold" fill="#000">
<text x="1298.9" y="795.4" font-size="37.3" text-anchor="middle" textLength="24.8" lengthAdjust="spacingAndGlyphs">2</text>
<text x="1450.3" y="795.4" font-size="37.3" text-anchor="middle" textLength="24.8" lengthAdjust="spacingAndGlyphs">4</text>
<text x="1601.7" y="795.4" font-size="37.3" text-anchor="middle" textLength="24.8" lengthAdjust="spacingAndGlyphs">6</text>
<text x="1753.1" y="795.4" font-size="37.3" text-anchor="middle" textLength="24.8" lengthAdjust="spacingAndGlyphs">8</text>
<text x="1178.0" y="721.1" font-size="37.3" text-anchor="end" textLength="66.2" lengthAdjust="spacingAndGlyphs">200</text>
<text x="1178.0" y="634.8" font-size="37.3" text-anchor="end" textLength="66.2" lengthAdjust="spacingAndGlyphs">400</text>
<text x="1178.0" y="548.5" font-size="37.3" text-anchor="end" textLength="66.2" lengthAdjust="spacingAndGlyphs">600</text>
<text x="1178.0" y="462.2" font-size="37.3" text-anchor="end" textLength="66.2" lengthAdjust="spacingAndGlyphs">800</text>
<text x="1178.0" y="375.9" font-size="37.3" text-anchor="end" textLength="87.0" lengthAdjust="spacingAndGlyphs">1000</text>
<text x="1178.0" y="289.6" font-size="37.3" text-anchor="end" textLength="87.0" lengthAdjust="spacingAndGlyphs">1200</text>
<text x="1178.0" y="203.3" font-size="37.3" text-anchor="end" textLength="87.0" lengthAdjust="spacingAndGlyphs">1400</text>
<text x="1951.3" y="136.3" font-size="37.3" text-anchor="start" textLength="77.8" lengthAdjust="spacingAndGlyphs">1.25</text>
<text x="1951.3" y="242.5" font-size="37.3" text-anchor="start" textLength="77.8" lengthAdjust="spacingAndGlyphs">1.20</text>
<text x="1951.3" y="348.7" font-size="37.3" text-anchor="start" textLength="77.8" lengthAdjust="spacingAndGlyphs">1.15</text>
<text x="1951.3" y="454.9" font-size="37.3" text-anchor="start" textLength="77.8" lengthAdjust="spacingAndGlyphs">1.10</text>
<text x="1951.3" y="561.1" font-size="37.3" text-anchor="start" textLength="77.8" lengthAdjust="spacingAndGlyphs">1.05</text>
<text x="1951.3" y="667.3" font-size="37.3" text-anchor="start" textLength="77.8" lengthAdjust="spacingAndGlyphs">1.00</text>
<text x="1433.5" y="836.8" font-size="40" textLength="90.7" lengthAdjust="spacingAndGlyphs">VPD</text><text x="1543.9" y="836.8" font-size="40" textLength="14.5" lengthAdjust="spacingAndGlyphs">(</text><text x="1557.9" y="836.8" font-size="40" textLength="73.8" lengthAdjust="spacingAndGlyphs">hPa</text><text x="1634.4" y="836.8" font-size="40" textLength="16.0" lengthAdjust="spacingAndGlyphs">)</text>
<g transform="translate(1076.3 433.5) rotate(-90)" font-size="40">
<text x="-202.5" y="0" textLength="93.0" lengthAdjust="spacingAndGlyphs">PAR</text>
<text x="-92.9" y="0" textLength="14.5" lengthAdjust="spacingAndGlyphs">(</text>
<text x="-77.5" y="0" font-style="italic" textLength="24.3" lengthAdjust="spacingAndGlyphs">μ</text>
<text x="-52.5" y="0" textLength="73.3" lengthAdjust="spacingAndGlyphs">mol</text>
<text x="37.1" y="0" textLength="34.8" lengthAdjust="spacingAndGlyphs">m</text>
<text x="75.1" y="-14.4" font-size="27" textLength="35.4" lengthAdjust="spacingAndGlyphs">−2</text>
<text x="127.5" y="0" textLength="17.1" lengthAdjust="spacingAndGlyphs">s</text>
<text x="147.2" y="-14.4" font-size="27" textLength="36.7" lengthAdjust="spacingAndGlyphs">−1</text>
<text x="185.5" y="0" textLength="15.2" lengthAdjust="spacingAndGlyphs">)</text>
</g>
<text x="1009.0" y="72.5" font-size="70" textLength="80" lengthAdjust="spacingAndGlyphs">(c)</text>
</g>
<rect x="1906.6" y="109.2" width="35.2" height="648.6" fill="url(#jetg)" stroke="#222" stroke-width="1.2"/>
<clipPath id="cpb"><rect x="184.4" y="887.9" width="709.8" height="647.7"/></clipPath>
<g clip-path="url(#cpb)">
<g class="f" filter="url(#bl)">
<g transform="translate(152 856)"><rect x="0" fill="#b00" style="width:33px"/><rect x="32" fill="#c40000"/><rect x="48" fill="#d60000"/><rect x="64" fill="#e40000"/><rect x="80" fill="#f10800"/><rect x="96" fill="#ff1600"/><rect x="112" fill="#ff1a00"/><rect x="128" fill="#ff1600" style="width:33px"/><rect x="160" fill="#ff1300" style="width:33px"/><rect x="192" fill="#ff1600"/><rect x="208" fill="#ff1e00"/><rect x="224" fill="#ff2500"/><rect x="240" fill="#ff2d00"/><rect x="256" fill="#ff3400"/><rect x="272" fill="#ff3800"/><rect x="288" fill="#ff3b00"/><rect x="304" fill="#ff3f00" style="width:49px"/><rect x="352" fill="#ff6400"/><rect x="368" fill="#ff8d00"/><rect x="384" fill="#ffb600"/><rect x="400" fill="#ffde00"/><rect x="416" fill="#e4ff13"/><rect x="432" fill="#e1ff16" style="width:49px"/><rect x="480" fill="#deff19" style="width:33px"/><rect x="512" fill="#e4ff13"/><rect x="528" fill="#e7ff0f"/><rect x="544" fill="#eeff09"/><rect x="560" fill="#f1fc06" style="width:33px"/><rect x="592" fill="#ffd300"/><rect x="608" fill="#ffb200"/><rect x="624" fill="#ff9100"/><rect x="640" fill="#ff6f00"/><rect x="656" fill="#ff4700"/><rect x="672" fill="#ff6800"/><rect x="688" fill="#ff7e00"/><rect x="704" fill="#ff9400"/><rect x="720" fill="#ffae00"/><rect x="736" fill="#ffc100" style="width:49px"/></g>
<g transform="translate(152 872)"><rect x="0" fill="#b00" style="width:33px"/><rect x="32" fill="#c40000"/><rect x="48" fill="#d60000"/><rect x="64" fill="#e40000"/><rect x="80" fill="#f10800"/><rect x="96" fill="#ff1600"/><rect x="112" fill="#ff1a00"/><rect x="128" fill="#ff1600" style="width:33px"/><rect x="160" fill="#ff1300" style="width:33px"/><rect x="192" fill="#ff1600"/><rect x="208" fill="#ff1e00"/><rect x="224" fill="#ff2500"/><rect x="240" fill="#ff2d00"/><rect x="256" fill="#ff3400"/><rect x="272" fill="#ff3800"/><rect x="288" fill="#ff3b00"/><rect x="304" fill="#ff3f00" style="width:49px"/><rect x="352" fill="#ff6400"/><rect x="368" fill="#ff8d00"/><rect x="384" fill="#ffb600"/><rect x="400" fill="#ffde00"/><rect x="416" fill="#e4ff13"/><rect x="432" fill="#e1ff16" style="width:49px"/><rect x="480" fill="#deff19" style="width:33px"/><rect x="512" fill="#e4ff13"/><rect x="528" fill="#e7ff0f"/><rect x="544" fill="#eeff09"/><rect x="560" fill="#f1fc06" style="width:33px"/><rect x="592" fill="#ffd300"/><rect x="608" fill="#ffb200"/><rect x="624" fill="#ff9100"/><rect x="640" fill="#ff6f00"/><rect x="656" fill="#ff4700"/><rect x="672" fill="#ff6800"/><rect x="688" fill="#ff7e00"/><rect x="704" fill="#ff9400"/><rect x="720" fill="#ffae00"/><rect x="736" fill="#ffc100" style="width:49px"/></g>
<g transform="translate(152 888)"><rect x="0" fill="#b20000" style="width:33px"/><rect x="32" fill="#bf0000"/><rect x="48" fill="#cd0000"/><rect x="64" fill="#df0000"/><rect x="80" fill="#f10800"/><rect x="96" fill="#ff1300"/><rect x="112" fill="#ff1600" style="width:33px"/><rect x="144" fill="#ff1300"/><rect x="160" fill="#fa0f00"/><rect x="176" fill="#f60b00"/><rect x="192" fill="#ff1300"/><rect x="208" fill="#ff1a00"/><rect x="224" fill="#f20"/><rect x="240" fill="#ff2900"/><rect x="256" fill="#ff3000"/><rect x="272" fill="#ff3400"/><rect x="288" fill="#ff3800" style="width:33px"/><rect x="320" fill="#ff3b00"/><rect x="336" fill="#ff3800"/><rect x="352" fill="#ff5d00"/><rect x="368" fill="#ff8900"/><rect x="384" fill="#ffb200"/><rect x="400" fill="#ffdb00"/><rect x="416" fill="#e7ff0f"/><rect x="432" fill="#e4ff13" style="width:33px"/><rect x="464" fill="#e1ff16" style="width:33px"/><rect x="496" fill="#deff19"/><rect x="512" fill="#e4ff13"/><rect x="528" fill="#ebff0c"/><rect x="544" fill="#eeff09"/><rect x="560" fill="#f4f802" style="width:33px"/><rect x="592" fill="#ffd000"/><rect x="608" fill="#ffae00"/><rect x="624" fill="#ff8d00"/><rect x="640" fill="#ff6800"/><rect x="656" fill="#ff3f00"/><rect x="672" fill="#ff6400"/><rect x="688" fill="#ff7a00"/><rect x="704" fill="#ff9100"/><rect x="720" fill="#ffa700"/><rect x="736" fill="#ffbd00" style="width:49px"/></g>
<g transform="translate(152 904)"><rect x="0" fill="#a40000" style="width:33px"/><rect x="32" fill="#b20000"/><rect x="48" fill="#c40000"/><rect x="64" fill="#d60000"/><rect x="80" fill="#ed0400"/><rect x="96" fill="#ff1300"/><rect x="112" fill="#ff1600"/><rect x="128" fill="#ff1300"/><rect x="144" fill="#fa0f00"/><rect x="160" fill="#f60b00"/><rect x="176" fill="#ed0400"/><rect x="192" fill="#f60b00"/><rect x="208" fill="#ff1300"/><rect x="224" fill="#ff1a00"/><rect x="240" fill="#ff1e00"/><rect x="256" fill="#ff2500"/><rect x="272" fill="#ff2d00" style="width:33px"/><rect x="304" fill="#ff3000"/><rect x="320" fill="#ff3400" style="width:33px"/><rect x="352" fill="#ff5900"/><rect x="368" fill="#ff8200"/><rect x="384" fill="#ffab00"/><rect x="400" fill="#ffd300"/><rect x="416" fill="#ebff0c"/><rect x="432" fill="#e7ff0f" style="width:33px"/><rect x="464" fill="#e4ff13" style="width:33px"/><rect x="496" fill="#deff19"/><rect x="512" fill="#e4ff13"/><rect x="528" fill="#ebff0c"/><rect x="544" fill="#f1fc06"/><rect x="560" fill="#f8f500" style="width:33px"/><rect x="592" fill="#fc0"/><rect x="608" fill="#ffab00"/><rect x="624" fill="#ff8600"/><rect x="640" fill="#ff6400"/><rect x="656" fill="#ff3800"/><rect x="672" fill="#ff5900"/><rect x="688" fill="#ff7300"/><rect x="704" fill="#ff8900"/><rect x="720" fill="#ff9f00"/><rect x="736" fill="#ffb600" style="width:49px"/></g>
<g transform="translate(152 920)"><rect x="0" fill="#960000" style="width:33px"/><rect x="32" fill="#a40000"/><rect x="48" fill="#b00"/><rect x="64" fill="#d10000"/><rect x="80" fill="#e80000"/><rect x="96" fill="#ff1300"/><rect x="112" fill="#ff1600"/><rect x="128" fill="#fa0f00"/><rect x="144" fill="#f60b00"/><rect x="160" fill="#ed0400"/><rect x="176" fill="#e80000"/><rect x="192" fill="#ed0400"/><rect x="208" fill="#f60b00"/><rect x="224" fill="#fa0f00"/><rect x="240" fill="#ff1600"/><rect x="256" fill="#ff1e00"/><rect x="272" fill="#f20"/><rect x="288" fill="#ff2500"/><rect x="304" fill="#ff2d00"/><rect x="320" fill="#ff3000"/><rect x="336" fill="#ff2d00"/><rect x="352" fill="#ff5200"/><rect x="368" fill="#ff7e00"/><rect x="384" fill="#ffa700"/><rect x="400" fill="#ffd000"/><rect x="416" fill="#eeff09" style="width:33px"/><rect x="448" fill="#ebff0c"/><rect x="464" fill="#e7ff0f"/><rect x="480" fill="#e4ff13"/><rect x="496" fill="#e1ff16"/><rect x="512" fill="#e7ff0f"/><rect x="528" fill="#eeff09"/><rect x="544" fill="#f4f802"/><rect x="560" fill="#f8f500" style="width:33px"/><rect x="592" fill="#ffc800"/><rect x="608" fill="#ffa300"/><rect x="624" fill="#ff8200"/><rect x="640" fill="#ff5d00"/><rect x="656" fill="#ff3000"/><rect x="672" fill="#ff5200"/><rect x="688" fill="#ff6800"/><rect x="704" fill="#ff8200"/><rect x="720" fill="#ff9800"/><rect x="736" fill="#ffae00" style="width:49px"/></g>
<g transform="translate(152 936)"><rect x="0" fill="#890000" style="width:33px"/><rect x="32" fill="#9b0000"/><rect x="48" fill="#b20000"/><rect x="64" fill="#c80000"/><rect x="80" fill="#e40000"/><rect x="96" fill="#fa0f00"/><rect x="112" fill="#ff1300"/><rect x="128" fill="#f60b00"/><rect x="144" fill="#f10800"/><rect x="160" fill="#e80000"/><rect x="176" fill="#df0000" style="width:33px"/><rect x="208" fill="#e80000"/><rect x="224" fill="#f10800"/><rect x="240" fill="#fa0f00"/><rect x="256" fill="#ff1600"/><rect x="272" fill="#ff1a00"/><rect x="288" fill="#ff1e00"/><rect x="304" fill="#ff2500"/><rect x="320" fill="#ff2900"/><rect x="336" fill="#ff2500"/><rect x="352" fill="#ff4e00"/><rect x="368" fill="#f70"/><rect x="384" fill="#ff9f00"/><rect x="400" fill="#ffc800"/><rect x="416" fill="#f4f802"/><rect x="432" fill="#f1fc06"/><rect x="448" fill="#eeff09"/><rect x="464" fill="#ebff0c"/><rect x="480" fill="#e7ff0f"/><rect x="496" fill="#e1ff16"/><rect x="512" fill="#e7ff0f"/><rect x="528" fill="#eeff09"/><rect x="544" fill="#f4f802"/><rect x="560" fill="#fbf100" style="width:33px"/><rect x="592" fill="#ffc400"/><rect x="608" fill="#ff9f00"/><rect x="624" fill="#ff7a00"/><rect x="640" fill="#f50"/><rect x="656" fill="#ff2900"/><rect x="672" fill="#ff4a00"/><rect x="688" fill="#ff6000"/><rect x="704" fill="#f70"/><rect x="720" fill="#ff9100"/><rect x="736" fill="#ffa300" style="width:49px"/></g>
<g transform="translate(152 952)"><rect x="0" fill="#800000" style="width:33px"/><rect x="32" fill="#840000"/><rect x="48" fill="#9f0000"/><rect x="64" fill="#b00"/><rect x="80" fill="#d60000"/><rect x="96" fill="#f60b00"/><rect x="112" fill="#fa0f00"/><rect x="128" fill="#ed0400"/><rect x="144" fill="#e40000"/><rect x="160" fill="#da0000"/><rect x="176" fill="#cd0000"/><rect x="192" fill="#d10000"/><rect x="208" fill="#da0000"/><rect x="224" fill="#e40000"/><rect x="240" fill="#e80000"/><rect x="256" fill="#f10800"/><rect x="272" fill="#fa0f00"/><rect x="288" fill="#ff1300"/><rect x="304" fill="#ff1600"/><rect x="320" fill="#ff1a00" style="width:33px"/><rect x="352" fill="#ff4300"/><rect x="368" fill="#ff6c00"/><rect x="384" fill="#ff9400"/><rect x="400" fill="#ffc100"/><rect x="416" fill="#fbf100"/><rect x="432" fill="#f8f500"/><rect x="448" fill="#f4f802"/><rect x="464" fill="#f1fc06"/><rect x="480" fill="#ebff0c"/><rect x="496" fill="#e4ff13"/><rect x="512" fill="#eeff09"/><rect x="528" fill="#f4f802"/><rect x="544" fill="#fbf100"/><rect x="560" fill="#ffea00" style="width:33px"/><rect x="592" fill="#ffbd00"/><rect x="608" fill="#ff9400"/><rect x="624" fill="#ff6f00"/><rect x="640" fill="#ff4700"/><rect x="656" fill="#ff1a00"/><rect x="672" fill="#ff3b00"/><rect x="688" fill="#ff5200"/><rect x="704" fill="#ff6c00"/><rect x="720" fill="#ff8200"/><rect x="736" fill="#ff9800" style="width:49px"/></g>
<g transform="translate(152 968)"><rect x="0" fill="#9b0000" style="width:33px"/><rect x="32" fill="#ad0000"/><rect x="48" fill="#c40000"/><rect x="64" fill="#df0000"/><rect x="80" fill="#f60b00"/><rect x="96" fill="#ff2500" style="width:33px"/><rect x="128" fill="#ff1e00"/><rect x="144" fill="#ff1600"/><rect x="160" fill="#f60b00"/><rect x="176" fill="#ed0400" style="width:33px"/><rect x="208" fill="#f60b00"/><rect x="224" fill="#ff1300"/><rect x="240" fill="#ff1a00"/><rect x="256" fill="#f20"/><rect x="272" fill="#ff2500"/><rect x="288" fill="#ff2d00"/><rect x="304" fill="#ff3000"/><rect x="320" fill="#ff3800" style="width:33px"/><rect x="352" fill="#ff5d00"/><rect x="368" fill="#ff8600"/><rect x="384" fill="#ffae00"/><rect x="400" fill="#ffd700"/><rect x="416" fill="#ebff0c"/><rect x="432" fill="#e7ff0f" style="width:33px"/><rect x="464" fill="#e4ff13"/><rect x="480" fill="#e1ff16"/><rect x="496" fill="#deff19"/><rect x="512" fill="#e4ff13"/><rect x="528" fill="#ebff0c"/><rect x="544" fill="#eeff09"/><rect x="560" fill="#f4f802" style="width:33px"/><rect x="592" fill="#ffd000"/><rect x="608" fill="#ffab00"/><rect x="624" fill="#ff8900"/><rect x="640" fill="#ff6400"/><rect x="656" fill="#ff3800"/><rect x="672" fill="#ff5900"/><rect x="688" fill="#ff6f00"/><rect x="704" fill="#ff8600"/><rect x="720" fill="#ff9c00"/><rect x="736" fill="#ffb200" style="width:49px"/></g>
<g transform="translate(152 984)"><rect x="0" fill="#b00" style="width:33px"/><rect x="32" fill="#c80000"/><rect x="48" fill="#e40000"/><rect x="64" fill="#fa0f00"/><rect x="80" fill="#f20"/><rect x="96" fill="#ff3800"/><rect x="112" fill="#ff3b00"/><rect x="128" fill="#ff3000"/><rect x="144" fill="#ff2900"/><rect x="160" fill="#ff1e00"/><rect x="176" fill="#ff1600" style="width:33px"/><rect x="208" fill="#ff1e00"/><rect x="224" fill="#ff2500"/><rect x="240" fill="#ff2d00"/><rect x="256" fill="#ff3400"/><rect x="272" fill="#ff3800"/><rect x="288" fill="#ff3f00"/><rect x="304" fill="#ff4700"/><rect x="320" fill="#ff4e00" style="width:33px"/><rect x="352" fill="#ff7300"/><rect x="368" fill="#ff9800"/><rect x="384" fill="#ffc100"/><rect x="400" fill="#ffe600"/><rect x="416" fill="#deff19"/><rect x="432" fill="#dbff1c" style="width:65px"/><rect x="496" fill="#d7ff1f"/><rect x="512" fill="#deff19"/><rect x="528" fill="#e1ff16"/><rect x="544" fill="#e7ff0f"/><rect x="560" fill="#ebff0c" style="width:33px"/><rect x="592" fill="#ffde00"/><rect x="608" fill="#ffbd00"/><rect x="624" fill="#ff9c00"/><rect x="640" fill="#ff7a00"/><rect x="656" fill="#ff5200"/><rect x="672" fill="#ff6f00"/><rect x="688" fill="#ff8600"/><rect x="704" fill="#ff9c00"/><rect x="720" fill="#ffb200"/><rect x="736" fill="#ffc400" style="width:49px"/></g>
<g transform="translate(152 1000)"><rect x="0" fill="#d60000" style="width:33px"/><rect x="32" fill="#e80000"/><rect x="48" fill="#ff1300"/><rect x="64" fill="#ff2500"/><rect x="80" fill="#ff3800"/><rect x="96" fill="#ff4e00" style="width:33px"/><rect x="128" fill="#ff4300"/><rect x="144" fill="#ff3b00"/><rect x="160" fill="#ff3000"/><rect x="176" fill="#ff2900" style="width:33px"/><rect x="208" fill="#ff3000"/><rect x="224" fill="#ff3800"/><rect x="240" fill="#ff3f00"/><rect x="256" fill="#ff4300"/><rect x="272" fill="#ff4a00"/><rect x="288" fill="#ff5200"/><rect x="304" fill="#ff5900"/><rect x="320" fill="#ff6000"/><rect x="336" fill="#ff6400"/><rect x="352" fill="#ff8900"/><rect x="368" fill="#ffae00"/><rect x="384" fill="#ffd300"/><rect x="400" fill="#f4f802"/><rect x="416" fill="#ceff29"/><rect x="432" fill="#d1ff26" style="width:81px"/><rect x="512" fill="#d4ff23"/><rect x="528" fill="#dbff1c"/><rect x="544" fill="#deff19"/><rect x="560" fill="#e1ff16" style="width:33px"/><rect x="592" fill="#feed00"/><rect x="608" fill="#fc0"/><rect x="624" fill="#ffae00"/><rect x="640" fill="#ff8d00"/><rect x="656" fill="#ff6800"/><rect x="672" fill="#ff8900"/><rect x="688" fill="#ff9c00"/><rect x="704" fill="#ffb200"/><rect x="720" fill="#ffc800"/><rect x="736" fill="#ffdb00" style="width:49px"/></g>
<g transform="translate(152 1016)"><rect x="0" fill="#f60b00" style="width:33px"/><rect x="32" fill="#ff1600"/><rect x="48" fill="#ff2900"/><rect x="64" fill="#ff3b00"/><rect x="80" fill="#ff4e00"/><rect x="96" fill="#ff6000" style="width:33px"/><rect x="128" fill="#ff5900"/><rect x="144" fill="#ff4e00"/><rect x="160" fill="#ff4300"/><rect x="176" fill="#ff3800"/><rect x="192" fill="#ff3b00"/><rect x="208" fill="#ff4300"/><rect x="224" fill="#ff4a00"/><rect x="240" fill="#ff4e00"/><rect x="256" fill="#f50"/><rect x="272" fill="#ff5d00"/><rect x="288" fill="#ff6800"/><rect x="304" fill="#ff6f00"/><rect x="320" fill="#f70"/><rect x="336" fill="#ff7a00"/><rect x="352" fill="#ff9c00"/><rect x="368" fill="#ffc100"/><rect x="384" fill="#ffe600"/><rect x="400" fill="#e7ff0f"/><rect x="416" fill="#c1ff36"/><rect x="432" fill="#c4ff33"/><rect x="448" fill="#c7ff30" style="width:33px"/><rect x="480" fill="#caff2c"/><rect x="496" fill="#ceff29"/><rect x="512" fill="#d1ff26" style="width:33px"/><rect x="544" fill="#d4ff23"/><rect x="560" fill="#d7ff1f" style="width:33px"/><rect x="592" fill="#f4f802"/><rect x="608" fill="#ffdb00"/><rect x="624" fill="#ffc100"/><rect x="640" fill="#ffa300"/><rect x="656" fill="#ff7e00"/><rect x="672" fill="#ff9c00"/><rect x="688" fill="#ffb200"/><rect x="704" fill="#ffc800"/><rect x="720" fill="#ffdb00"/><rect x="736" fill="#feed00" style="width:49px"/></g>
<g transform="translate(152 1032)"><rect x="0" fill="#ff2d00" style="width:33px"/><rect x="32" fill="#ff3800"/><rect x="48" fill="#ff4700"/><rect x="64" fill="#ff5900"/><rect x="80" fill="#ff6800"/><rect x="96" fill="#ff7e00" style="width:33px"/><rect x="128" fill="#ff7300"/><rect x="144" fill="#ff6800"/><rect x="160" fill="#ff5d00"/><rect x="176" fill="#ff5200" style="width:33px"/><rect x="208" fill="#ff5900"/><rect x="224" fill="#ff6000"/><rect x="240" fill="#ff6400"/><rect x="256" fill="#ff6c00"/><rect x="272" fill="#ff7300"/><rect x="288" fill="#ff7e00"/><rect x="304" fill="#ff8600"/><rect x="320" fill="#ff9100"/><rect x="336" fill="#ff9800"/><rect x="352" fill="#ffb600"/><rect x="368" fill="#ffdb00"/><rect x="384" fill="#f1fc06"/><rect x="400" fill="#d4ff23"/><rect x="416" fill="#b1ff46"/><rect x="432" fill="#b4ff43"/><rect x="448" fill="#b7ff40"/><rect x="464" fill="#baff3c" style="width:33px"/><rect x="496" fill="#beff39"/><rect x="512" fill="#c1ff36"/><rect x="528" fill="#c4ff33"/><rect x="544" fill="#c7ff30"/><rect x="560" fill="#caff2c" style="width:33px"/><rect x="592" fill="#e4ff13"/><rect x="608" fill="#fbf100"/><rect x="624" fill="#ffd700"/><rect x="640" fill="#ffbd00"/><rect x="656" fill="#ff9f00"/><rect x="672" fill="#ffb900"/><rect x="688" fill="#ffd000"/><rect x="704" fill="#ffe200"/><rect x="720" fill="#f8f500"/><rect x="736" fill="#e7ff0f" style="width:49px"/></g>
<g transform="translate(152 1048)"><rect x="0" fill="#f50" style="width:33px"/><rect x="32" fill="#ff6000"/><rect x="48" fill="#ff6f00"/><rect x="64" fill="#ff7e00"/><rect x="80" fill="#ff8d00"/><rect x="96" fill="#ff9f00" style="width:33px"/><rect x="128" fill="#ff9400"/><rect x="144" fill="#ff8900"/><rect x="160" fill="#ff7e00"/><rect x="176" fill="#ff7300" style="width:33px"/><rect x="208" fill="#f70"/><rect x="224" fill="#ff7a00"/><rect x="240" fill="#ff7e00"/><rect x="256" fill="#ff8200"/><rect x="272" fill="#ff8d00"/><rect x="288" fill="#ff9800"/><rect x="304" fill="#ffa300"/><rect x="320" fill="#ffae00"/><rect x="336" fill="#ffb600"/><rect x="352" fill="#ffd700"/><rect x="368" fill="#f4f802"/><rect x="384" fill="#d7ff1f"/><rect x="400" fill="#beff39"/><rect x="416" fill="#9aff5d"/><rect x="432" fill="#9dff5a"/><rect x="448" fill="#a0ff56" style="width:33px"/><rect x="480" fill="#a4ff53"/><rect x="496" fill="#a7ff50"/><rect x="512" fill="#aaff4d"/><rect x="528" fill="#adff49"/><rect x="544" fill="#b4ff43"/><rect x="560" fill="#b7ff40"/><rect x="576" fill="#baff3c"/><rect x="592" fill="#d1ff26"/><rect x="608" fill="#e4ff13"/><rect x="624" fill="#f8f500"/><rect x="640" fill="#ffde00"/><rect x="656" fill="#ffc400"/><rect x="672" fill="#ffde00"/><rect x="688" fill="#fbf100"/><rect x="704" fill="#ebff0c"/><rect x="720" fill="#dbff1c"/><rect x="736" fill="#caff2c" style="width:49px"/></g>
<g transform="translate(152 1064)"><rect x="0" fill="#ff7e00" style="width:33px"/><rect x="32" fill="#ff8600"/><rect x="48" fill="#ff9400"/><rect x="64" fill="#ffa300"/><rect x="80" fill="#ffb200"/><rect x="96" fill="#ffc100" style="width:33px"/><rect x="128" fill="#ffb600"/><rect x="144" fill="#ffab00"/><rect x="160" fill="#ff9f00"/><rect x="176" fill="#ff9100" style="width:33px"/><rect x="208" fill="#ff9400" style="width:33px"/><rect x="240" fill="#ff9800"/><rect x="256" fill="#ff9c00"/><rect x="272" fill="#ffa300"/><rect x="288" fill="#ffb200"/><rect x="304" fill="#ffbd00"/><rect x="320" fill="#fc0"/><rect x="336" fill="#ffd700"/><rect x="352" fill="#f8f500"/><rect x="368" fill="#deff19"/><rect x="384" fill="#c1ff36"/><rect x="400" fill="#a4ff53"/><rect x="416" fill="#83ff73"/><rect x="432" fill="#87ff70"/><rect x="448" fill="#8aff6d" style="width:33px"/><rect x="480" fill="#8dff6a" style="width:33px"/><rect x="512" fill="#94ff63"/><rect x="528" fill="#9aff5d"/><rect x="544" fill="#a0ff56"/><rect x="560" fill="#a7ff50"/><rect x="576" fill="#aaff4d"/><rect x="592" fill="#beff39"/><rect x="608" fill="#ceff29"/><rect x="624" fill="#deff19"/><rect x="640" fill="#eeff09"/><rect x="656" fill="#ffea00"/><rect x="672" fill="#eeff09"/><rect x="688" fill="#deff19"/><rect x="704" fill="#ceff29"/><rect x="720" fill="#c1ff36"/><rect x="736" fill="#b1ff46" style="width:49px"/></g>
<g transform="translate(152 1080)"><rect x="0" fill="#ffa700" style="width:33px"/><rect x="32" fill="#ffae00"/><rect x="48" fill="#ffbd00"/><rect x="64" fill="#ffc800"/><rect x="80" fill="#ffd700"/><rect x="96" fill="#ffe600"/><rect x="112" fill="#ffe200"/><rect x="128" fill="#ffd700"/><rect x="144" fill="#fc0"/><rect x="160" fill="#ffc100"/><rect x="176" fill="#ffb200"/><rect x="192" fill="#ffae00"/><rect x="208" fill="#ffb200" style="width:65px"/><rect x="272" fill="#ffbd00"/><rect x="288" fill="#fc0"/><rect x="304" fill="#ffdb00"/><rect x="320" fill="#ffea00"/><rect x="336" fill="#f8f500"/><rect x="352" fill="#deff19"/><rect x="368" fill="#c4ff33"/><rect x="384" fill="#aaff4d"/><rect x="400" fill="#8dff6a"/><rect x="416" fill="#70ff87" style="width:33px"/><rect x="448" fill="#73ff83" style="width:33px"/><rect x="480" fill="#77ff80" style="width:33px"/><rect x="512" fill="#80ff77"/><rect x="528" fill="#87ff70"/><rect x="544" fill="#8dff6a"/><rect x="560" fill="#94ff63"/><rect x="576" fill="#9aff5d"/><rect x="592" fill="#a7ff50"/><rect x="608" fill="#b7ff40"/><rect x="624" fill="#c4ff33"/><rect x="640" fill="#d1ff26"/><rect x="656" fill="#e1ff16"/><rect x="672" fill="#ceff29"/><rect x="688" fill="#c1ff36"/><rect x="704" fill="#b4ff43"/><rect x="720" fill="#a4ff53"/><rect x="736" fill="#97ff60" style="width:49px"/></g>
<g transform="translate(152 1096)"><rect x="0" fill="#ffe200" style="width:33px"/><rect x="32" fill="#ffea00"/><rect x="48" fill="#f8f500"/><rect x="64" fill="#eeff09"/><rect x="80" fill="#e7ff0f"/><rect x="96" fill="#dbff1c"/><rect x="112" fill="#deff19"/><rect x="128" fill="#ebff0c"/><rect x="144" fill="#f4f802"/><rect x="160" fill="#feed00"/><rect x="176" fill="#ffde00"/><rect x="192" fill="#ffdb00" style="width:33px"/><rect x="224" fill="#ffd700" style="width:33px"/><rect x="256" fill="#ffd300"/><rect x="272" fill="#ffe200"/><rect x="288" fill="#fbf100"/><rect x="304" fill="#eeff09"/><rect x="320" fill="#deff19"/><rect x="336" fill="#d1ff26"/><rect x="352" fill="#baff3c"/><rect x="368" fill="#a4ff53"/><rect x="384" fill="#8aff6d"/><rect x="400" fill="#73ff83"/><rect x="416" fill="#56ffa0"/><rect x="432" fill="#5aff9d" style="width:33px"/><rect x="464" fill="#5dff9a" style="width:49px"/><rect x="512" fill="#66ff90"/><rect x="528" fill="#6dff8a"/><rect x="544" fill="#77ff80"/><rect x="560" fill="#80ff77"/><rect x="576" fill="#87ff70"/><rect x="592" fill="#90ff66"/><rect x="608" fill="#9aff5d"/><rect x="624" fill="#a4ff53"/><rect x="640" fill="#adff49"/><rect x="656" fill="#baff3c"/><rect x="672" fill="#aaff4d"/><rect x="688" fill="#9dff5a"/><rect x="704" fill="#90ff66"/><rect x="720" fill="#83ff73"/><rect x="736" fill="#77ff80" style="width:49px"/></g>
<g transform="translate(152 1112)"><rect x="0" fill="#ff9400" style="width:33px"/><rect x="32" fill="#ff9f00"/><rect x="48" fill="#ffb200"/><rect x="64" fill="#ffc400"/><rect x="80" fill="#ffd700"/><rect x="96" fill="#ffea00" style="width:33px"/><rect x="128" fill="#ffdb00"/><rect x="144" fill="#fc0"/><rect x="160" fill="#ffc100"/><rect x="176" fill="#ffb200"/><rect x="192" fill="#ffae00" style="width:33px"/><rect x="224" fill="#ffb200" style="width:33px"/><rect x="256" fill="#ffb600"/><rect x="272" fill="#ffc100"/><rect x="288" fill="#ffd000"/><rect x="304" fill="#ffde00"/><rect x="320" fill="#feed00"/><rect x="336" fill="#f1fc06"/><rect x="352" fill="#d4ff23"/><rect x="368" fill="#b1ff46"/><rect x="384" fill="#90ff66"/><rect x="400" fill="#70ff87"/><rect x="416" fill="#49ffad"/><rect x="432" fill="#4dffaa"/><rect x="448" fill="#53ffa4"/><rect x="464" fill="#56ffa0"/><rect x="480" fill="#5aff9d"/><rect x="496" fill="#5dff9a"/><rect x="512" fill="#66ff90"/><rect x="528" fill="#70ff87"/><rect x="544" fill="#77ff80"/><rect x="560" fill="#80ff77"/><rect x="576" fill="#8aff6d"/><rect x="592" fill="#97ff60"/><rect x="608" fill="#a0ff56"/><rect x="624" fill="#adff49"/><rect x="640" fill="#baff3c"/><rect x="656" fill="#caff2c"/><rect x="672" fill="#b4ff43"/><rect x="688" fill="#a4ff53"/><rect x="704" fill="#94ff63"/><rect x="720" fill="#87ff70"/><rect x="736" fill="#77ff80" style="width:49px"/></g>
<g transform="translate(152 1128)"><rect x="0" fill="#ff5900" style="width:33px"/><rect x="32" fill="#ff6800"/><rect x="48" fill="#ff8200"/><rect x="64" fill="#ff9c00"/><rect x="80" fill="#ffb200"/><rect x="96" fill="#fc0"/><rect x="112" fill="#ffd000"/><rect x="128" fill="#ffbd00"/><rect x="144" fill="#ffae00"/><rect x="160" fill="#ff9f00"/><rect x="176" fill="#ff8d00" style="width:33px"/><rect x="208" fill="#ff9100"/><rect x="224" fill="#ff9800"/><rect x="240" fill="#ff9c00"/><rect x="256" fill="#ff9f00"/><rect x="272" fill="#ffab00"/><rect x="288" fill="#ffb900"/><rect x="304" fill="#ffc800"/><rect x="320" fill="#ffd700"/><rect x="336" fill="#ffe200"/><rect x="352" fill="#e4ff13"/><rect x="368" fill="#baff3c"/><rect x="384" fill="#94ff63"/><rect x="400" fill="#6aff8d"/><rect x="416" fill="#3cffba"/><rect x="432" fill="#43ffb4"/><rect x="448" fill="#49ffad"/><rect x="464" fill="#50ffa7"/><rect x="480" fill="#56ffa0"/><rect x="496" fill="#5dff9a"/><rect x="512" fill="#63ff94"/><rect x="528" fill="#6dff8a"/><rect x="544" fill="#77ff80"/><rect x="560" fill="#80ff77"/><rect x="576" fill="#87ff70"/><rect x="592" fill="#97ff60"/><rect x="608" fill="#a4ff53"/><rect x="624" fill="#b1ff46"/><rect x="640" fill="#c1ff36"/><rect x="656" fill="#d1ff26"/><rect x="672" fill="#baff3c"/><rect x="688" fill="#a7ff50"/><rect x="704" fill="#94ff63"/><rect x="720" fill="#80ff77"/><rect x="736" fill="#70ff87" style="width:49px"/></g>
<g transform="translate(152 1144)"><rect x="0" fill="#f20" style="width:33px"/><rect x="32" fill="#ff3400"/><rect x="48" fill="#f50"/><rect x="64" fill="#ff7300"/><rect x="80" fill="#ff9100"/><rect x="96" fill="#ffb200" style="width:33px"/><rect x="128" fill="#ff9f00"/><rect x="144" fill="#ff9100"/><rect x="160" fill="#ff7e00"/><rect x="176" fill="#ff6c00" style="width:33px"/><rect x="208" fill="#ff7300"/><rect x="224" fill="#ff7a00"/><rect x="240" fill="#ff8200"/><rect x="256" fill="#ff8900"/><rect x="272" fill="#ff9400"/><rect x="288" fill="#ffa300"/><rect x="304" fill="#ffb200"/><rect x="320" fill="#ffc100"/><rect x="336" fill="#ffc800"/><rect x="352" fill="#f1fc06"/><rect x="368" fill="#c4ff33"/><rect x="384" fill="#94ff63"/><rect x="400" fill="#63ff94"/><rect x="416" fill="#2cffca"/><rect x="432" fill="#36ffc1"/><rect x="448" fill="#40ffb7"/><rect x="464" fill="#46ffb1"/><rect x="480" fill="#50ffa7"/><rect x="496" fill="#5aff9d"/><rect x="512" fill="#63ff94"/><rect x="528" fill="#6aff8d"/><rect x="544" fill="#73ff83"/><rect x="560" fill="#7dff7a"/><rect x="576" fill="#87ff70"/><rect x="592" fill="#97ff60"/><rect x="608" fill="#a7ff50"/><rect x="624" fill="#b7ff40"/><rect x="640" fill="#c7ff30"/><rect x="656" fill="#dbff1c"/><rect x="672" fill="#beff39"/><rect x="688" fill="#a7ff50"/><rect x="704" fill="#94ff63"/><rect x="720" fill="#7dff7a"/><rect x="736" fill="#6aff8d" style="width:49px"/></g>
<g transform="translate(152 1160)"><rect x="0" fill="#b00" style="width:33px"/><rect x="32" fill="#da0000"/><rect x="48" fill="#ff1a00"/><rect x="64" fill="#ff3f00"/><rect x="80" fill="#ff6400"/><rect x="96" fill="#ff8d00"/><rect x="112" fill="#ff9400"/><rect x="128" fill="#ff7e00"/><rect x="144" fill="#ff6c00"/><rect x="160" fill="#ff5900"/><rect x="176" fill="#ff4700" style="width:33px"/><rect x="208" fill="#ff5200"/><rect x="224" fill="#ff5d00"/><rect x="240" fill="#ff6400"/><rect x="256" fill="#ff6f00"/><rect x="272" fill="#ff7a00"/><rect x="288" fill="#ff8900"/><rect x="304" fill="#ff9400"/><rect x="320" fill="#ffa300"/><rect x="336" fill="#ffab00"/><rect x="352" fill="#ffe200"/><rect x="368" fill="#ceff29"/><rect x="384" fill="#97ff60"/><rect x="400" fill="#60ff97"/><rect x="416" fill="#1fffd7"/><rect x="432" fill="#29ffce"/><rect x="448" fill="#36ffc1"/><rect x="464" fill="#43ffb4"/><rect x="480" fill="#4dffaa"/><rect x="496" fill="#56ffa0"/><rect x="512" fill="#60ff97"/><rect x="528" fill="#6aff8d"/><rect x="544" fill="#73ff83"/><rect x="560" fill="#7dff7a"/><rect x="576" fill="#87ff70"/><rect x="592" fill="#9aff5d"/><rect x="608" fill="#aaff4d"/><rect x="624" fill="#beff39"/><rect x="640" fill="#d1ff26"/><rect x="656" fill="#e7ff0f"/><rect x="672" fill="#c7ff30"/><rect x="688" fill="#adff49"/><rect x="704" fill="#97ff60"/><rect x="720" fill="#7dff7a"/><rect x="736" fill="#66ff90" style="width:49px"/></g>
<g transform="translate(152 1176)"><rect x="0" fill="#df0000" style="width:33px"/><rect x="32" fill="#fa0f00"/><rect x="48" fill="#ff3400"/><rect x="64" fill="#ff5900"/><rect x="80" fill="#ff7a00"/><rect x="96" fill="#ffa300"/><rect x="112" fill="#ffa700"/><rect x="128" fill="#ff9100"/><rect x="144" fill="#ff7e00"/><rect x="160" fill="#ff6c00"/><rect x="176" fill="#f50" style="width:33px"/><rect x="208" fill="#ff6000"/><rect x="224" fill="#ff6c00"/><rect x="240" fill="#ff7300"/><rect x="256" fill="#ff7e00"/><rect x="272" fill="#ff8900"/><rect x="288" fill="#ff9c00"/><rect x="304" fill="#ffab00"/><rect x="320" fill="#ffb900"/><rect x="336" fill="#ffc400"/><rect x="352" fill="#eeff09"/><rect x="368" fill="#b7ff40"/><rect x="384" fill="#7dff7a"/><rect x="400" fill="#46ffb1"/><rect x="416" fill="#02e8f4"/><rect x="432" fill="#0ff8e7"/><rect x="448" fill="#1fffd7"/><rect x="464" fill="#2cffca"/><rect x="480" fill="#39ffbe"/><rect x="496" fill="#46ffb1"/><rect x="512" fill="#53ffa4"/><rect x="528" fill="#5dff9a"/><rect x="544" fill="#66ff90"/><rect x="560" fill="#70ff87"/><rect x="576" fill="#7aff7d"/><rect x="592" fill="#87ff70"/><rect x="608" fill="#94ff63"/><rect x="624" fill="#a0ff56"/><rect x="640" fill="#b1ff46"/><rect x="656" fill="#c1ff36"/><rect x="672" fill="#a4ff53"/><rect x="688" fill="#8dff6a"/><rect x="704" fill="#77ff80"/><rect x="720" fill="#60ff97"/><rect x="736" fill="#49ffad" style="width:49px"/></g>
<g transform="translate(152 1192)"><rect x="0" fill="#ff6c00" style="width:33px"/><rect x="32" fill="#ff7e00"/><rect x="48" fill="#ff9c00"/><rect x="64" fill="#ffb600"/><rect x="80" fill="#ffd000"/><rect x="96" fill="#feed00" style="width:33px"/><rect x="128" fill="#ffd700"/><rect x="144" fill="#ffc400"/><rect x="160" fill="#ffb200"/><rect x="176" fill="#ff9c00" style="width:33px"/><rect x="208" fill="#ffa300"/><rect x="224" fill="#ffa700"/><rect x="240" fill="#ffae00"/><rect x="256" fill="#ffb200"/><rect x="272" fill="#ffc400"/><rect x="288" fill="#ffdb00"/><rect x="304" fill="#feed00"/><rect x="320" fill="#ebff0c"/><rect x="336" fill="#dbff1c"/><rect x="352" fill="#adff49"/><rect x="368" fill="#7aff7d"/><rect x="384" fill="#46ffb1"/><rect x="400" fill="#16ffe1"/><rect x="416" fill="#00b4ff"/><rect x="432" fill="#00c8ff"/><rect x="448" fill="#00dcfe"/><rect x="464" fill="#09f0ee"/><rect x="480" fill="#19ffde"/><rect x="496" fill="#29ffce"/><rect x="512" fill="#33ffc4"/><rect x="528" fill="#40ffb7"/><rect x="544" fill="#4dffaa"/><rect x="560" fill="#56ffa0"/><rect x="576" fill="#63ff94" style="width:49px"/><rect x="624" fill="#66ff90" style="width:33px"/><rect x="656" fill="#6aff8d"/><rect x="672" fill="#56ffa0"/><rect x="688" fill="#43ffb4"/><rect x="704" fill="#33ffc4"/><rect x="720" fill="#23ffd4"/><rect x="736" fill="#13fce4" style="width:49px"/></g>
<g transform="translate(152 1208)"><rect x="0" fill="#ffd700" style="width:33px"/><rect x="32" fill="#ffe200"/><rect x="48" fill="#f4f802"/><rect x="64" fill="#e4ff13"/><rect x="80" fill="#d4ff23"/><rect x="96" fill="#c1ff36"/><rect x="112" fill="#c4ff33"/><rect x="128" fill="#d7ff1f"/><rect x="144" fill="#ebff0c"/><rect x="160" fill="#fbf100"/><rect x="176" fill="#ffdb00"/><rect x="192" fill="#ffd700"/><rect x="208" fill="#ffdb00"/><rect x="224" fill="#ffde00"/><rect x="240" fill="#ffe200" style="width:33px"/><rect x="272" fill="#f4f802"/><rect x="288" fill="#deff19"/><rect x="304" fill="#c4ff33"/><rect x="320" fill="#adff49"/><rect x="336" fill="#9aff5d"/><rect x="352" fill="#70ff87"/><rect x="368" fill="#43ffb4"/><rect x="384" fill="#16ffe1"/><rect x="400" fill="#00c4ff"/><rect x="416" fill="#0080ff"/><rect x="432" fill="#0098ff"/><rect x="448" fill="#00b0ff"/><rect x="464" fill="#00c4ff"/><rect x="480" fill="#00dcfe"/><rect x="496" fill="#0cf4eb"/><rect x="512" fill="#19ffde"/><rect x="528" fill="#26ffd1"/><rect x="544" fill="#33ffc4"/><rect x="560" fill="#40ffb7"/><rect x="576" fill="#50ffa7"/><rect x="592" fill="#43ffb4"/><rect x="608" fill="#36ffc1"/><rect x="624" fill="#2cffca"/><rect x="640" fill="#23ffd4"/><rect x="656" fill="#19ffde"/><rect x="672" fill="#0cf4eb"/><rect x="688" fill="#00e4f8"/><rect x="704" fill="#00d8ff"/><rect x="720" fill="#00c8ff"/><rect x="736" fill="#00bcff" style="width:49px"/></g>
<g transform="translate(152 1224)"><rect x="0" fill="#b4ff43" style="width:33px"/><rect x="32" fill="#adff49"/><rect x="48" fill="#a4ff53"/><rect x="64" fill="#9aff5d"/><rect x="80" fill="#90ff66"/><rect x="96" fill="#87ff70"/><rect x="112" fill="#8dff6a"/><rect x="128" fill="#a0ff56"/><rect x="144" fill="#b1ff46"/><rect x="160" fill="#c4ff33"/><rect x="176" fill="#d4ff23"/><rect x="192" fill="#dbff1c" style="width:65px"/><rect x="256" fill="#deff19"/><rect x="272" fill="#c7ff30"/><rect x="288" fill="#aaff4d"/><rect x="304" fill="#8dff6a"/><rect x="320" fill="#73ff83"/><rect x="336" fill="#5aff9d"/><rect x="352" fill="#33ffc4"/><rect x="368" fill="#09f0ee"/><rect x="384" fill="#00c0ff"/><rect x="400" fill="#008cff"/><rect x="416" fill="#004cff"/><rect x="432" fill="#0068ff"/><rect x="448" fill="#0080ff"/><rect x="464" fill="#009cff"/><rect x="480" fill="#00b4ff"/><rect x="496" fill="#00d0ff"/><rect x="512" fill="#00e0fb"/><rect x="528" fill="#09f0ee"/><rect x="544" fill="#19ffde"/><rect x="560" fill="#26ffd1"/><rect x="576" fill="#3cffba"/><rect x="592" fill="#1fffd7"/><rect x="608" fill="#09f0ee"/><rect x="624" fill="#00d4ff"/><rect x="640" fill="#00b8ff"/><rect x="656" fill="#009cff"/><rect x="672" fill="#0098ff"/><rect x="688" fill="#0090ff"/><rect x="704" fill="#08f"/><rect x="720" fill="#0080ff"/><rect x="736" fill="#0078ff" style="width:49px"/></g>
<g transform="translate(152 1240)"><rect x="0" fill="#50ffa7" style="width:49px"/><rect x="48" fill="#4dffaa" style="width:49px"/><rect x="96" fill="#49ffad"/><rect x="112" fill="#53ffa4"/><rect x="128" fill="#66ff90"/><rect x="144" fill="#77ff80"/><rect x="160" fill="#8aff6d"/><rect x="176" fill="#9dff5a"/><rect x="192" fill="#a4ff53" style="width:33px"/><rect x="224" fill="#a7ff50"/><rect x="240" fill="#aaff4d"/><rect x="256" fill="#b1ff46"/><rect x="272" fill="#97ff60"/><rect x="288" fill="#73ff83"/><rect x="304" fill="#53ffa4"/><rect x="320" fill="#33ffc4"/><rect x="336" fill="#13fce4"/><rect x="352" fill="#00d0ff"/><rect x="368" fill="#00a4ff"/><rect x="384" fill="#0078ff"/><rect x="400" fill="#004cff"/><rect x="416" fill="#0014ff"/><rect x="432" fill="#0034ff"/><rect x="448" fill="#0050ff"/><rect x="464" fill="#0070ff"/><rect x="480" fill="#008cff"/><rect x="496" fill="#00acff"/><rect x="512" fill="#00bcff"/><rect x="528" fill="#00d0ff"/><rect x="544" fill="#00e4f8"/><rect x="560" fill="#0ff8e7"/><rect x="576" fill="#29ffce"/><rect x="592" fill="#00e0fb"/><rect x="608" fill="#00b4ff"/><rect x="624" fill="#08f"/><rect x="640" fill="#005cff"/><rect x="656" fill="#002cff"/><rect x="672" fill="#0030ff"/><rect x="688" fill="#0034ff" style="width:97px"/></g>
<g transform="translate(152 1256)"><rect x="0" fill="#1cffdb" style="width:97px"/><rect x="96" fill="#19ffde"/><rect x="112" fill="#26ffd1"/><rect x="128" fill="#39ffbe"/><rect x="144" fill="#49ffad"/><rect x="160" fill="#5dff9a"/><rect x="176" fill="#70ff87"/><rect x="192" fill="#7aff7d"/><rect x="208" fill="#7dff7a"/><rect x="224" fill="#83ff73"/><rect x="240" fill="#8aff6d"/><rect x="256" fill="#94ff63"/><rect x="272" fill="#7aff7d"/><rect x="288" fill="#56ffa0"/><rect x="304" fill="#33ffc4"/><rect x="320" fill="#13fce4"/><rect x="336" fill="#00d0ff"/><rect x="352" fill="#00a8ff"/><rect x="368" fill="#0080ff"/><rect x="384" fill="#0058ff"/><rect x="400" fill="#0030ff"/><rect x="416" fill="#00f"/><rect x="432" fill="#001cff"/><rect x="448" fill="#0038ff"/><rect x="464" fill="#0054ff"/><rect x="480" fill="#0070ff"/><rect x="496" fill="#008cff"/><rect x="512" fill="#009cff"/><rect x="528" fill="#00b0ff"/><rect x="544" fill="#00c0ff"/><rect x="560" fill="#00d4ff"/><rect x="576" fill="#0cf4eb"/><rect x="592" fill="#00bcff"/><rect x="608" fill="#0094ff"/><rect x="624" fill="#006cff"/><rect x="640" fill="#0040ff"/><rect x="656" fill="#0014ff"/><rect x="672" fill="#0018ff" style="width:49px"/><rect x="720" fill="#0014ff" style="width:65px"/></g>
<g transform="translate(152 1272)"><rect x="0" fill="#00c0ff" style="width:49px"/><rect x="48" fill="#00c4ff" style="width:33px"/><rect x="80" fill="#00c8ff" style="width:33px"/><rect x="112" fill="#00d8ff"/><rect x="128" fill="#09f0ee"/><rect x="144" fill="#1cffdb"/><rect x="160" fill="#30ffc7"/><rect x="176" fill="#43ffb4"/><rect x="192" fill="#4dffaa"/><rect x="208" fill="#56ffa0"/><rect x="224" fill="#60ff97"/><rect x="240" fill="#66ff90"/><rect x="256" fill="#77ff80"/><rect x="272" fill="#5aff9d"/><rect x="288" fill="#33ffc4"/><rect x="304" fill="#0ff8e7"/><rect x="320" fill="#0cf"/><rect x="336" fill="#009cff"/><rect x="352" fill="#007cff"/><rect x="368" fill="#0058ff"/><rect x="384" fill="#0034ff"/><rect x="400" fill="#0010ff"/><rect x="416" fill="#0000f1"/><rect x="432" fill="#00f"/><rect x="448" fill="#001cff"/><rect x="464" fill="#0038ff"/><rect x="480" fill="#0050ff"/><rect x="496" fill="#0070ff"/><rect x="512" fill="#007cff"/><rect x="528" fill="#0090ff"/><rect x="544" fill="#00a0ff"/><rect x="560" fill="#00b0ff"/><rect x="576" fill="#00d0ff"/><rect x="592" fill="#0098ff"/><rect x="608" fill="#0070ff"/><rect x="624" fill="#0048ff"/><rect x="640" fill="#001cff"/><rect x="656" fill="#00f" style="width:129px"/></g>
<g transform="translate(152 1288)"><rect x="0" fill="#0078ff" style="width:33px"/><rect x="32" fill="#007cff"/><rect x="48" fill="#0080ff"/><rect x="64" fill="#0084ff"/><rect x="80" fill="#08f"/><rect x="96" fill="#008cff"/><rect x="112" fill="#009cff"/><rect x="128" fill="#00b4ff"/><rect x="144" fill="#0cf"/><rect x="160" fill="#00e4f8"/><rect x="176" fill="#13fce4"/><rect x="192" fill="#23ffd4"/><rect x="208" fill="#2cffca"/><rect x="224" fill="#39ffbe"/><rect x="240" fill="#46ffb1"/><rect x="256" fill="#56ffa0"/><rect x="272" fill="#39ffbe"/><rect x="288" fill="#13fce4"/><rect x="304" fill="#0cf"/><rect x="320" fill="#009cff"/><rect x="336" fill="#006cff"/><rect x="352" fill="#004cff"/><rect x="368" fill="#002cff"/><rect x="384" fill="#0010ff"/><rect x="400" fill="#00f"/><rect x="416" fill="#0000d1"/><rect x="432" fill="#0000f1"/><rect x="448" fill="#00f"/><rect x="464" fill="#0018ff"/><rect x="480" fill="#0034ff"/><rect x="496" fill="#0050ff"/><rect x="512" fill="#005cff"/><rect x="528" fill="#006cff"/><rect x="544" fill="#007cff"/><rect x="560" fill="#0090ff"/><rect x="576" fill="#00acff"/><rect x="592" fill="#0074ff"/><rect x="608" fill="#004cff"/><rect x="624" fill="#0024ff"/><rect x="640" fill="#00f"/><rect x="656" fill="#0000d6"/><rect x="672" fill="#0000da" style="width:49px"/><rect x="720" fill="#0000d6" style="width:65px"/></g>
<g transform="translate(152 1304)"><rect x="0" fill="#0028ff" style="width:33px"/><rect x="32" fill="#002cff"/><rect x="48" fill="#0034ff"/><rect x="64" fill="#003cff"/><rect x="80" fill="#0040ff"/><rect x="96" fill="#0048ff"/><rect x="112" fill="#0058ff"/><rect x="128" fill="#0074ff"/><rect x="144" fill="#008cff"/><rect x="160" fill="#00a4ff"/><rect x="176" fill="#00c0ff"/><rect x="192" fill="#00d4ff"/><rect x="208" fill="#00e4f8"/><rect x="224" fill="#0ff8e7"/><rect x="240" fill="#1fffd7"/><rect x="256" fill="#33ffc4"/><rect x="272" fill="#16ffe1"/><rect x="288" fill="#0cf"/><rect x="304" fill="#009cff"/><rect x="320" fill="#0068ff"/><rect x="336" fill="#0034ff"/><rect x="352" fill="#0018ff"/><rect x="368" fill="#00f"/><rect x="384" fill="#0000f1"/><rect x="400" fill="#0000d6"/><rect x="416" fill="#0000b2"/><rect x="432" fill="#0000cd"/><rect x="448" fill="#0000ed"/><rect x="464" fill="#00f"/><rect x="480" fill="#0010ff"/><rect x="496" fill="#002cff"/><rect x="512" fill="#003cff"/><rect x="528" fill="#0048ff"/><rect x="544" fill="#0058ff"/><rect x="560" fill="#0068ff"/><rect x="576" fill="#0084ff"/><rect x="592" fill="#004cff"/><rect x="608" fill="#0024ff"/><rect x="624" fill="#00f"/><rect x="640" fill="#0000da"/><rect x="656" fill="#0000a4"/><rect x="672" fill="#0000ad" style="width:33px"/><rect x="704" fill="#0000a8" style="width:33px"/><rect x="736" fill="#0000a4" style="width:49px"/></g>
<g transform="translate(152 1320)"><rect x="0" fill="#001cff" style="width:33px"/><rect x="32" fill="#0020ff"/><rect x="48" fill="#0028ff"/><rect x="64" fill="#0030ff"/><rect x="80" fill="#0038ff"/><rect x="96" fill="#0040ff"/><rect x="112" fill="#0050ff"/><rect x="128" fill="#006cff"/><rect x="144" fill="#0084ff"/><rect x="160" fill="#009cff"/><rect x="176" fill="#00b8ff"/><rect x="192" fill="#0cf"/><rect x="208" fill="#00e0fb"/><rect x="224" fill="#0cf4eb"/><rect x="240" fill="#1cffdb"/><rect x="256" fill="#33ffc4"/><rect x="272" fill="#16ffe1"/><rect x="288" fill="#0cf"/><rect x="304" fill="#0098ff"/><rect x="320" fill="#0064ff"/><rect x="336" fill="#0030ff"/><rect x="352" fill="#0014ff"/><rect x="368" fill="#00f"/><rect x="384" fill="#0000f1"/><rect x="400" fill="#0000d6"/><rect x="416" fill="#0000b2"/><rect x="432" fill="#0000cd"/><rect x="448" fill="#0000ed"/><rect x="464" fill="#00f"/><rect x="480" fill="#0010ff"/><rect x="496" fill="#002cff"/><rect x="512" fill="#0038ff"/><rect x="528" fill="#04f"/><rect x="544" fill="#0054ff"/><rect x="560" fill="#0064ff"/><rect x="576" fill="#007cff"/><rect x="592" fill="#0048ff"/><rect x="608" fill="#0020ff"/><rect x="624" fill="#00f"/><rect x="640" fill="#0000da"/><rect x="656" fill="#0000a4"/><rect x="672" fill="#0000ad" style="width:33px"/><rect x="704" fill="#0000a8" style="width:33px"/><rect x="736" fill="#0000a4" style="width:49px"/></g>
<g transform="translate(152 1336)"><rect x="0" fill="#0054ff" style="width:33px"/><rect x="32" fill="#0058ff"/><rect x="48" fill="#005cff"/><rect x="64" fill="#0060ff"/><rect x="80" fill="#0068ff"/><rect x="96" fill="#006cff"/><rect x="112" fill="#007cff"/><rect x="128" fill="#0098ff"/><rect x="144" fill="#00b0ff"/><rect x="160" fill="#0cf"/><rect x="176" fill="#00e4f8"/><rect x="192" fill="#0ff8e7"/><rect x="208" fill="#1fffd7"/><rect x="224" fill="#2cffca"/><rect x="240" fill="#39ffbe"/><rect x="256" fill="#50ffa7"/><rect x="272" fill="#33ffc4"/><rect x="288" fill="#09f0ee"/><rect x="304" fill="#00c0ff"/><rect x="320" fill="#0090ff"/><rect x="336" fill="#005cff"/><rect x="352" fill="#0040ff"/><rect x="368" fill="#0024ff"/><rect x="384" fill="#000cff"/><rect x="400" fill="#00f"/><rect x="416" fill="#0000d6"/><rect x="432" fill="#0000f1"/><rect x="448" fill="#00f"/><rect x="464" fill="#0014ff"/><rect x="480" fill="#002cff"/><rect x="496" fill="#0048ff"/><rect x="512" fill="#0054ff"/><rect x="528" fill="#0064ff"/><rect x="544" fill="#0070ff"/><rect x="560" fill="#0080ff"/><rect x="576" fill="#0098ff"/><rect x="592" fill="#0068ff"/><rect x="608" fill="#0040ff"/><rect x="624" fill="#001cff"/><rect x="640" fill="#00f"/><rect x="656" fill="#0000d1"/><rect x="672" fill="#0000d6" style="width:49px"/><rect x="720" fill="#0000d1" style="width:65px"/></g>
<g transform="translate(152 1352)"><rect x="0" fill="#0084ff" style="width:49px"/><rect x="48" fill="#08f"/><rect x="64" fill="#008cff"/><rect x="80" fill="#0090ff" style="width:33px"/><rect x="112" fill="#00a4ff"/><rect x="128" fill="#00bcff"/><rect x="144" fill="#00d8ff"/><rect x="160" fill="#0cf4eb"/><rect x="176" fill="#1fffd7"/><rect x="192" fill="#30ffc7"/><rect x="208" fill="#3cffba"/><rect x="224" fill="#49ffad"/><rect x="240" fill="#56ffa0"/><rect x="256" fill="#6aff8d"/><rect x="272" fill="#4dffaa"/><rect x="288" fill="#26ffd1"/><rect x="304" fill="#00e4f8"/><rect x="320" fill="#00b8ff"/><rect x="336" fill="#08f"/><rect x="352" fill="#0068ff"/><rect x="368" fill="#0048ff"/><rect x="384" fill="#002cff"/><rect x="400" fill="#000cff"/><rect x="416" fill="#0000f1"/><rect x="432" fill="#00f"/><rect x="448" fill="#0018ff"/><rect x="464" fill="#0030ff"/><rect x="480" fill="#0048ff"/><rect x="496" fill="#0060ff"/><rect x="512" fill="#006cff"/><rect x="528" fill="#007cff"/><rect x="544" fill="#08f"/><rect x="560" fill="#0098ff"/><rect x="576" fill="#00b0ff"/><rect x="592" fill="#0080ff"/><rect x="608" fill="#005cff"/><rect x="624" fill="#0038ff"/><rect x="640" fill="#0014ff"/><rect x="656" fill="#0000fa"/><rect x="672" fill="#00f" style="width:33px"/><rect x="704" fill="#0000fa" style="width:33px"/><rect x="736" fill="#0000f6" style="width:49px"/></g>
<g transform="translate(152 1368)"><rect x="0" fill="#00b4ff" style="width:65px"/><rect x="64" fill="#00b8ff" style="width:49px"/><rect x="112" fill="#00c8ff"/><rect x="128" fill="#00e4f8"/><rect x="144" fill="#16ffe1"/><rect x="160" fill="#29ffce"/><rect x="176" fill="#40ffb7"/><rect x="192" fill="#50ffa7"/><rect x="208" fill="#5aff9d"/><rect x="224" fill="#66ff90"/><rect x="240" fill="#70ff87"/><rect x="256" fill="#80ff77"/><rect x="272" fill="#66ff90"/><rect x="288" fill="#43ffb4"/><rect x="304" fill="#1cffdb"/><rect x="320" fill="#00dcfe"/><rect x="336" fill="#00b0ff"/><rect x="352" fill="#008cff"/><rect x="368" fill="#006cff"/><rect x="384" fill="#004cff"/><rect x="400" fill="#002cff"/><rect x="416" fill="#00f"/><rect x="432" fill="#0018ff"/><rect x="448" fill="#0030ff"/><rect x="464" fill="#0048ff"/><rect x="480" fill="#0060ff"/><rect x="496" fill="#007cff"/><rect x="512" fill="#08f"/><rect x="528" fill="#0094ff"/><rect x="544" fill="#00a4ff"/><rect x="560" fill="#00b0ff"/><rect x="576" fill="#00c8ff"/><rect x="592" fill="#009cff"/><rect x="608" fill="#0078ff"/><rect x="624" fill="#0058ff"/><rect x="640" fill="#0034ff"/><rect x="656" fill="#000cff"/><rect x="672" fill="#0010ff" style="width:49px"/><rect x="720" fill="#000cff" style="width:65px"/></g>
<g transform="translate(152 1384)"><rect x="0" fill="#00e0fb" style="width:65px"/><rect x="64" fill="#00dcfe" style="width:49px"/><rect x="112" fill="#06ecf1"/><rect x="128" fill="#1cffdb"/><rect x="144" fill="#30ffc7"/><rect x="160" fill="#46ffb1"/><rect x="176" fill="#5dff9a"/><rect x="192" fill="#6dff8a"/><rect x="208" fill="#77ff80"/><rect x="224" fill="#80ff77"/><rect x="240" fill="#8aff6d"/><rect x="256" fill="#9aff5d"/><rect x="272" fill="#80ff77"/><rect x="288" fill="#5dff9a"/><rect x="304" fill="#39ffbe"/><rect x="320" fill="#16ffe1"/><rect x="336" fill="#00d8ff"/><rect x="352" fill="#00b4ff"/><rect x="368" fill="#0090ff"/><rect x="384" fill="#006cff"/><rect x="400" fill="#0048ff"/><rect x="416" fill="#001cff"/><rect x="432" fill="#0034ff"/><rect x="448" fill="#004cff"/><rect x="464" fill="#0064ff"/><rect x="480" fill="#007cff"/><rect x="496" fill="#0094ff"/><rect x="512" fill="#00a0ff"/><rect x="528" fill="#00acff"/><rect x="544" fill="#00bcff"/><rect x="560" fill="#00c8ff"/><rect x="576" fill="#00e0fb"/><rect x="592" fill="#00b8ff"/><rect x="608" fill="#0094ff"/><rect x="624" fill="#0074ff"/><rect x="640" fill="#0054ff"/><rect x="656" fill="#0030ff"/><rect x="672" fill="#0034ff"/><rect x="688" fill="#0030ff" style="width:33px"/><rect x="720" fill="#002cff" style="width:65px"/></g>
<g transform="translate(152 1400)"><rect x="0" fill="#33ffc4" style="width:33px"/><rect x="32" fill="#30ffc7" style="width:33px"/><rect x="64" fill="#2cffca" style="width:33px"/><rect x="96" fill="#29ffce"/><rect x="112" fill="#33ffc4"/><rect x="128" fill="#4dffaa"/><rect x="144" fill="#63ff94"/><rect x="160" fill="#77ff80"/><rect x="176" fill="#90ff66"/><rect x="192" fill="#9aff5d"/><rect x="208" fill="#a4ff53"/><rect x="224" fill="#aaff4d"/><rect x="240" fill="#b1ff46"/><rect x="256" fill="#beff39"/><rect x="272" fill="#a4ff53"/><rect x="288" fill="#83ff73"/><rect x="304" fill="#60ff97"/><rect x="320" fill="#40ffb7"/><rect x="336" fill="#1cffdb"/><rect x="352" fill="#00e0fb"/><rect x="368" fill="#00b8ff"/><rect x="384" fill="#0090ff"/><rect x="400" fill="#0068ff"/><rect x="416" fill="#0038ff"/><rect x="432" fill="#0050ff"/><rect x="448" fill="#0068ff"/><rect x="464" fill="#007cff"/><rect x="480" fill="#0094ff"/><rect x="496" fill="#00acff"/><rect x="512" fill="#00b8ff"/><rect x="528" fill="#00c4ff"/><rect x="544" fill="#00d4ff"/><rect x="560" fill="#00e0fb"/><rect x="576" fill="#0ff8e7"/><rect x="592" fill="#00d0ff"/><rect x="608" fill="#00b4ff"/><rect x="624" fill="#0094ff"/><rect x="640" fill="#0078ff"/><rect x="656" fill="#0058ff" style="width:49px"/><rect x="704" fill="#0054ff"/><rect x="720" fill="#0050ff" style="width:65px"/></g>
<g transform="translate(152 1416)"><rect x="0" fill="#66ff90" style="width:33px"/><rect x="32" fill="#63ff94"/><rect x="48" fill="#60ff97"/><rect x="64" fill="#5dff9a"/><rect x="80" fill="#5aff9d"/><rect x="96" fill="#56ffa0"/><rect x="112" fill="#63ff94"/><rect x="128" fill="#7aff7d"/><rect x="144" fill="#90ff66"/><rect x="160" fill="#a7ff50"/><rect x="176" fill="#beff39"/><rect x="192" fill="#c7ff30"/><rect x="208" fill="#ceff29"/><rect x="224" fill="#d4ff23"/><rect x="240" fill="#d7ff1f"/><rect x="256" fill="#e1ff16"/><rect x="272" fill="#c7ff30"/><rect x="288" fill="#a7ff50"/><rect x="304" fill="#87ff70"/><rect x="320" fill="#66ff90"/><rect x="336" fill="#46ffb1"/><rect x="352" fill="#23ffd4"/><rect x="368" fill="#00e4f8"/><rect x="384" fill="#00b4ff"/><rect x="400" fill="#08f"/><rect x="416" fill="#0050ff"/><rect x="432" fill="#0068ff"/><rect x="448" fill="#0080ff"/><rect x="464" fill="#0098ff"/><rect x="480" fill="#00acff"/><rect x="496" fill="#00c4ff"/><rect x="512" fill="#00d0ff"/><rect x="528" fill="#00e0fb"/><rect x="544" fill="#06ecf1"/><rect x="560" fill="#0ff8e7"/><rect x="576" fill="#23ffd4"/><rect x="592" fill="#06ecf1"/><rect x="608" fill="#00d0ff"/><rect x="624" fill="#00b8ff"/><rect x="640" fill="#009cff"/><rect x="656" fill="#007cff"/><rect x="672" fill="#0080ff"/><rect x="688" fill="#007cff"/><rect x="704" fill="#0078ff"/><rect x="720" fill="#0074ff"/><rect x="736" fill="#0070ff" style="width:49px"/></g>
<g transform="translate(152 1432)"><rect x="0" fill="#9aff5d" style="width:33px"/><rect x="32" fill="#97ff60"/><rect x="48" fill="#90ff66"/><rect x="64" fill="#8dff6a"/><rect x="80" fill="#8aff6d"/><rect x="96" fill="#83ff73"/><rect x="112" fill="#90ff66"/><rect x="128" fill="#a7ff50"/><rect x="144" fill="#beff39"/><rect x="160" fill="#d4ff23"/><rect x="176" fill="#eeff09"/><rect x="192" fill="#f4f802"/><rect x="208" fill="#f8f500"/><rect x="224" fill="#fbf100"/><rect x="240" fill="#feed00"/><rect x="256" fill="#ffe600"/><rect x="272" fill="#ebff0c"/><rect x="288" fill="#caff2c"/><rect x="304" fill="#aaff4d"/><rect x="320" fill="#8aff6d"/><rect x="336" fill="#6dff8a"/><rect x="352" fill="#46ffb1"/><rect x="368" fill="#1fffd7"/><rect x="384" fill="#00dcfe"/><rect x="400" fill="#00a8ff"/><rect x="416" fill="#006cff"/><rect x="432" fill="#0084ff"/><rect x="448" fill="#0098ff"/><rect x="464" fill="#00b0ff"/><rect x="480" fill="#00c4ff"/><rect x="496" fill="#00dcfe"/><rect x="512" fill="#02e8f4"/><rect x="528" fill="#0ff8e7"/><rect x="544" fill="#19ffde"/><rect x="560" fill="#23ffd4"/><rect x="576" fill="#36ffc1"/><rect x="592" fill="#1cffdb"/><rect x="608" fill="#09f0ee"/><rect x="624" fill="#00d8ff"/><rect x="640" fill="#00c0ff"/><rect x="656" fill="#00a4ff" style="width:33px"/><rect x="688" fill="#00a0ff"/><rect x="704" fill="#009cff"/><rect x="720" fill="#0098ff"/><rect x="736" fill="#0094ff" style="width:49px"/></g>
<g transform="translate(152 1448)"><rect x="0" fill="#ceff29" style="width:33px"/><rect x="32" fill="#caff2c"/><rect x="48" fill="#c4ff33"/><rect x="64" fill="#beff39"/><rect x="80" fill="#baff3c"/><rect x="96" fill="#b1ff46"/><rect x="112" fill="#beff39"/><rect x="128" fill="#d7ff1f"/><rect x="144" fill="#eeff09"/><rect x="160" fill="#ffe600"/><rect x="176" fill="#ffc800"/><rect x="192" fill="#ffc100" style="width:65px"/><rect x="256" fill="#ffb900"/><rect x="272" fill="#ffd700"/><rect x="288" fill="#f1fc06"/><rect x="304" fill="#d1ff26"/><rect x="320" fill="#b4ff43"/><rect x="336" fill="#94ff63"/><rect x="352" fill="#6aff8d"/><rect x="368" fill="#40ffb7"/><rect x="384" fill="#13fce4"/><rect x="400" fill="#00c8ff"/><rect x="416" fill="#08f"/><rect x="432" fill="#009cff"/><rect x="448" fill="#00b4ff"/><rect x="464" fill="#00c8ff"/><rect x="480" fill="#00dcfe"/><rect x="496" fill="#0cf4eb"/><rect x="512" fill="#16ffe1"/><rect x="528" fill="#23ffd4"/><rect x="544" fill="#2cffca"/><rect x="560" fill="#36ffc1"/><rect x="576" fill="#49ffad"/><rect x="592" fill="#30ffc7"/><rect x="608" fill="#1fffd7"/><rect x="624" fill="#0ff8e7"/><rect x="640" fill="#00e0fb"/><rect x="656" fill="#0cf"/><rect x="672" fill="#00c8ff"/><rect x="688" fill="#00c4ff"/><rect x="704" fill="#00c0ff"/><rect x="720" fill="#00b8ff"/><rect x="736" fill="#00b4ff" style="width:49px"/></g>
<g transform="translate(152 1464)"><rect x="0" fill="#f4f802" style="width:33px"/><rect x="32" fill="#f1fc06"/><rect x="48" fill="#ebff0c"/><rect x="64" fill="#e1ff16"/><rect x="80" fill="#dbff1c"/><rect x="96" fill="#d1ff26"/><rect x="112" fill="#deff19"/><rect x="128" fill="#f4f802"/><rect x="144" fill="#ffde00"/><rect x="160" fill="#ffc400"/><rect x="176" fill="#ffa700"/><rect x="192" fill="#ff9f00"/><rect x="208" fill="#ffa300" style="width:33px"/><rect x="240" fill="#ffa700"/><rect x="256" fill="#ffa300"/><rect x="272" fill="#ffbd00"/><rect x="288" fill="#ffe200"/><rect x="304" fill="#eeff09"/><rect x="320" fill="#d1ff26"/><rect x="336" fill="#b4ff43"/><rect x="352" fill="#8aff6d"/><rect x="368" fill="#60ff97"/><rect x="384" fill="#33ffc4"/><rect x="400" fill="#06ecf1"/><rect x="416" fill="#00acff"/><rect x="432" fill="#00c0ff"/><rect x="448" fill="#00d4ff"/><rect x="464" fill="#02e8f4"/><rect x="480" fill="#0ff8e7"/><rect x="496" fill="#23ffd4"/><rect x="512" fill="#2cffca"/><rect x="528" fill="#36ffc1"/><rect x="544" fill="#40ffb7"/><rect x="560" fill="#49ffad"/><rect x="576" fill="#5aff9d"/><rect x="592" fill="#49ffad"/><rect x="608" fill="#3cffba"/><rect x="624" fill="#30ffc7"/><rect x="640" fill="#23ffd4"/><rect x="656" fill="#16ffe1"/><rect x="672" fill="#0ff8e7"/><rect x="688" fill="#0cf4eb"/><rect x="704" fill="#06ecf1"/><rect x="720" fill="#00e4f8"/><rect x="736" fill="#00e0fb" style="width:49px"/></g>
<g transform="translate(152 1480)"><rect x="0" fill="#ffd700" style="width:33px"/><rect x="32" fill="#ffde00"/><rect x="48" fill="#ffea00"/><rect x="64" fill="#fbf100"/><rect x="80" fill="#f1fc06"/><rect x="96" fill="#e4ff13"/><rect x="112" fill="#eeff09"/><rect x="128" fill="#ffe600"/><rect x="144" fill="#ffd000"/><rect x="160" fill="#ffb600"/><rect x="176" fill="#ff9c00"/><rect x="192" fill="#ff9800"/><rect x="208" fill="#ff9c00" style="width:33px"/><rect x="240" fill="#ff9f00" style="width:33px"/><rect x="272" fill="#ffb600"/><rect x="288" fill="#ffd300"/><rect x="304" fill="#feed00"/><rect x="320" fill="#e4ff13"/><rect x="336" fill="#ceff29"/><rect x="352" fill="#a7ff50"/><rect x="368" fill="#7dff7a"/><rect x="384" fill="#53ffa4"/><rect x="400" fill="#29ffce"/><rect x="416" fill="#00dcfe"/><rect x="432" fill="#06ecf1"/><rect x="448" fill="#13fce4"/><rect x="464" fill="#1cffdb"/><rect x="480" fill="#29ffce"/><rect x="496" fill="#36ffc1"/><rect x="512" fill="#40ffb7"/><rect x="528" fill="#49ffad"/><rect x="544" fill="#53ffa4"/><rect x="560" fill="#5dff9a"/><rect x="576" fill="#6aff8d"/><rect x="592" fill="#60ff97"/><rect x="608" fill="#5dff9a"/><rect x="624" fill="#56ffa0"/><rect x="640" fill="#50ffa7"/><rect x="656" fill="#49ffad"/><rect x="672" fill="#43ffb4"/><rect x="688" fill="#39ffbe"/><rect x="704" fill="#33ffc4"/><rect x="720" fill="#2cffca"/><rect x="736" fill="#26ffd1" style="width:49px"/></g>
<g transform="translate(152 1496)"><rect x="0" fill="#ffb600" style="width:33px"/><rect x="32" fill="#ffbd00"/><rect x="48" fill="#fc0"/><rect x="64" fill="#ffd700"/><rect x="80" fill="#ffe200"/><rect x="96" fill="#fbf100"/><rect x="112" fill="#ffea00"/><rect x="128" fill="#ffd300"/><rect x="144" fill="#ffbd00"/><rect x="160" fill="#ffa700"/><rect x="176" fill="#ff9100"/><rect x="192" fill="#ff8900"/><rect x="208" fill="#ff9100"/><rect x="224" fill="#ff9400"/><rect x="240" fill="#ff9800" style="width:33px"/><rect x="272" fill="#ffab00"/><rect x="288" fill="#ffc400"/><rect x="304" fill="#ffdb00"/><rect x="320" fill="#fbf100"/><rect x="336" fill="#ebff0c"/><rect x="352" fill="#c4ff33"/><rect x="368" fill="#9dff5a"/><rect x="384" fill="#73ff83"/><rect x="400" fill="#4dffaa"/><rect x="416" fill="#1cffdb"/><rect x="432" fill="#26ffd1"/><rect x="448" fill="#30ffc7"/><rect x="464" fill="#39ffbe"/><rect x="480" fill="#43ffb4"/><rect x="496" fill="#4dffaa"/><rect x="512" fill="#56ffa0"/><rect x="528" fill="#5dff9a"/><rect x="544" fill="#66ff90"/><rect x="560" fill="#70ff87"/><rect x="576" fill="#7dff7a"/><rect x="592" fill="#7aff7d" style="width:65px"/><rect x="656" fill="#7dff7a"/><rect x="672" fill="#73ff83"/><rect x="688" fill="#6aff8d"/><rect x="704" fill="#60ff97"/><rect x="720" fill="#56ffa0"/><rect x="736" fill="#4dffaa" style="width:49px"/></g>
<g transform="translate(152 1512)"><rect x="0" fill="#ff9400" style="width:33px"/><rect x="32" fill="#ff9c00"/><rect x="48" fill="#ffab00"/><rect x="64" fill="#ffb900"/><rect x="80" fill="#ffc800"/><rect x="96" fill="#ffdb00"/><rect x="112" fill="#ffd300"/><rect x="128" fill="#ffbd00"/><rect x="144" fill="#ffab00"/><rect x="160" fill="#ff9800"/><rect x="176" fill="#ff8200"/><rect x="192" fill="#ff7e00"/><rect x="208" fill="#ff8600"/><rect x="224" fill="#ff8900"/><rect x="240" fill="#ff8d00"/><rect x="256" fill="#ff9100"/><rect x="272" fill="#ff9f00"/><rect x="288" fill="#ffb200"/><rect x="304" fill="#ffc400"/><rect x="320" fill="#ffd700"/><rect x="336" fill="#ffe600"/><rect x="352" fill="#e1ff16"/><rect x="368" fill="#baff3c"/><rect x="384" fill="#97ff60"/><rect x="400" fill="#70ff87"/><rect x="416" fill="#43ffb4"/><rect x="432" fill="#49ffad"/><rect x="448" fill="#50ffa7"/><rect x="464" fill="#56ffa0"/><rect x="480" fill="#5dff9a"/><rect x="496" fill="#60ff97"/><rect x="512" fill="#6aff8d"/><rect x="528" fill="#73ff83"/><rect x="544" fill="#7aff7d"/><rect x="560" fill="#83ff73"/><rect x="576" fill="#8dff6a"/><rect x="592" fill="#94ff63"/><rect x="608" fill="#9aff5d"/><rect x="624" fill="#a0ff56"/><rect x="640" fill="#a7ff50"/><rect x="656" fill="#b1ff46"/><rect x="672" fill="#a4ff53"/><rect x="688" fill="#97ff60"/><rect x="704" fill="#8dff6a"/><rect x="720" fill="#83ff73"/><rect x="736" fill="#77ff80" style="width:49px"/></g>
<g transform="translate(152 1528)"><rect x="0" fill="#ff6c00" style="width:33px"/><rect x="32" fill="#f70"/><rect x="48" fill="#ff8900"/><rect x="64" fill="#ff9800"/><rect x="80" fill="#ffab00"/><rect x="96" fill="#ffbd00"/><rect x="112" fill="#ffb900"/><rect x="128" fill="#ffa700"/><rect x="144" fill="#ff9400"/><rect x="160" fill="#ff8600"/><rect x="176" fill="#ff6f00" style="width:33px"/><rect x="208" fill="#f70"/><rect x="224" fill="#ff7e00"/><rect x="240" fill="#ff8600"/><rect x="256" fill="#ff8900"/><rect x="272" fill="#ff9400"/><rect x="288" fill="#ff9f00"/><rect x="304" fill="#ffae00"/><rect x="320" fill="#ffb900"/><rect x="336" fill="#ffc400"/><rect x="352" fill="#ffea00"/><rect x="368" fill="#deff19"/><rect x="384" fill="#beff39"/><rect x="400" fill="#9aff5d"/><rect x="416" fill="#70ff87"/><rect x="432" fill="#73ff83" style="width:33px"/><rect x="464" fill="#77ff80"/><rect x="480" fill="#7aff7d" style="width:33px"/><rect x="512" fill="#83ff73"/><rect x="528" fill="#8aff6d"/><rect x="544" fill="#94ff63"/><rect x="560" fill="#9aff5d"/><rect x="576" fill="#a0ff56"/><rect x="592" fill="#b1ff46"/><rect x="608" fill="#beff39"/><rect x="624" fill="#ceff29"/><rect x="640" fill="#dbff1c"/><rect x="656" fill="#eeff09"/><rect x="672" fill="#dbff1c"/><rect x="688" fill="#ceff29"/><rect x="704" fill="#c1ff36"/><rect x="720" fill="#b4ff43"/><rect x="736" fill="#a7ff50" style="width:49px"/></g>
<g transform="translate(152 1544)"><rect x="0" fill="#ff6c00" style="width:33px"/><rect x="32" fill="#f70"/><rect x="48" fill="#ff8900"/><rect x="64" fill="#ff9800"/><rect x="80" fill="#ffab00"/><rect x="96" fill="#ffbd00"/><rect x="112" fill="#ffb900"/><rect x="128" fill="#ffa700"/><rect x="144" fill="#ff9400"/><rect x="160" fill="#ff8600"/><rect x="176" fill="#ff6f00" style="width:33px"/><rect x="208" fill="#f70"/><rect x="224" fill="#ff7e00"/><rect x="240" fill="#ff8600"/><rect x="256" fill="#ff8900"/><rect x="272" fill="#ff9400"/><rect x="288" fill="#ff9f00"/><rect x="304" fill="#ffae00"/><rect x="320" fill="#ffb900"/><rect x="336" fill="#ffc400"/><rect x="352" fill="#ffea00"/><rect x="368" fill="#deff19"/><rect x="384" fill="#beff39"/><rect x="400" fill="#9aff5d"/><rect x="416" fill="#70ff87"/><rect x="432" fill="#73ff83" style="width:33px"/><rect x="464" fill="#77ff80"/><rect x="480" fill="#7aff7d" style="width:33px"/><rect x="512" fill="#83ff73"/><rect x="528" fill="#8aff6d"/><rect x="544" fill="#94ff63"/><rect x="560" fill="#9aff5d"/><rect x="576" fill="#a0ff56"/><rect x="592" fill="#b1ff46"/><rect x="608" fill="#beff39"/><rect x="624" fill="#ceff29"/><rect x="640" fill="#dbff1c"/><rect x="656" fill="#eeff09"/><rect x="672" fill="#dbff1c"/><rect x="688" fill="#ceff29"/><rect x="704" fill="#c1ff36"/><rect x="720" fill="#b4ff43"/><rect x="736" fill="#a7ff50" style="width:49px"/></g>
<g transform="translate(152 1560)"><rect x="0" fill="#ff6c00" style="width:33px"/><rect x="32" fill="#f70"/><rect x="48" fill="#ff8900"/><rect x="64" fill="#ff9800"/><rect x="80" fill="#ffab00"/><rect x="96" fill="#ffbd00"/><rect x="112" fill="#ffb900"/><rect x="128" fill="#ffa700"/><rect x="144" fill="#ff9400"/><rect x="160" fill="#ff8600"/><rect x="176" fill="#ff6f00" style="width:33px"/><rect x="208" fill="#f70"/><rect x="224" fill="#ff7e00"/><rect x="240" fill="#ff8600"/><rect x="256" fill="#ff8900"/><rect x="272" fill="#ff9400"/><rect x="288" fill="#ff9f00"/><rect x="304" fill="#ffae00"/><rect x="320" fill="#ffb900"/><rect x="336" fill="#ffc400"/><rect x="352" fill="#ffea00"/><rect x="368" fill="#deff19"/><rect x="384" fill="#beff39"/><rect x="400" fill="#9aff5d"/><rect x="416" fill="#70ff87"/><rect x="432" fill="#73ff83" style="width:33px"/><rect x="464" fill="#77ff80"/><rect x="480" fill="#7aff7d" style="width:33px"/><rect x="512" fill="#83ff73"/><rect x="528" fill="#8aff6d"/><rect x="544" fill="#94ff63"/><rect x="560" fill="#9aff5d"/><rect x="576" fill="#a0ff56"/><rect x="592" fill="#b1ff46"/><rect x="608" fill="#beff39"/><rect x="624" fill="#ceff29"/><rect x="640" fill="#dbff1c"/><rect x="656" fill="#eeff09"/><rect x="672" fill="#dbff1c"/><rect x="688" fill="#ceff29"/><rect x="704" fill="#c1ff36"/><rect x="720" fill="#b4ff43"/><rect x="736" fill="#a7ff50" style="width:49px"/></g>
</g>
<g fill="none" stroke="#000" stroke-width="3.5" stroke-linejoin="miter" stroke-miterlimit="10">
<path d="M578.7 1301.9L557.9 1319.7L578.7 1337.5L598.2 1319.7L578.7 1301.9M894.2 1298.9L815.3 1302.2L803.0 1316.2M802.8 1323.2L815.3 1338.4L894.2 1342.4M578.7 1255.2L503.2 1319.7L578.7 1384.2L630.3 1337.1M630.3 1302.3L578.7 1255.2M894.2 1264.3L815.3 1267.3L775.1 1312.9M775.9 1327.9L815.3 1375.9L894.2 1380.3M184.4 1321.8L197.0 1319.7L184.4 1318.3M551.1 1250.7L476.6 1319.7L578.7 1431.4L657.6 1361.7L722.0 1324.9M721.7 1315.2L657.6 1285.4L616.4 1247.7L589.5 1232.6M894.2 1237.6L815.3 1242.0L801.7 1247.7L749.4 1307.1M749.2 1334.1L792.7 1391.7L815.3 1410.8L894.2 1417.6M184.4 1348.7L263.3 1339.2L286.2 1323.9M285.6 1316.8L263.3 1307.4L184.4 1300.6M894.2 1218.2L815.3 1229.0L770.6 1247.7L736.5 1286.5L578.7 1201.4L451.8 1319.7L475.3 1349.5M528.1 1410.5L578.7 1472.5L598.1 1463.6L657.6 1412.5L736.5 1368.7L753.6 1391.7L815.3 1443.8L894.2 1454.7M184.4 1375.6L263.3 1372.8L327.1 1330.3M325.2 1312.2L263.3 1286.3L184.4 1283.0M894.2 1198.7L739.6 1247.7L736.5 1251.3L578.7 1176.3L499.9 1246.2L496.7 1247.7L436.5 1309.9M436.1 1331.9L480.7 1391.7L578.7 1500.2L736.5 1421.3L789.0 1463.6L894.2 1482.5M184.4 1399.7L263.3 1401.7L310.5 1373.6M378.8 1333.5L406.0 1319.7L263.3 1265.1L184.4 1265.4M894.2 1179.3L815.3 1203.0L736.5 1207.3L661.9 1175.8L657.6 1161.4L578.7 1106.6L561.3 1175.8L529.5 1204.1M475.5 1242.4L464.6 1247.7L421.0 1293.9L263.3 1244.5L184.4 1247.7M184.4 1419.8L263.3 1424.5L421.0 1350.8L450.9 1391.7L466.8 1405.7M524.2 1462.5L578.7 1527.8L657.6 1512.6L736.5 1474.7L894.2 1507.3M894.2 1088.3L862.7 1103.8L860.5 1175.8L815.3 1190.1L753.4 1175.8L756.2 1103.8L736.5 1091.4L657.6 1066.0L600.0 1060.4M555.0 1086.3L540.1 1103.8L543.6 1175.8L499.9 1214.6L432.5 1247.7L421.0 1260.0L342.1 1251.8L263.3 1226.5L184.4 1236.5M184.4 1439.9L263.3 1447.2L342.1 1408.4L394.2 1397.4M450.3 1417.4L557.9 1535.6M776.6 1521.4L815.3 1513.0L894.2 1532.1M894.2 1049.6L815.3 1090.7L738.2 1031.8L736.5 1027.9L657.6 992.6L578.7 998.1L563.9 1031.8L519.9 1081.3M507.6 1125.4L525.8 1175.8L499.9 1198.8L421.0 1232.4L342.1 1232.5L263.3 1208.5L184.4 1225.3M809.7 1175.8L815.3 1161.4L819.4 1175.8L815.3 1177.1L809.7 1175.8M184.4 1460.0L263.3 1478.0L275.7 1463.6L306.9 1448.1M384.6 1425.4L421.0 1420.9L528.9 1535.6M807.4 1535.6L815.3 1533.5L823.5 1535.6M555.5 887.9L564.5 959.9L530.2 1031.8L499.9 1065.9L425.5 1103.8L486.0 1143.9M492.7 1185.3L421.0 1208.4L342.1 1214.0L263.3 1190.5L184.4 1214.1M894.2 1001.0L862.4 1031.8L842.2 1043.0M789.6 1038.4L781.0 1031.8L745.9 959.9L753.9 887.9M184.4 1103.8L263.3 1138.9L322.3 1111.9M320.2 1096.7L263.3 1076.6L184.4 1103.8M184.4 1492.8L263.3 1529.4L290.1 1498.3M348.2 1452.4L421.0 1450.2L499.9 1535.6M526.5 887.9L536.2 959.9L513.7 1001.3M473.9 1036.7L421.0 1056.8L342.1 1067.1L263.3 1041.6L184.4 1074.3M854.8 887.9L879.5 959.9L832.7 1004.9M801.8 999.8L777.2 959.9L788.8 887.9M184.4 1124.8L257.8 1175.8L184.4 1202.9M274.7 1175.8L323.6 1148.6M370.4 1144.6L421.0 1155.8L452.5 1175.8L342.1 1195.4L274.7 1175.8M184.4 1528.5L199.0 1535.6M322.1 1535.6L342.1 1508.6L401.3 1535.6M464.8 887.9L499.9 903.9L507.8 959.9L499.9 974.5L462.6 986.1M386.6 1011.7L342.1 1027.9L263.3 990.0L214.3 1031.8L184.4 1044.8M808.4 959.9L815.3 925.4L826.9 959.9L815.3 971.0L808.4 959.9M184.4 1145.9L227.5 1175.8L184.4 1191.7M338.3 1175.8L342.1 1173.7L348.9 1175.8L342.1 1176.9L338.3 1175.8M213.3 887.9L228.2 934.0M215.7 977.9L184.4 1005.0M336.1 959.9L342.1 953.3L349.3 959.9L342.1 962.5L336.1 959.9M184.4 1166.9L197.1 1175.8L184.4 1180.5"/>
</g>
<g font-family="'Liberation Serif',serif" font-size="32.5" text-anchor="middle" fill="#000">
<text transform="translate(235.0 959.0) rotate(-75)" y="11" textLength="77" lengthAdjust="spacingAndGlyphs">0.985</text>
<text transform="translate(421.0 988.0) rotate(-18)" y="11" textLength="77" lengthAdjust="spacingAndGlyphs">0.980</text>
<text transform="translate(498.0 1033.0) rotate(-42)" y="11" textLength="77" lengthAdjust="spacingAndGlyphs">0.975</text>
<text transform="translate(335.0 1101.0) rotate(85)" y="11" textLength="77" lengthAdjust="spacingAndGlyphs">0.970</text>
<text transform="translate(341.0 1134.0) rotate(-5)" y="11" textLength="77" lengthAdjust="spacingAndGlyphs">0.975</text>
<text transform="translate(502.5 1094.0) rotate(-75)" y="11" textLength="77" lengthAdjust="spacingAndGlyphs">0.965</text>
<text transform="translate(502.0 1155.0) rotate(80)" y="11" textLength="77" lengthAdjust="spacingAndGlyphs">0.970</text>
<text transform="translate(578.0 1058.0) rotate(-30)" y="11" textLength="77" lengthAdjust="spacingAndGlyphs">0.960</text>
<text transform="translate(578.0 1223.6) rotate(-25)" y="11" textLength="77" lengthAdjust="spacingAndGlyphs">0.940</text>
<text transform="translate(501.0 1233.0) rotate(-50)" y="11" textLength="77" lengthAdjust="spacingAndGlyphs">0.955</text>
<text transform="translate(816.0 1016.0) rotate(10)" y="11" textLength="77" lengthAdjust="spacingAndGlyphs">0.975</text>
<text transform="translate(815.0 1054.0) rotate(5)" y="11" textLength="77" lengthAdjust="spacingAndGlyphs">0.970</text>
<text transform="translate(300.0 1320.0) rotate(85)" y="11" textLength="77" lengthAdjust="spacingAndGlyphs">0.940</text>
<text transform="translate(340.0 1320.0) rotate(85)" y="11" textLength="77" lengthAdjust="spacingAndGlyphs">0.945</text>
<text transform="translate(342.0 1350.0) rotate(-35)" y="11" textLength="77" lengthAdjust="spacingAndGlyphs">0.950</text>
<text transform="translate(423.0 1320.0) rotate(-90)" y="11" textLength="77" lengthAdjust="spacingAndGlyphs">0.950</text>
<text transform="translate(422.0 1393.0) rotate(20)" y="11" textLength="77" lengthAdjust="spacingAndGlyphs">0.960</text>
<text transform="translate(343.0 1429.0) rotate(-20)" y="11" textLength="77" lengthAdjust="spacingAndGlyphs">0.965</text>
<text transform="translate(313.0 1464.0) rotate(-40)" y="11" textLength="77" lengthAdjust="spacingAndGlyphs">0.970</text>
<text transform="translate(501.0 1381.0) rotate(45)" y="11" textLength="77" lengthAdjust="spacingAndGlyphs">0.945</text>
<text transform="translate(500.0 1430.0) rotate(50)" y="11" textLength="77" lengthAdjust="spacingAndGlyphs">0.955</text>
<text transform="translate(644.0 1320.0) rotate(-90)" y="11" textLength="77" lengthAdjust="spacingAndGlyphs">0.935</text>
<text transform="translate(736.0 1320.0) rotate(-90)" y="11" textLength="77" lengthAdjust="spacingAndGlyphs">0.940</text>
<text transform="translate(762.0 1320.0) rotate(-90)" y="11" textLength="77" lengthAdjust="spacingAndGlyphs">0.935</text>
<text transform="translate(789.0 1320.0) rotate(-90)" y="11" textLength="77" lengthAdjust="spacingAndGlyphs">0.930</text>
<text transform="translate(736.0 1523.0) rotate(-15)" y="11" textLength="77" lengthAdjust="spacingAndGlyphs">0.960</text>
</g>
</g>
<rect x="184.4" y="887.9" width="709.8" height="647.7" fill="none" stroke="#222" stroke-width="1.2"/>
<g stroke="#222" stroke-width="1.2">
<line x1="255.0" y1="1535.6" x2="255.0" y2="1540.2"/>
<line x1="447.3" y1="1535.6" x2="447.3" y2="1540.2"/>
<line x1="639.6" y1="1535.6" x2="639.6" y2="1540.2"/>
<line x1="831.9" y1="1535.6" x2="831.9" y2="1540.2"/>
<line x1="179.8" y1="1486.8" x2="184.4" y2="1486.8"/>
<line x1="179.8" y1="1392.6" x2="184.4" y2="1392.6"/>
<line x1="179.8" y1="1298.3" x2="184.4" y2="1298.3"/>
<line x1="179.8" y1="1204.1" x2="184.4" y2="1204.1"/>
<line x1="179.8" y1="1109.9" x2="184.4" y2="1109.9"/>
<line x1="179.8" y1="1015.6" x2="184.4" y2="1015.6"/>
<line x1="179.8" y1="921.4" x2="184.4" y2="921.4"/>
<line x1="939.1" y1="888.0" x2="943.7" y2="888.0"/>
<line x1="939.1" y1="988.5" x2="943.7" y2="988.5"/>
<line x1="939.1" y1="1089.0" x2="943.7" y2="1089.0"/>
<line x1="939.1" y1="1189.5" x2="943.7" y2="1189.5"/>
<line x1="939.1" y1="1290.0" x2="943.7" y2="1290.0"/>
<line x1="939.1" y1="1390.5" x2="943.7" y2="1390.5"/>
<line x1="939.1" y1="1491.0" x2="943.7" y2="1491.0"/>
</g>
<g font-family="'Liberation Serif',serif" font-weight="bold" fill="#000">
<text x="255.0" y="1573.2" font-size="37.3" text-anchor="middle" textLength="45.5" lengthAdjust="spacingAndGlyphs">30</text>
<text x="447.3" y="1573.2" font-size="37.3" text-anchor="middle" textLength="45.5" lengthAdjust="spacingAndGlyphs">32</text>
<text x="639.6" y="1573.2" font-size="37.3" text-anchor="middle" textLength="45.5" lengthAdjust="spacingAndGlyphs">34</text>
<text x="831.9" y="1573.2" font-size="37.3" text-anchor="middle" textLength="45.5" lengthAdjust="spacingAndGlyphs">36</text>
<text x="174.9" y="1500.1" font-size="37.3" text-anchor="end" textLength="66.2" lengthAdjust="spacingAndGlyphs">800</text>
<text x="174.9" y="1405.9" font-size="37.3" text-anchor="end" textLength="87.0" lengthAdjust="spacingAndGlyphs">1000</text>
<text x="174.9" y="1311.6" font-size="37.3" text-anchor="end" textLength="87.0" lengthAdjust="spacingAndGlyphs">1200</text>
<text x="174.9" y="1217.4" font-size="37.3" text-anchor="end" textLength="87.0" lengthAdjust="spacingAndGlyphs">1400</text>
<text x="174.9" y="1123.2" font-size="37.3" text-anchor="end" textLength="87.0" lengthAdjust="spacingAndGlyphs">1600</text>
<text x="174.9" y="1029.0" font-size="37.3" text-anchor="end" textLength="87.0" lengthAdjust="spacingAndGlyphs">1800</text>
<text x="174.9" y="934.7" font-size="37.3" text-anchor="end" textLength="87.0" lengthAdjust="spacingAndGlyphs">2000</text>
<text x="948.6" y="901.3" font-size="37.3" text-anchor="start" textLength="77.8" lengthAdjust="spacingAndGlyphs">0.99</text>
<text x="948.6" y="1001.8" font-size="37.3" text-anchor="start" textLength="77.8" lengthAdjust="spacingAndGlyphs">0.98</text>
<text x="948.6" y="1102.3" font-size="37.3" text-anchor="start" textLength="77.8" lengthAdjust="spacingAndGlyphs">0.97</text>
<text x="948.6" y="1202.8" font-size="37.3" text-anchor="start" textLength="77.8" lengthAdjust="spacingAndGlyphs">0.96</text>
<text x="948.6" y="1303.3" font-size="37.3" text-anchor="start" textLength="77.8" lengthAdjust="spacingAndGlyphs">0.95</text>
<text x="948.6" y="1403.8" font-size="37.3" text-anchor="start" textLength="77.8" lengthAdjust="spacingAndGlyphs">0.94</text>
<text x="948.6" y="1504.3" font-size="37.3" text-anchor="start" textLength="77.8" lengthAdjust="spacingAndGlyphs">0.93</text>
<text x="279.0" y="1614.6" font-size="40" textLength="145.4" lengthAdjust="spacingAndGlyphs">Canopy</text><text x="440.0" y="1614.6" font-size="40" textLength="238.4" lengthAdjust="spacingAndGlyphs">temperature</text><text x="694.0" y="1614.6" font-size="40" textLength="14.5" lengthAdjust="spacingAndGlyphs">(</text><text x="719.5" y="1614.6" font-size="40" textLength="17.0" lengthAdjust="spacingAndGlyphs">°</text><text x="740.0" y="1614.6" font-size="40" textLength="34.5" lengthAdjust="spacingAndGlyphs">C</text><text x="773.5" y="1614.6" font-size="40" textLength="15.3" lengthAdjust="spacingAndGlyphs">)</text>
<g transform="translate(73.6 1211.8) rotate(-90)" font-size="40">
<text x="-202.5" y="0" textLength="93.0" lengthAdjust="spacingAndGlyphs">PAR</text>
<text x="-92.9" y="0" textLength="14.5" lengthAdjust="spacingAndGlyphs">(</text>
<text x="-77.5" y="0" font-style="italic" textLength="24.3" lengthAdjust="spacingAndGlyphs">μ</text>
<text x="-52.5" y="0" textLength="73.3" lengthAdjust="spacingAndGlyphs">mol</text>
<text x="37.1" y="0" textLength="34.8" lengthAdjust="spacingAndGlyphs">m</text>
<text x="75.1" y="-14.4" font-size="27" textLength="35.4" lengthAdjust="spacingAndGlyphs">−2</text>
<text x="127.5" y="0" textLength="17.1" lengthAdjust="spacingAndGlyphs">s</text>
<text x="147.2" y="-14.4" font-size="27" textLength="36.7" lengthAdjust="spacingAndGlyphs">−1</text>
<text x="185.5" y="0" textLength="15.2" lengthAdjust="spacingAndGlyphs">)</text>
</g>
<text x="98.0" y="828.0" font-size="70" textLength="88" lengthAdjust="spacingAndGlyphs">(b)</text>
</g>
<rect x="903.5" y="887.9" width="35.6" height="647.7" fill="url(#jetg)" stroke="#222" stroke-width="1.2"/>
<clipPath id="cpd"><rect x="1187.4" y="887.6" width="709.6" height="648.1"/></clipPath>
<g clip-path="url(#cpd)">
<g class="f" filter="url(#bl)">
<g transform="translate(1155 856)"><rect x="0" fill="#fc0" style="width:33px"/><rect x="32" fill="#ffdb00"/><rect x="48" fill="#f1fc06"/><rect x="64" fill="#d4ff23"/><rect x="80" fill="#b7ff40"/><rect x="96" fill="#9dff5a"/><rect x="112" fill="#7dff7a"/><rect x="128" fill="#5aff9d"/><rect x="144" fill="#39ffbe"/><rect x="160" fill="#16ffe1"/><rect x="176" fill="#00e4f8"/><rect x="192" fill="#00d4ff"/><rect x="208" fill="#00c4ff"/><rect x="224" fill="#00b4ff"/><rect x="240" fill="#00a4ff"/><rect x="256" fill="#0094ff"/><rect x="272" fill="#08f"/><rect x="288" fill="#0078ff"/><rect x="304" fill="#0068ff"/><rect x="320" fill="#005cff"/><rect x="336" fill="#004cff"/><rect x="352" fill="#0040ff"/><rect x="368" fill="#0034ff"/><rect x="384" fill="#002cff"/><rect x="400" fill="#0028ff"/><rect x="416" fill="#0024ff"/><rect x="432" fill="#001cff"/><rect x="448" fill="#0018ff"/><rect x="464" fill="#0010ff"/><rect x="480" fill="#000cff"/><rect x="496" fill="#0004ff"/><rect x="512" fill="#00f" style="width:33px"/><rect x="544" fill="#0000fa"/><rect x="560" fill="#0000f1"/><rect x="576" fill="#0000e8"/><rect x="592" fill="#0000df"/><rect x="608" fill="#0000d1"/><rect x="624" fill="#0000c8"/><rect x="640" fill="#00b"/><rect x="656" fill="#0000b2"/><rect x="672" fill="#0000a4"/><rect x="688" fill="#00009b"/><rect x="704" fill="#00008d"/><rect x="720" fill="#000084"/><rect x="736" fill="#000080" style="width:49px"/></g>
<g transform="translate(1155 872)"><rect x="0" fill="#fc0" style="width:33px"/><rect x="32" fill="#ffdb00"/><rect x="48" fill="#f1fc06"/><rect x="64" fill="#d4ff23"/><rect x="80" fill="#b7ff40"/><rect x="96" fill="#9dff5a"/><rect x="112" fill="#7dff7a"/><rect x="128" fill="#5aff9d"/><rect x="144" fill="#39ffbe"/><rect x="160" fill="#16ffe1"/><rect x="176" fill="#00e4f8"/><rect x="192" fill="#00d4ff"/><rect x="208" fill="#00c4ff"/><rect x="224" fill="#00b4ff"/><rect x="240" fill="#00a4ff"/><rect x="256" fill="#0094ff"/><rect x="272" fill="#08f"/><rect x="288" fill="#0078ff"/><rect x="304" fill="#0068ff"/><rect x="320" fill="#005cff"/><rect x="336" fill="#004cff"/><rect x="352" fill="#0040ff"/><rect x="368" fill="#0034ff"/><rect x="384" fill="#002cff"/><rect x="400" fill="#0028ff"/><rect x="416" fill="#0024ff"/><rect x="432" fill="#001cff"/><rect x="448" fill="#0018ff"/><rect x="464" fill="#0010ff"/><rect x="480" fill="#000cff"/><rect x="496" fill="#0004ff"/><rect x="512" fill="#00f" style="width:33px"/><rect x="544" fill="#0000fa"/><rect x="560" fill="#0000f1"/><rect x="576" fill="#0000e8"/><rect x="592" fill="#0000df"/><rect x="608" fill="#0000d1"/><rect x="624" fill="#0000c8"/><rect x="640" fill="#00b"/><rect x="656" fill="#0000b2"/><rect x="672" fill="#0000a4"/><rect x="688" fill="#00009b"/><rect x="704" fill="#00008d"/><rect x="720" fill="#000084"/><rect x="736" fill="#000080" style="width:49px"/></g>
<g transform="translate(1155 888)"><rect x="0" fill="#ffe200" style="width:33px"/><rect x="32" fill="#feed00"/><rect x="48" fill="#deff19"/><rect x="64" fill="#beff39"/><rect x="80" fill="#a4ff53"/><rect x="96" fill="#8aff6d"/><rect x="112" fill="#6dff8a"/><rect x="128" fill="#4dffaa"/><rect x="144" fill="#30ffc7"/><rect x="160" fill="#0cf4eb"/><rect x="176" fill="#00d8ff"/><rect x="192" fill="#00c8ff"/><rect x="208" fill="#00b8ff"/><rect x="224" fill="#00a8ff"/><rect x="240" fill="#0098ff"/><rect x="256" fill="#008cff"/><rect x="272" fill="#0084ff"/><rect x="288" fill="#0078ff"/><rect x="304" fill="#0068ff"/><rect x="320" fill="#0058ff"/><rect x="336" fill="#004cff"/><rect x="352" fill="#003cff"/><rect x="368" fill="#0030ff"/><rect x="384" fill="#002cff"/><rect x="400" fill="#0028ff"/><rect x="416" fill="#0020ff"/><rect x="432" fill="#001cff"/><rect x="448" fill="#0018ff"/><rect x="464" fill="#0014ff"/><rect x="480" fill="#000cff"/><rect x="496" fill="#0004ff"/><rect x="512" fill="#00f" style="width:33px"/><rect x="544" fill="#0000fa"/><rect x="560" fill="#0000f1"/><rect x="576" fill="#0000e8"/><rect x="592" fill="#0000df"/><rect x="608" fill="#0000d1"/><rect x="624" fill="#0000c8"/><rect x="640" fill="#00b"/><rect x="656" fill="#0000b2"/><rect x="672" fill="#0000a4"/><rect x="688" fill="#00009b"/><rect x="704" fill="#000092"/><rect x="720" fill="#000084"/><rect x="736" fill="#000080" style="width:49px"/></g>
<g transform="translate(1155 904)"><rect x="0" fill="#deff19" style="width:33px"/><rect x="32" fill="#ceff29"/><rect x="48" fill="#aaff4d"/><rect x="64" fill="#90ff66"/><rect x="80" fill="#7aff7d"/><rect x="96" fill="#60ff97"/><rect x="112" fill="#46ffb1"/><rect x="128" fill="#30ffc7"/><rect x="144" fill="#16ffe1"/><rect x="160" fill="#00e0fb"/><rect x="176" fill="#00c4ff"/><rect x="192" fill="#00acff"/><rect x="208" fill="#009cff"/><rect x="224" fill="#0090ff"/><rect x="240" fill="#08f"/><rect x="256" fill="#0080ff"/><rect x="272" fill="#0078ff"/><rect x="288" fill="#0070ff"/><rect x="304" fill="#0064ff"/><rect x="320" fill="#0054ff"/><rect x="336" fill="#04f"/><rect x="352" fill="#0038ff"/><rect x="368" fill="#0030ff"/><rect x="384" fill="#002cff"/><rect x="400" fill="#0028ff"/><rect x="416" fill="#0024ff"/><rect x="432" fill="#001cff"/><rect x="448" fill="#0018ff"/><rect x="464" fill="#0014ff"/><rect x="480" fill="#000cff"/><rect x="496" fill="#0004ff"/><rect x="512" fill="#00f" style="width:33px"/><rect x="544" fill="#0000fa"/><rect x="560" fill="#0000f1"/><rect x="576" fill="#0000e8"/><rect x="592" fill="#0000df"/><rect x="608" fill="#0000d6"/><rect x="624" fill="#0000c8"/><rect x="640" fill="#0000bf"/><rect x="656" fill="#0000b6"/><rect x="672" fill="#0000a8"/><rect x="688" fill="#00009f"/><rect x="704" fill="#000092"/><rect x="720" fill="#000089"/><rect x="736" fill="#000084" style="width:49px"/></g>
<g transform="translate(1155 920)"><rect x="0" fill="#a7ff50" style="width:33px"/><rect x="32" fill="#9aff5d"/><rect x="48" fill="#83ff73"/><rect x="64" fill="#70ff87"/><rect x="80" fill="#5aff9d"/><rect x="96" fill="#43ffb4"/><rect x="112" fill="#33ffc4"/><rect x="128" fill="#1cffdb"/><rect x="144" fill="#02e8f4"/><rect x="160" fill="#0cf"/><rect x="176" fill="#00b4ff"/><rect x="192" fill="#0098ff"/><rect x="208" fill="#008cff"/><rect x="224" fill="#0084ff"/><rect x="240" fill="#0080ff"/><rect x="256" fill="#0078ff"/><rect x="272" fill="#0070ff"/><rect x="288" fill="#0064ff"/><rect x="304" fill="#005cff"/><rect x="320" fill="#0050ff"/><rect x="336" fill="#0040ff"/><rect x="352" fill="#0034ff"/><rect x="368" fill="#0030ff" style="width:33px"/><rect x="400" fill="#0028ff"/><rect x="416" fill="#0024ff"/><rect x="432" fill="#0020ff"/><rect x="448" fill="#0018ff"/><rect x="464" fill="#0014ff"/><rect x="480" fill="#000cff"/><rect x="496" fill="#0004ff"/><rect x="512" fill="#00f" style="width:33px"/><rect x="544" fill="#0000fa"/><rect x="560" fill="#0000f1"/><rect x="576" fill="#0000e8"/><rect x="592" fill="#0000df"/><rect x="608" fill="#0000d6"/><rect x="624" fill="#0000cd"/><rect x="640" fill="#0000c4"/><rect x="656" fill="#0000b6"/><rect x="672" fill="#0000ad"/><rect x="688" fill="#00009f"/><rect x="704" fill="#000096"/><rect x="720" fill="#000092"/><rect x="736" fill="#000089" style="width:49px"/></g>
<g transform="translate(1155 936)"><rect x="0" fill="#7dff7a" style="width:33px"/><rect x="32" fill="#77ff80"/><rect x="48" fill="#63ff94"/><rect x="64" fill="#53ffa4"/><rect x="80" fill="#43ffb4"/><rect x="96" fill="#33ffc4"/><rect x="112" fill="#23ffd4"/><rect x="128" fill="#0cf4eb"/><rect x="144" fill="#00d8ff"/><rect x="160" fill="#00c0ff"/><rect x="176" fill="#00a4ff"/><rect x="192" fill="#008cff"/><rect x="208" fill="#0084ff"/><rect x="224" fill="#007cff"/><rect x="240" fill="#0078ff"/><rect x="256" fill="#0070ff"/><rect x="272" fill="#0068ff"/><rect x="288" fill="#005cff"/><rect x="304" fill="#0054ff"/><rect x="320" fill="#0048ff"/><rect x="336" fill="#0038ff"/><rect x="352" fill="#0034ff"/><rect x="368" fill="#0030ff" style="width:33px"/><rect x="400" fill="#002cff"/><rect x="416" fill="#0024ff"/><rect x="432" fill="#0020ff"/><rect x="448" fill="#001cff"/><rect x="464" fill="#0014ff"/><rect x="480" fill="#000cff"/><rect x="496" fill="#0004ff"/><rect x="512" fill="#00f" style="width:33px"/><rect x="544" fill="#0000fa"/><rect x="560" fill="#0000f1"/><rect x="576" fill="#0000e8"/><rect x="592" fill="#0000df"/><rect x="608" fill="#0000d6"/><rect x="624" fill="#0000cd"/><rect x="640" fill="#0000c4"/><rect x="656" fill="#00b"/><rect x="672" fill="#0000b2"/><rect x="688" fill="#0000a4"/><rect x="704" fill="#00009b" style="width:33px"/><rect x="736" fill="#00008d" style="width:49px"/></g>
<g transform="translate(1155 952)"><rect x="0" fill="#5aff9d" style="width:33px"/><rect x="32" fill="#53ffa4"/><rect x="48" fill="#46ffb1"/><rect x="64" fill="#40ffb7"/><rect x="80" fill="#36ffc1"/><rect x="96" fill="#26ffd1"/><rect x="112" fill="#13fce4"/><rect x="128" fill="#00e4f8"/><rect x="144" fill="#00c8ff"/><rect x="160" fill="#00b0ff"/><rect x="176" fill="#0094ff"/><rect x="192" fill="#08f"/><rect x="208" fill="#0080ff"/><rect x="224" fill="#0078ff"/><rect x="240" fill="#0070ff"/><rect x="256" fill="#0068ff"/><rect x="272" fill="#0060ff"/><rect x="288" fill="#0058ff"/><rect x="304" fill="#004cff"/><rect x="320" fill="#04f"/><rect x="336" fill="#0034ff"/><rect x="352" fill="#0030ff" style="width:33px"/><rect x="384" fill="#002cff" style="width:33px"/><rect x="416" fill="#0028ff"/><rect x="432" fill="#0020ff"/><rect x="448" fill="#001cff"/><rect x="464" fill="#0014ff"/><rect x="480" fill="#000cff"/><rect x="496" fill="#0004ff"/><rect x="512" fill="#00f" style="width:33px"/><rect x="544" fill="#0000fa"/><rect x="560" fill="#0000f1"/><rect x="576" fill="#0000e8"/><rect x="592" fill="#0000df"/><rect x="608" fill="#0000d6"/><rect x="624" fill="#0000cd"/><rect x="640" fill="#0000c4"/><rect x="656" fill="#00b"/><rect x="672" fill="#0000b2"/><rect x="688" fill="#0000a8"/><rect x="704" fill="#0000a4" style="width:33px"/><rect x="736" fill="#0000a8" style="width:49px"/></g>
<g transform="translate(1155 968)"><rect x="0" fill="#43ffb4" style="width:33px"/><rect x="32" fill="#3cffba"/><rect x="48" fill="#36ffc1"/><rect x="64" fill="#30ffc7"/><rect x="80" fill="#26ffd1"/><rect x="96" fill="#19ffde"/><rect x="112" fill="#09f0ee"/><rect x="128" fill="#00d4ff"/><rect x="144" fill="#00b8ff"/><rect x="160" fill="#009cff"/><rect x="176" fill="#008cff"/><rect x="192" fill="#0084ff"/><rect x="208" fill="#007cff"/><rect x="224" fill="#0074ff"/><rect x="240" fill="#006cff"/><rect x="256" fill="#0064ff"/><rect x="272" fill="#0058ff"/><rect x="288" fill="#0050ff"/><rect x="304" fill="#0048ff"/><rect x="320" fill="#0040ff"/><rect x="336" fill="#0034ff"/><rect x="352" fill="#0030ff" style="width:33px"/><rect x="384" fill="#002cff"/><rect x="400" fill="#0028ff" style="width:33px"/><rect x="432" fill="#0024ff"/><rect x="448" fill="#001cff"/><rect x="464" fill="#0014ff"/><rect x="480" fill="#000cff"/><rect x="496" fill="#0004ff"/><rect x="512" fill="#00f" style="width:33px"/><rect x="544" fill="#0000fa"/><rect x="560" fill="#0000f6"/><rect x="576" fill="#0000ed"/><rect x="592" fill="#0000e3"/><rect x="608" fill="#0000da"/><rect x="624" fill="#0000d1"/><rect x="640" fill="#0000c8"/><rect x="656" fill="#0000bf"/><rect x="672" fill="#0000b6"/><rect x="688" fill="#0000b2" style="width:33px"/><rect x="720" fill="#0000ad"/><rect x="736" fill="#0000a8" style="width:49px"/></g>
<g transform="translate(1155 984)"><rect x="0" fill="#30ffc7" style="width:33px"/><rect x="32" fill="#2cffca"/><rect x="48" fill="#23ffd4"/><rect x="64" fill="#1cffdb"/><rect x="80" fill="#16ffe1"/><rect x="96" fill="#0cf4eb"/><rect x="112" fill="#00e0fb"/><rect x="128" fill="#00c4ff"/><rect x="144" fill="#00a8ff"/><rect x="160" fill="#0090ff"/><rect x="176" fill="#08f"/><rect x="192" fill="#0080ff"/><rect x="208" fill="#0078ff"/><rect x="224" fill="#0070ff"/><rect x="240" fill="#0068ff"/><rect x="256" fill="#0060ff"/><rect x="272" fill="#0054ff"/><rect x="288" fill="#004cff"/><rect x="304" fill="#04f"/><rect x="320" fill="#003cff"/><rect x="336" fill="#0034ff"/><rect x="352" fill="#0030ff" style="width:33px"/><rect x="384" fill="#002cff"/><rect x="400" fill="#0028ff" style="width:33px"/><rect x="432" fill="#0024ff"/><rect x="448" fill="#001cff"/><rect x="464" fill="#0014ff"/><rect x="480" fill="#000cff"/><rect x="496" fill="#0004ff"/><rect x="512" fill="#00f" style="width:49px"/><rect x="560" fill="#0000f6"/><rect x="576" fill="#0000ed"/><rect x="592" fill="#0000e3"/><rect x="608" fill="#0000da"/><rect x="624" fill="#0000d1"/><rect x="640" fill="#0000cd"/><rect x="656" fill="#0000c4"/><rect x="672" fill="#00b" style="width:49px"/><rect x="720" fill="#0000b6"/><rect x="736" fill="#0000ad" style="width:49px"/></g>
<g transform="translate(1155 1000)"><rect x="0" fill="#1cffdb" style="width:33px"/><rect x="32" fill="#19ffde"/><rect x="48" fill="#13fce4"/><rect x="64" fill="#09f0ee"/><rect x="80" fill="#02e8f4"/><rect x="96" fill="#00e0fb"/><rect x="112" fill="#00d4ff"/><rect x="128" fill="#00b8ff"/><rect x="144" fill="#009cff"/><rect x="160" fill="#08f"/><rect x="176" fill="#0084ff"/><rect x="192" fill="#007cff"/><rect x="208" fill="#0074ff"/><rect x="224" fill="#006cff"/><rect x="240" fill="#0064ff"/><rect x="256" fill="#005cff"/><rect x="272" fill="#0054ff"/><rect x="288" fill="#004cff"/><rect x="304" fill="#0040ff"/><rect x="320" fill="#0038ff"/><rect x="336" fill="#0034ff"/><rect x="352" fill="#0030ff"/><rect x="368" fill="#002cff" style="width:33px"/><rect x="400" fill="#0028ff"/><rect x="416" fill="#0024ff" style="width:33px"/><rect x="448" fill="#0020ff"/><rect x="464" fill="#0018ff"/><rect x="480" fill="#0010ff"/><rect x="496" fill="#0008ff"/><rect x="512" fill="#00f" style="width:49px"/><rect x="560" fill="#0000fa"/><rect x="576" fill="#0000f1"/><rect x="592" fill="#0000e8"/><rect x="608" fill="#0000df"/><rect x="624" fill="#0000da"/><rect x="640" fill="#0000d1"/><rect x="656" fill="#0000c8"/><rect x="672" fill="#0000c4"/><rect x="688" fill="#0000bf" style="width:97px"/></g>
<g transform="translate(1155 1016)"><rect x="0" fill="#09f0ee" style="width:33px"/><rect x="32" fill="#06ecf1"/><rect x="48" fill="#00e4f8"/><rect x="64" fill="#00e0fb"/><rect x="80" fill="#00d8ff"/><rect x="96" fill="#0cf"/><rect x="112" fill="#00c0ff"/><rect x="128" fill="#00acff"/><rect x="144" fill="#0094ff"/><rect x="160" fill="#08f"/><rect x="176" fill="#0080ff"/><rect x="192" fill="#0078ff"/><rect x="208" fill="#0070ff"/><rect x="224" fill="#0068ff"/><rect x="240" fill="#0060ff"/><rect x="256" fill="#0058ff"/><rect x="272" fill="#0050ff"/><rect x="288" fill="#0048ff"/><rect x="304" fill="#0040ff"/><rect x="320" fill="#0034ff" style="width:33px"/><rect x="352" fill="#0030ff"/><rect x="368" fill="#002cff" style="width:33px"/><rect x="400" fill="#0028ff" style="width:33px"/><rect x="432" fill="#0024ff"/><rect x="448" fill="#0020ff"/><rect x="464" fill="#0018ff"/><rect x="480" fill="#0014ff"/><rect x="496" fill="#000cff"/><rect x="512" fill="#0004ff"/><rect x="528" fill="#00f" style="width:49px"/><rect x="576" fill="#0000f6"/><rect x="592" fill="#0000ed"/><rect x="608" fill="#0000e8"/><rect x="624" fill="#0000df"/><rect x="640" fill="#0000d6"/><rect x="656" fill="#0000d1"/><rect x="672" fill="#0000cd"/><rect x="688" fill="#0000c8" style="width:49px"/><rect x="736" fill="#0000da" style="width:49px"/></g>
<g transform="translate(1155 1032)"><rect x="0" fill="#00e0fb" style="width:33px"/><rect x="32" fill="#00dcfe"/><rect x="48" fill="#00d4ff"/><rect x="64" fill="#00d0ff"/><rect x="80" fill="#00c8ff"/><rect x="96" fill="#00bcff"/><rect x="112" fill="#00b0ff"/><rect x="128" fill="#009cff"/><rect x="144" fill="#008cff"/><rect x="160" fill="#08f"/><rect x="176" fill="#0080ff"/><rect x="192" fill="#0078ff"/><rect x="208" fill="#0070ff"/><rect x="224" fill="#0068ff"/><rect x="240" fill="#0060ff"/><rect x="256" fill="#0058ff"/><rect x="272" fill="#004cff"/><rect x="288" fill="#04f"/><rect x="304" fill="#003cff"/><rect x="320" fill="#0034ff" style="width:33px"/><rect x="352" fill="#0030ff"/><rect x="368" fill="#002cff" style="width:33px"/><rect x="400" fill="#0028ff" style="width:33px"/><rect x="432" fill="#0024ff"/><rect x="448" fill="#0020ff"/><rect x="464" fill="#001cff"/><rect x="480" fill="#0014ff"/><rect x="496" fill="#000cff"/><rect x="512" fill="#0008ff"/><rect x="528" fill="#00f" style="width:49px"/><rect x="576" fill="#0000fa"/><rect x="592" fill="#0000f1"/><rect x="608" fill="#0000ed"/><rect x="624" fill="#0000e3"/><rect x="640" fill="#0000da"/><rect x="656" fill="#0000d6"/><rect x="672" fill="#0000d1" style="width:65px"/><rect x="736" fill="#0000da" style="width:49px"/></g>
<g transform="translate(1155 1048)"><rect x="0" fill="#00d0ff" style="width:33px"/><rect x="32" fill="#0cf"/><rect x="48" fill="#00c4ff"/><rect x="64" fill="#00c0ff"/><rect x="80" fill="#00b8ff"/><rect x="96" fill="#00b0ff"/><rect x="112" fill="#00a0ff"/><rect x="128" fill="#0090ff"/><rect x="144" fill="#008cff"/><rect x="160" fill="#08f"/><rect x="176" fill="#0080ff"/><rect x="192" fill="#0078ff"/><rect x="208" fill="#0070ff"/><rect x="224" fill="#0068ff"/><rect x="240" fill="#0060ff"/><rect x="256" fill="#0058ff"/><rect x="272" fill="#0050ff"/><rect x="288" fill="#0048ff"/><rect x="304" fill="#0040ff"/><rect x="320" fill="#0038ff"/><rect x="336" fill="#0034ff"/><rect x="352" fill="#0030ff" style="width:33px"/><rect x="384" fill="#002cff"/><rect x="400" fill="#0028ff" style="width:33px"/><rect x="432" fill="#0024ff"/><rect x="448" fill="#0020ff"/><rect x="464" fill="#001cff"/><rect x="480" fill="#0018ff"/><rect x="496" fill="#0010ff"/><rect x="512" fill="#0008ff"/><rect x="528" fill="#0004ff"/><rect x="544" fill="#00f" style="width:49px"/><rect x="592" fill="#0000f6"/><rect x="608" fill="#0000ed"/><rect x="624" fill="#0000e8"/><rect x="640" fill="#0000e3"/><rect x="656" fill="#0000df"/><rect x="672" fill="#0000da" style="width:65px"/><rect x="736" fill="#0000df" style="width:49px"/></g>
<g transform="translate(1155 1064)"><rect x="0" fill="#00c0ff" style="width:33px"/><rect x="32" fill="#00bcff"/><rect x="48" fill="#00b4ff"/><rect x="64" fill="#00b0ff"/><rect x="80" fill="#00acff"/><rect x="96" fill="#00a0ff"/><rect x="112" fill="#0094ff"/><rect x="128" fill="#008cff"/><rect x="144" fill="#08f"/><rect x="160" fill="#0084ff"/><rect x="176" fill="#0080ff"/><rect x="192" fill="#0078ff"/><rect x="208" fill="#0070ff"/><rect x="224" fill="#0068ff"/><rect x="240" fill="#0060ff"/><rect x="256" fill="#0058ff"/><rect x="272" fill="#0050ff"/><rect x="288" fill="#0048ff"/><rect x="304" fill="#0040ff"/><rect x="320" fill="#0038ff"/><rect x="336" fill="#0034ff"/><rect x="352" fill="#0030ff" style="width:33px"/><rect x="384" fill="#002cff" style="width:33px"/><rect x="416" fill="#0028ff"/><rect x="432" fill="#0024ff"/><rect x="448" fill="#0020ff"/><rect x="464" fill="#001cff"/><rect x="480" fill="#0018ff"/><rect x="496" fill="#0010ff"/><rect x="512" fill="#000cff"/><rect x="528" fill="#0004ff"/><rect x="544" fill="#00f" style="width:49px"/><rect x="592" fill="#0000f6"/><rect x="608" fill="#0000f1"/><rect x="624" fill="#0000e8" style="width:33px"/><rect x="656" fill="#0000e3" style="width:129px"/></g>
<g transform="translate(1155 1080)"><rect x="0" fill="#00b4ff" style="width:33px"/><rect x="32" fill="#00b0ff"/><rect x="48" fill="#00a4ff"/><rect x="64" fill="#00a0ff"/><rect x="80" fill="#009cff"/><rect x="96" fill="#0094ff"/><rect x="112" fill="#008cff"/><rect x="128" fill="#08f"/><rect x="144" fill="#0084ff"/><rect x="160" fill="#0080ff"/><rect x="176" fill="#007cff"/><rect x="192" fill="#0078ff"/><rect x="208" fill="#0074ff"/><rect x="224" fill="#006cff"/><rect x="240" fill="#0064ff"/><rect x="256" fill="#005cff"/><rect x="272" fill="#0050ff"/><rect x="288" fill="#0048ff"/><rect x="304" fill="#04f"/><rect x="320" fill="#003cff"/><rect x="336" fill="#0034ff"/><rect x="352" fill="#0030ff" style="width:33px"/><rect x="384" fill="#002cff" style="width:33px"/><rect x="416" fill="#0028ff"/><rect x="432" fill="#0024ff"/><rect x="448" fill="#0020ff"/><rect x="464" fill="#001cff"/><rect x="480" fill="#0018ff"/><rect x="496" fill="#0014ff"/><rect x="512" fill="#000cff"/><rect x="528" fill="#0004ff"/><rect x="544" fill="#00f" style="width:49px"/><rect x="592" fill="#0000fa"/><rect x="608" fill="#0000f1"/><rect x="624" fill="#0000ed"/><rect x="640" fill="#0000e8" style="width:145px"/></g>
<g transform="translate(1155 1096)"><rect x="0" fill="#00a4ff" style="width:33px"/><rect x="32" fill="#00a0ff"/><rect x="48" fill="#0094ff"/><rect x="64" fill="#0090ff" style="width:33px"/><rect x="96" fill="#008cff" style="width:33px"/><rect x="128" fill="#08f"/><rect x="144" fill="#0084ff"/><rect x="160" fill="#0080ff"/><rect x="176" fill="#007cff"/><rect x="192" fill="#0078ff"/><rect x="208" fill="#0074ff"/><rect x="224" fill="#006cff"/><rect x="240" fill="#0064ff"/><rect x="256" fill="#005cff"/><rect x="272" fill="#0054ff"/><rect x="288" fill="#004cff"/><rect x="304" fill="#04f"/><rect x="320" fill="#003cff"/><rect x="336" fill="#0034ff" style="width:33px"/><rect x="368" fill="#0030ff"/><rect x="384" fill="#002cff" style="width:33px"/><rect x="416" fill="#0028ff"/><rect x="432" fill="#0024ff"/><rect x="448" fill="#0020ff"/><rect x="464" fill="#001cff"/><rect x="480" fill="#0018ff"/><rect x="496" fill="#0014ff"/><rect x="512" fill="#000cff"/><rect x="528" fill="#0008ff"/><rect x="544" fill="#00f" style="width:49px"/><rect x="592" fill="#0000fa"/><rect x="608" fill="#0000f6"/><rect x="624" fill="#0000f1"/><rect x="640" fill="#0000ed" style="width:97px"/><rect x="736" fill="#0000e8" style="width:49px"/></g>
<g transform="translate(1155 1112)"><rect x="0" fill="#0094ff" style="width:33px"/><rect x="32" fill="#0090ff"/><rect x="48" fill="#008cff"/><rect x="64" fill="#0090ff"/><rect x="80" fill="#008cff" style="width:33px"/><rect x="112" fill="#08f" style="width:33px"/><rect x="144" fill="#0080ff"/><rect x="160" fill="#007cff"/><rect x="176" fill="#0078ff"/><rect x="192" fill="#0074ff"/><rect x="208" fill="#0070ff"/><rect x="224" fill="#006cff"/><rect x="240" fill="#0064ff"/><rect x="256" fill="#005cff"/><rect x="272" fill="#0054ff"/><rect x="288" fill="#004cff"/><rect x="304" fill="#0048ff"/><rect x="320" fill="#0040ff"/><rect x="336" fill="#0038ff"/><rect x="352" fill="#0034ff"/><rect x="368" fill="#0030ff" style="width:33px"/><rect x="400" fill="#002cff"/><rect x="416" fill="#0028ff"/><rect x="432" fill="#0024ff"/><rect x="448" fill="#0020ff"/><rect x="464" fill="#001cff" style="width:33px"/><rect x="496" fill="#0018ff"/><rect x="512" fill="#0010ff"/><rect x="528" fill="#0008ff"/><rect x="544" fill="#0004ff"/><rect x="560" fill="#00f" style="width:49px"/><rect x="608" fill="#0000f6" style="width:33px"/><rect x="640" fill="#0000f1" style="width:97px"/><rect x="736" fill="#0000ed" style="width:49px"/></g>
<g transform="translate(1155 1128)"><rect x="0" fill="#08f" style="width:49px"/><rect x="48" fill="#008cff"/><rect x="64" fill="#0090ff" style="width:33px"/><rect x="96" fill="#08f" style="width:33px"/><rect x="128" fill="#0084ff"/><rect x="144" fill="#0080ff"/><rect x="160" fill="#007cff"/><rect x="176" fill="#0078ff"/><rect x="192" fill="#0074ff"/><rect x="208" fill="#006cff"/><rect x="224" fill="#0068ff"/><rect x="240" fill="#0064ff"/><rect x="256" fill="#005cff"/><rect x="272" fill="#0054ff"/><rect x="288" fill="#0050ff"/><rect x="304" fill="#0048ff"/><rect x="320" fill="#0040ff"/><rect x="336" fill="#0038ff"/><rect x="352" fill="#0034ff"/><rect x="368" fill="#0030ff" style="width:33px"/><rect x="400" fill="#002cff"/><rect x="416" fill="#0028ff"/><rect x="432" fill="#0024ff"/><rect x="448" fill="#0020ff"/><rect x="464" fill="#001cff" style="width:33px"/><rect x="496" fill="#0018ff"/><rect x="512" fill="#0010ff"/><rect x="528" fill="#000cff"/><rect x="544" fill="#0004ff"/><rect x="560" fill="#00f" style="width:49px"/><rect x="608" fill="#0000fa"/><rect x="624" fill="#0000f6" style="width:113px"/><rect x="736" fill="#0000ed" style="width:49px"/></g>
<g transform="translate(1155 1144)"><rect x="0" fill="#0080ff" style="width:49px"/><rect x="48" fill="#08f"/><rect x="64" fill="#0090ff" style="width:33px"/><rect x="96" fill="#08f"/><rect x="112" fill="#0084ff" style="width:33px"/><rect x="144" fill="#007cff"/><rect x="160" fill="#0078ff"/><rect x="176" fill="#0074ff"/><rect x="192" fill="#0070ff"/><rect x="208" fill="#006cff"/><rect x="224" fill="#0068ff"/><rect x="240" fill="#0064ff"/><rect x="256" fill="#0060ff"/><rect x="272" fill="#0058ff"/><rect x="288" fill="#0050ff"/><rect x="304" fill="#0048ff"/><rect x="320" fill="#04f"/><rect x="336" fill="#003cff"/><rect x="352" fill="#0034ff" style="width:33px"/><rect x="384" fill="#0030ff"/><rect x="400" fill="#002cff"/><rect x="416" fill="#0028ff"/><rect x="432" fill="#0024ff"/><rect x="448" fill="#0020ff"/><rect x="464" fill="#001cff" style="width:33px"/><rect x="496" fill="#0018ff"/><rect x="512" fill="#0014ff"/><rect x="528" fill="#000cff"/><rect x="544" fill="#0004ff"/><rect x="560" fill="#00f" style="width:65px"/><rect x="624" fill="#0000fa" style="width:113px"/><rect x="736" fill="#0000ed" style="width:49px"/></g>
<g transform="translate(1155 1160)"><rect x="0" fill="#0080ff" style="width:49px"/><rect x="48" fill="#08f"/><rect x="64" fill="#0090ff" style="width:33px"/><rect x="96" fill="#08f"/><rect x="112" fill="#0084ff"/><rect x="128" fill="#0080ff"/><rect x="144" fill="#007cff"/><rect x="160" fill="#0078ff"/><rect x="176" fill="#0074ff"/><rect x="192" fill="#0070ff"/><rect x="208" fill="#006cff"/><rect x="224" fill="#0068ff"/><rect x="240" fill="#0064ff" style="width:33px"/><rect x="272" fill="#005cff"/><rect x="288" fill="#0054ff"/><rect x="304" fill="#004cff"/><rect x="320" fill="#04f"/><rect x="336" fill="#003cff"/><rect x="352" fill="#0038ff"/><rect x="368" fill="#0034ff"/><rect x="384" fill="#0030ff"/><rect x="400" fill="#002cff"/><rect x="416" fill="#0028ff"/><rect x="432" fill="#0024ff"/><rect x="448" fill="#0020ff"/><rect x="464" fill="#001cff" style="width:33px"/><rect x="496" fill="#0018ff"/><rect x="512" fill="#0014ff"/><rect x="528" fill="#000cff"/><rect x="544" fill="#0008ff"/><rect x="560" fill="#00f" style="width:225px"/></g>
<g transform="translate(1155 1176)"><rect x="0" fill="#08f" style="width:33px"/><rect x="32" fill="#0084ff"/><rect x="48" fill="#08f"/><rect x="64" fill="#0090ff" style="width:33px"/><rect x="96" fill="#08f"/><rect x="112" fill="#0084ff"/><rect x="128" fill="#0080ff"/><rect x="144" fill="#007cff"/><rect x="160" fill="#0078ff"/><rect x="176" fill="#0074ff" style="width:33px"/><rect x="208" fill="#0070ff"/><rect x="224" fill="#006cff"/><rect x="240" fill="#0068ff" style="width:33px"/><rect x="272" fill="#0060ff"/><rect x="288" fill="#0058ff"/><rect x="304" fill="#0050ff"/><rect x="320" fill="#0048ff"/><rect x="336" fill="#0040ff"/><rect x="352" fill="#0038ff"/><rect x="368" fill="#0034ff"/><rect x="384" fill="#0030ff"/><rect x="400" fill="#002cff"/><rect x="416" fill="#0028ff"/><rect x="432" fill="#0024ff"/><rect x="448" fill="#0020ff"/><rect x="464" fill="#001cff" style="width:33px"/><rect x="496" fill="#0018ff"/><rect x="512" fill="#0014ff"/><rect x="528" fill="#0010ff"/><rect x="544" fill="#0008ff"/><rect x="560" fill="#0004ff"/><rect x="576" fill="#00f" style="width:209px"/></g>
<g transform="translate(1155 1192)"><rect x="0" fill="#0090ff" style="width:33px"/><rect x="32" fill="#008cff" style="width:65px"/><rect x="96" fill="#08f" style="width:33px"/><rect x="128" fill="#0084ff"/><rect x="144" fill="#0080ff"/><rect x="160" fill="#007cff"/><rect x="176" fill="#0078ff"/><rect x="192" fill="#0074ff" style="width:33px"/><rect x="224" fill="#0070ff"/><rect x="240" fill="#006cff" style="width:33px"/><rect x="272" fill="#0064ff"/><rect x="288" fill="#005cff"/><rect x="304" fill="#0054ff"/><rect x="320" fill="#004cff"/><rect x="336" fill="#04f"/><rect x="352" fill="#003cff"/><rect x="368" fill="#0034ff"/><rect x="384" fill="#0030ff"/><rect x="400" fill="#002cff"/><rect x="416" fill="#0028ff"/><rect x="432" fill="#0024ff"/><rect x="448" fill="#0020ff" style="width:33px"/><rect x="480" fill="#001cff"/><rect x="496" fill="#0018ff"/><rect x="512" fill="#0014ff"/><rect x="528" fill="#0010ff"/><rect x="544" fill="#000cff"/><rect x="560" fill="#0004ff"/><rect x="576" fill="#00f" style="width:209px"/></g>
<g transform="translate(1155 1208)"><rect x="0" fill="#009cff" style="width:33px"/><rect x="32" fill="#0098ff" style="width:33px"/><rect x="64" fill="#0094ff"/><rect x="80" fill="#0090ff"/><rect x="96" fill="#008cff" style="width:33px"/><rect x="128" fill="#08f"/><rect x="144" fill="#0084ff"/><rect x="160" fill="#0080ff"/><rect x="176" fill="#007cff"/><rect x="192" fill="#0078ff" style="width:33px"/><rect x="224" fill="#0074ff"/><rect x="240" fill="#0070ff" style="width:33px"/><rect x="272" fill="#0068ff"/><rect x="288" fill="#0060ff"/><rect x="304" fill="#0058ff"/><rect x="320" fill="#0050ff"/><rect x="336" fill="#0048ff"/><rect x="352" fill="#0040ff"/><rect x="368" fill="#0038ff"/><rect x="384" fill="#0034ff"/><rect x="400" fill="#0030ff"/><rect x="416" fill="#002cff"/><rect x="432" fill="#0028ff"/><rect x="448" fill="#0020ff" style="width:33px"/><rect x="480" fill="#001cff"/><rect x="496" fill="#0018ff"/><rect x="512" fill="#0014ff"/><rect x="528" fill="#0010ff"/><rect x="544" fill="#000cff"/><rect x="560" fill="#0004ff"/><rect x="576" fill="#00f" style="width:209px"/></g>
<g transform="translate(1155 1224)"><rect x="0" fill="#00a8ff" style="width:49px"/><rect x="48" fill="#00a4ff"/><rect x="64" fill="#00a0ff"/><rect x="80" fill="#009cff"/><rect x="96" fill="#0094ff"/><rect x="112" fill="#008cff"/><rect x="128" fill="#08f" style="width:33px"/><rect x="160" fill="#0084ff"/><rect x="176" fill="#0080ff"/><rect x="192" fill="#007cff"/><rect x="208" fill="#0078ff" style="width:33px"/><rect x="240" fill="#0074ff" style="width:33px"/><rect x="272" fill="#006cff"/><rect x="288" fill="#0064ff"/><rect x="304" fill="#005cff"/><rect x="320" fill="#0054ff"/><rect x="336" fill="#004cff"/><rect x="352" fill="#04f"/><rect x="368" fill="#003cff"/><rect x="384" fill="#0034ff"/><rect x="400" fill="#0030ff"/><rect x="416" fill="#002cff"/><rect x="432" fill="#0028ff"/><rect x="448" fill="#0024ff"/><rect x="464" fill="#0020ff"/><rect x="480" fill="#001cff"/><rect x="496" fill="#0018ff"/><rect x="512" fill="#0014ff"/><rect x="528" fill="#0010ff"/><rect x="544" fill="#000cff"/><rect x="560" fill="#0008ff"/><rect x="576" fill="#0004ff" style="width:97px"/><rect x="672" fill="#00f" style="width:65px"/><rect x="736" fill="#0004ff" style="width:49px"/></g>
<g transform="translate(1155 1240)"><rect x="0" fill="#00b4ff" style="width:49px"/><rect x="48" fill="#00b0ff" style="width:33px"/><rect x="80" fill="#00a8ff"/><rect x="96" fill="#00a0ff"/><rect x="112" fill="#0094ff"/><rect x="128" fill="#008cff"/><rect x="144" fill="#08f" style="width:33px"/><rect x="176" fill="#0084ff"/><rect x="192" fill="#0080ff"/><rect x="208" fill="#007cff" style="width:33px"/><rect x="240" fill="#0078ff"/><rect x="256" fill="#0074ff"/><rect x="272" fill="#006cff"/><rect x="288" fill="#0068ff"/><rect x="304" fill="#0060ff"/><rect x="320" fill="#0058ff"/><rect x="336" fill="#0050ff"/><rect x="352" fill="#0048ff"/><rect x="368" fill="#04f"/><rect x="384" fill="#003cff"/><rect x="400" fill="#0034ff"/><rect x="416" fill="#0030ff"/><rect x="432" fill="#002cff"/><rect x="448" fill="#0028ff"/><rect x="464" fill="#0024ff"/><rect x="480" fill="#0020ff"/><rect x="496" fill="#001cff"/><rect x="512" fill="#0014ff"/><rect x="528" fill="#0010ff"/><rect x="544" fill="#000cff"/><rect x="560" fill="#0008ff" style="width:113px"/><rect x="672" fill="#0004ff" style="width:113px"/></g>
<g transform="translate(1155 1256)"><rect x="0" fill="#00c4ff" style="width:33px"/><rect x="32" fill="#00c0ff" style="width:33px"/><rect x="64" fill="#00bcff"/><rect x="80" fill="#00b4ff"/><rect x="96" fill="#00acff"/><rect x="112" fill="#00a0ff"/><rect x="128" fill="#0094ff"/><rect x="144" fill="#008cff"/><rect x="160" fill="#08f" style="width:33px"/><rect x="192" fill="#0084ff"/><rect x="208" fill="#0080ff" style="width:49px"/><rect x="256" fill="#0078ff"/><rect x="272" fill="#0070ff"/><rect x="288" fill="#0068ff"/><rect x="304" fill="#0060ff"/><rect x="320" fill="#005cff"/><rect x="336" fill="#0058ff"/><rect x="352" fill="#0050ff"/><rect x="368" fill="#0048ff"/><rect x="384" fill="#0040ff"/><rect x="400" fill="#0038ff"/><rect x="416" fill="#0034ff"/><rect x="432" fill="#0030ff"/><rect x="448" fill="#002cff"/><rect x="464" fill="#0028ff"/><rect x="480" fill="#0024ff"/><rect x="496" fill="#0020ff"/><rect x="512" fill="#001cff"/><rect x="528" fill="#0018ff"/><rect x="544" fill="#0014ff"/><rect x="560" fill="#000cff"/><rect x="576" fill="#0008ff" style="width:49px"/><rect x="624" fill="#0004ff" style="width:97px"/><rect x="720" fill="#00f"/><rect x="736" fill="#0004ff" style="width:49px"/></g>
<g transform="translate(1155 1272)"><rect x="0" fill="#00d0ff" style="width:49px"/><rect x="48" fill="#0cf"/><rect x="64" fill="#00c8ff"/><rect x="80" fill="#00c0ff"/><rect x="96" fill="#00b8ff"/><rect x="112" fill="#00b0ff"/><rect x="128" fill="#00a4ff"/><rect x="144" fill="#0098ff"/><rect x="160" fill="#008cff"/><rect x="176" fill="#08f" style="width:33px"/><rect x="208" fill="#0084ff" style="width:49px"/><rect x="256" fill="#007cff"/><rect x="272" fill="#0074ff"/><rect x="288" fill="#006cff"/><rect x="304" fill="#0068ff"/><rect x="320" fill="#0064ff"/><rect x="336" fill="#005cff"/><rect x="352" fill="#0054ff"/><rect x="368" fill="#004cff"/><rect x="384" fill="#0048ff"/><rect x="400" fill="#003cff"/><rect x="416" fill="#0038ff"/><rect x="432" fill="#0034ff" style="width:33px"/><rect x="464" fill="#0030ff"/><rect x="480" fill="#0028ff"/><rect x="496" fill="#0024ff"/><rect x="512" fill="#0020ff"/><rect x="528" fill="#001cff"/><rect x="544" fill="#0018ff"/><rect x="560" fill="#0010ff"/><rect x="576" fill="#000cff"/><rect x="592" fill="#0008ff"/><rect x="608" fill="#0004ff" style="width:33px"/><rect x="640" fill="#00f" style="width:145px"/></g>
<g transform="translate(1155 1288)"><rect x="0" fill="#00dcfe" style="width:49px"/><rect x="48" fill="#00d8ff"/><rect x="64" fill="#00d4ff"/><rect x="80" fill="#0cf"/><rect x="96" fill="#00c8ff"/><rect x="112" fill="#00c0ff"/><rect x="128" fill="#00b4ff"/><rect x="144" fill="#00a8ff"/><rect x="160" fill="#0098ff"/><rect x="176" fill="#008cff" style="width:33px"/><rect x="208" fill="#08f" style="width:49px"/><rect x="256" fill="#0080ff"/><rect x="272" fill="#0078ff"/><rect x="288" fill="#0074ff"/><rect x="304" fill="#0070ff"/><rect x="320" fill="#0068ff"/><rect x="336" fill="#0060ff"/><rect x="352" fill="#0058ff"/><rect x="368" fill="#0054ff"/><rect x="384" fill="#0048ff"/><rect x="400" fill="#003cff"/><rect x="416" fill="#0038ff" style="width:49px"/><rect x="464" fill="#0034ff"/><rect x="480" fill="#0030ff"/><rect x="496" fill="#002cff"/><rect x="512" fill="#0028ff"/><rect x="528" fill="#0020ff"/><rect x="544" fill="#001cff"/><rect x="560" fill="#0014ff"/><rect x="576" fill="#0010ff"/><rect x="592" fill="#000cff"/><rect x="608" fill="#0008ff"/><rect x="624" fill="#00f" style="width:161px"/></g>
<g transform="translate(1155 1304)"><rect x="0" fill="#06ecf1" style="width:49px"/><rect x="48" fill="#02e8f4"/><rect x="64" fill="#00e4f8"/><rect x="80" fill="#00dcfe"/><rect x="96" fill="#00d8ff"/><rect x="112" fill="#00d4ff"/><rect x="128" fill="#00c4ff"/><rect x="144" fill="#00b8ff"/><rect x="160" fill="#00a8ff"/><rect x="176" fill="#0098ff"/><rect x="192" fill="#0090ff"/><rect x="208" fill="#008cff" style="width:49px"/><rect x="256" fill="#0084ff"/><rect x="272" fill="#0080ff"/><rect x="288" fill="#007cff"/><rect x="304" fill="#0074ff"/><rect x="320" fill="#006cff"/><rect x="336" fill="#0068ff"/><rect x="352" fill="#0060ff"/><rect x="368" fill="#0054ff"/><rect x="384" fill="#004cff"/><rect x="400" fill="#0040ff"/><rect x="416" fill="#003cff" style="width:33px"/><rect x="448" fill="#0038ff" style="width:33px"/><rect x="480" fill="#0034ff"/><rect x="496" fill="#0030ff"/><rect x="512" fill="#0028ff"/><rect x="528" fill="#0024ff"/><rect x="544" fill="#0020ff"/><rect x="560" fill="#001cff"/><rect x="576" fill="#0014ff"/><rect x="592" fill="#0010ff"/><rect x="608" fill="#0008ff"/><rect x="624" fill="#0004ff"/><rect x="640" fill="#00f" style="width:145px"/></g>
<g transform="translate(1155 1320)"><rect x="0" fill="#1cffdb" style="width:33px"/><rect x="32" fill="#19ffde"/><rect x="48" fill="#13fce4"/><rect x="64" fill="#0ff8e7"/><rect x="80" fill="#09f0ee"/><rect x="96" fill="#06ecf1"/><rect x="112" fill="#00e0fb"/><rect x="128" fill="#00d4ff"/><rect x="144" fill="#00c4ff"/><rect x="160" fill="#00b8ff"/><rect x="176" fill="#00acff"/><rect x="192" fill="#00a4ff"/><rect x="208" fill="#009cff"/><rect x="224" fill="#0094ff"/><rect x="240" fill="#0090ff"/><rect x="256" fill="#08f" style="width:33px"/><rect x="288" fill="#0084ff"/><rect x="304" fill="#007cff"/><rect x="320" fill="#0074ff"/><rect x="336" fill="#006cff"/><rect x="352" fill="#0064ff"/><rect x="368" fill="#0058ff"/><rect x="384" fill="#004cff"/><rect x="400" fill="#0040ff" style="width:33px"/><rect x="432" fill="#003cff" style="width:33px"/><rect x="464" fill="#0038ff"/><rect x="480" fill="#0034ff" style="width:33px"/><rect x="512" fill="#002cff"/><rect x="528" fill="#0028ff"/><rect x="544" fill="#0020ff"/><rect x="560" fill="#001cff"/><rect x="576" fill="#0014ff"/><rect x="592" fill="#0010ff"/><rect x="608" fill="#0008ff"/><rect x="624" fill="#00f" style="width:161px"/></g>
<g transform="translate(1155 1336)"><rect x="0" fill="#33ffc4" style="width:33px"/><rect x="32" fill="#30ffc7"/><rect x="48" fill="#29ffce"/><rect x="64" fill="#23ffd4"/><rect x="80" fill="#1fffd7"/><rect x="96" fill="#16ffe1"/><rect x="112" fill="#0cf4eb"/><rect x="128" fill="#00e4f8"/><rect x="144" fill="#00d4ff"/><rect x="160" fill="#00c8ff"/><rect x="176" fill="#00bcff"/><rect x="192" fill="#00b4ff"/><rect x="208" fill="#00a8ff"/><rect x="224" fill="#00a0ff"/><rect x="240" fill="#009cff"/><rect x="256" fill="#0094ff"/><rect x="272" fill="#008cff"/><rect x="288" fill="#08f"/><rect x="304" fill="#0080ff"/><rect x="320" fill="#0078ff"/><rect x="336" fill="#0070ff"/><rect x="352" fill="#0064ff"/><rect x="368" fill="#0058ff"/><rect x="384" fill="#004cff"/><rect x="400" fill="#04f"/><rect x="416" fill="#0040ff" style="width:33px"/><rect x="448" fill="#003cff"/><rect x="464" fill="#0038ff" style="width:33px"/><rect x="496" fill="#0034ff"/><rect x="512" fill="#002cff"/><rect x="528" fill="#0028ff"/><rect x="544" fill="#0020ff"/><rect x="560" fill="#001cff"/><rect x="576" fill="#0014ff"/><rect x="592" fill="#000cff"/><rect x="608" fill="#0004ff"/><rect x="624" fill="#00f" style="width:161px"/></g>
<g transform="translate(1155 1352)"><rect x="0" fill="#46ffb1" style="width:33px"/><rect x="32" fill="#43ffb4"/><rect x="48" fill="#3cffba"/><rect x="64" fill="#36ffc1"/><rect x="80" fill="#30ffc7"/><rect x="96" fill="#26ffd1"/><rect x="112" fill="#19ffde"/><rect x="128" fill="#0cf4eb"/><rect x="144" fill="#00e4f8"/><rect x="160" fill="#00d8ff"/><rect x="176" fill="#0cf"/><rect x="192" fill="#00c0ff"/><rect x="208" fill="#00b8ff"/><rect x="224" fill="#00b0ff"/><rect x="240" fill="#00a8ff"/><rect x="256" fill="#00a0ff"/><rect x="272" fill="#0098ff"/><rect x="288" fill="#008cff"/><rect x="304" fill="#0084ff"/><rect x="320" fill="#007cff"/><rect x="336" fill="#0070ff"/><rect x="352" fill="#0064ff"/><rect x="368" fill="#005cff"/><rect x="384" fill="#0050ff"/><rect x="400" fill="#04f" style="width:33px"/><rect x="432" fill="#0040ff" style="width:33px"/><rect x="464" fill="#003cff"/><rect x="480" fill="#0038ff"/><rect x="496" fill="#0034ff"/><rect x="512" fill="#002cff"/><rect x="528" fill="#0028ff"/><rect x="544" fill="#0020ff"/><rect x="560" fill="#0018ff"/><rect x="576" fill="#0010ff"/><rect x="592" fill="#0008ff"/><rect x="608" fill="#00f" style="width:129px"/><rect x="736" fill="#0000f1" style="width:49px"/></g>
<g transform="translate(1155 1368)"><rect x="0" fill="#63ff94" style="width:33px"/><rect x="32" fill="#5dff9a"/><rect x="48" fill="#53ffa4"/><rect x="64" fill="#49ffad"/><rect x="80" fill="#40ffb7"/><rect x="96" fill="#36ffc1"/><rect x="112" fill="#29ffce"/><rect x="128" fill="#1cffdb"/><rect x="144" fill="#0ff8e7"/><rect x="160" fill="#00e4f8"/><rect x="176" fill="#00d8ff"/><rect x="192" fill="#00d0ff"/><rect x="208" fill="#00c4ff"/><rect x="224" fill="#00bcff"/><rect x="240" fill="#00b4ff"/><rect x="256" fill="#00acff"/><rect x="272" fill="#00a0ff"/><rect x="288" fill="#0094ff"/><rect x="304" fill="#08f"/><rect x="320" fill="#007cff"/><rect x="336" fill="#0074ff"/><rect x="352" fill="#0068ff"/><rect x="368" fill="#005cff"/><rect x="384" fill="#0050ff"/><rect x="400" fill="#0048ff" style="width:33px"/><rect x="432" fill="#04f"/><rect x="448" fill="#0040ff"/><rect x="464" fill="#003cff"/><rect x="480" fill="#0038ff"/><rect x="496" fill="#0034ff"/><rect x="512" fill="#0030ff"/><rect x="528" fill="#0028ff"/><rect x="544" fill="#0020ff"/><rect x="560" fill="#0018ff"/><rect x="576" fill="#0010ff"/><rect x="592" fill="#0004ff"/><rect x="608" fill="#00f" style="width:49px"/><rect x="656" fill="#0000fa" style="width:81px"/><rect x="736" fill="#0000ed" style="width:49px"/></g>
<g transform="translate(1155 1384)"><rect x="0" fill="#80ff77" style="width:33px"/><rect x="32" fill="#7dff7a"/><rect x="48" fill="#73ff83"/><rect x="64" fill="#66ff90"/><rect x="80" fill="#53ffa4"/><rect x="96" fill="#46ffb1"/><rect x="112" fill="#39ffbe"/><rect x="128" fill="#30ffc7"/><rect x="144" fill="#1fffd7"/><rect x="160" fill="#0ff8e7"/><rect x="176" fill="#00e4f8"/><rect x="192" fill="#00dcfe"/><rect x="208" fill="#00d0ff"/><rect x="224" fill="#00c8ff"/><rect x="240" fill="#00c0ff"/><rect x="256" fill="#00b4ff"/><rect x="272" fill="#00a8ff"/><rect x="288" fill="#009cff"/><rect x="304" fill="#0090ff"/><rect x="320" fill="#0084ff"/><rect x="336" fill="#0078ff"/><rect x="352" fill="#006cff"/><rect x="368" fill="#0060ff"/><rect x="384" fill="#0054ff"/><rect x="400" fill="#004cff"/><rect x="416" fill="#0048ff"/><rect x="432" fill="#04f"/><rect x="448" fill="#0040ff"/><rect x="464" fill="#003cff"/><rect x="480" fill="#0038ff"/><rect x="496" fill="#0034ff"/><rect x="512" fill="#002cff"/><rect x="528" fill="#0024ff"/><rect x="544" fill="#001cff"/><rect x="560" fill="#0014ff"/><rect x="576" fill="#000cff"/><rect x="592" fill="#0004ff"/><rect x="608" fill="#00f" style="width:33px"/><rect x="640" fill="#0000fa"/><rect x="656" fill="#0000f6" style="width:81px"/><rect x="736" fill="#0000ed" style="width:49px"/></g>
<g transform="translate(1155 1400)"><rect x="0" fill="#aaff4d" style="width:33px"/><rect x="32" fill="#a4ff53"/><rect x="48" fill="#90ff66"/><rect x="64" fill="#87ff70"/><rect x="80" fill="#73ff83"/><rect x="96" fill="#60ff97"/><rect x="112" fill="#50ffa7"/><rect x="128" fill="#40ffb7"/><rect x="144" fill="#33ffc4"/><rect x="160" fill="#23ffd4"/><rect x="176" fill="#13fce4"/><rect x="192" fill="#02e8f4"/><rect x="208" fill="#00dcfe"/><rect x="224" fill="#00d4ff"/><rect x="240" fill="#00c8ff"/><rect x="256" fill="#00c0ff"/><rect x="272" fill="#00b4ff"/><rect x="288" fill="#00a4ff"/><rect x="304" fill="#0094ff"/><rect x="320" fill="#08f"/><rect x="336" fill="#007cff"/><rect x="352" fill="#0070ff"/><rect x="368" fill="#0064ff"/><rect x="384" fill="#0058ff"/><rect x="400" fill="#004cff"/><rect x="416" fill="#0048ff"/><rect x="432" fill="#04f"/><rect x="448" fill="#0040ff"/><rect x="464" fill="#003cff"/><rect x="480" fill="#0038ff"/><rect x="496" fill="#0030ff"/><rect x="512" fill="#0028ff"/><rect x="528" fill="#0020ff"/><rect x="544" fill="#0018ff"/><rect x="560" fill="#0010ff"/><rect x="576" fill="#0008ff"/><rect x="592" fill="#00f" style="width:49px"/><rect x="640" fill="#0000f6" style="width:33px"/><rect x="672" fill="#0000f1" style="width:65px"/><rect x="736" fill="#0000ed" style="width:49px"/></g>
<g transform="translate(1155 1416)"><rect x="0" fill="#e7ff0f" style="width:33px"/><rect x="32" fill="#deff19"/><rect x="48" fill="#c4ff33"/><rect x="64" fill="#adff49"/><rect x="80" fill="#94ff63"/><rect x="96" fill="#80ff77"/><rect x="112" fill="#70ff87"/><rect x="128" fill="#5dff9a"/><rect x="144" fill="#49ffad"/><rect x="160" fill="#36ffc1"/><rect x="176" fill="#26ffd1"/><rect x="192" fill="#13fce4"/><rect x="208" fill="#02e8f4"/><rect x="224" fill="#00dcfe"/><rect x="240" fill="#00d4ff"/><rect x="256" fill="#00c8ff"/><rect x="272" fill="#00b8ff"/><rect x="288" fill="#00a8ff"/><rect x="304" fill="#0098ff"/><rect x="320" fill="#08f"/><rect x="336" fill="#007cff"/><rect x="352" fill="#0070ff"/><rect x="368" fill="#0064ff"/><rect x="384" fill="#0058ff"/><rect x="400" fill="#004cff"/><rect x="416" fill="#04f"/><rect x="432" fill="#0040ff"/><rect x="448" fill="#003cff"/><rect x="464" fill="#0038ff"/><rect x="480" fill="#0034ff"/><rect x="496" fill="#002cff"/><rect x="512" fill="#0024ff"/><rect x="528" fill="#001cff"/><rect x="544" fill="#0014ff"/><rect x="560" fill="#000cff"/><rect x="576" fill="#0004ff"/><rect x="592" fill="#00f" style="width:33px"/><rect x="624" fill="#0000fa"/><rect x="640" fill="#0000f1" style="width:33px"/><rect x="672" fill="#0000ed" style="width:65px"/><rect x="736" fill="#0000e8" style="width:49px"/></g>
<g transform="translate(1155 1432)"><rect x="0" fill="#ffc100" style="width:33px"/><rect x="32" fill="#ffd300"/><rect x="48" fill="#f1fc06"/><rect x="64" fill="#ceff29"/><rect x="80" fill="#b4ff43"/><rect x="96" fill="#a0ff56"/><rect x="112" fill="#90ff66"/><rect x="128" fill="#7dff7a"/><rect x="144" fill="#66ff90"/><rect x="160" fill="#4dffaa"/><rect x="176" fill="#39ffbe"/><rect x="192" fill="#29ffce"/><rect x="208" fill="#13fce4"/><rect x="224" fill="#02e8f4"/><rect x="240" fill="#00dcfe"/><rect x="256" fill="#00d0ff"/><rect x="272" fill="#00c0ff"/><rect x="288" fill="#00b0ff"/><rect x="304" fill="#009cff"/><rect x="320" fill="#008cff"/><rect x="336" fill="#0080ff"/><rect x="352" fill="#0074ff"/><rect x="368" fill="#0068ff"/><rect x="384" fill="#0058ff"/><rect x="400" fill="#004cff"/><rect x="416" fill="#0040ff" style="width:33px"/><rect x="448" fill="#003cff"/><rect x="464" fill="#0038ff"/><rect x="480" fill="#0030ff"/><rect x="496" fill="#0028ff"/><rect x="512" fill="#0020ff"/><rect x="528" fill="#0018ff"/><rect x="544" fill="#0010ff"/><rect x="560" fill="#0008ff"/><rect x="576" fill="#00f" style="width:49px"/><rect x="624" fill="#0000f6"/><rect x="640" fill="#0000ed" style="width:49px"/><rect x="688" fill="#0000e8" style="width:97px"/></g>
<g transform="translate(1155 1448)"><rect x="0" fill="#ff8600" style="width:33px"/><rect x="32" fill="#ff9c00"/><rect x="48" fill="#ffd300"/><rect x="64" fill="#eeff09"/><rect x="80" fill="#ceff29"/><rect x="96" fill="#baff3c"/><rect x="112" fill="#aaff4d"/><rect x="128" fill="#9dff5a"/><rect x="144" fill="#8aff6d"/><rect x="160" fill="#6aff8d"/><rect x="176" fill="#50ffa7"/><rect x="192" fill="#40ffb7"/><rect x="208" fill="#29ffce"/><rect x="224" fill="#13fce4"/><rect x="240" fill="#02e8f4"/><rect x="256" fill="#00dcfe"/><rect x="272" fill="#00c8ff"/><rect x="288" fill="#00b4ff"/><rect x="304" fill="#00a0ff"/><rect x="320" fill="#008cff"/><rect x="336" fill="#0080ff"/><rect x="352" fill="#0074ff"/><rect x="368" fill="#0068ff"/><rect x="384" fill="#005cff"/><rect x="400" fill="#004cff"/><rect x="416" fill="#0040ff"/><rect x="432" fill="#003cff"/><rect x="448" fill="#0038ff"/><rect x="464" fill="#0034ff"/><rect x="480" fill="#002cff"/><rect x="496" fill="#0024ff"/><rect x="512" fill="#001cff"/><rect x="528" fill="#0014ff"/><rect x="544" fill="#000cff"/><rect x="560" fill="#0004ff"/><rect x="576" fill="#00f" style="width:33px"/><rect x="608" fill="#0000fa"/><rect x="624" fill="#0000f1"/><rect x="640" fill="#0000ed"/><rect x="656" fill="#0000e8" style="width:49px"/><rect x="704" fill="#0000e3" style="width:33px"/><rect x="736" fill="#0000e8" style="width:49px"/></g>
<g transform="translate(1155 1464)"><rect x="0" fill="#ff5200" style="width:33px"/><rect x="32" fill="#ff6c00"/><rect x="48" fill="#ffab00"/><rect x="64" fill="#ffdb00"/><rect x="80" fill="#ebff0c"/><rect x="96" fill="#ceff29"/><rect x="112" fill="#beff39"/><rect x="128" fill="#adff49"/><rect x="144" fill="#9aff5d"/><rect x="160" fill="#7dff7a"/><rect x="176" fill="#63ff94"/><rect x="192" fill="#49ffad"/><rect x="208" fill="#33ffc4"/><rect x="224" fill="#1fffd7"/><rect x="240" fill="#09f0ee"/><rect x="256" fill="#00dcfe"/><rect x="272" fill="#00c8ff"/><rect x="288" fill="#00b4ff"/><rect x="304" fill="#00a0ff"/><rect x="320" fill="#008cff"/><rect x="336" fill="#0080ff"/><rect x="352" fill="#0074ff"/><rect x="368" fill="#0068ff"/><rect x="384" fill="#005cff"/><rect x="400" fill="#0050ff"/><rect x="416" fill="#0040ff"/><rect x="432" fill="#0038ff" style="width:33px"/><rect x="464" fill="#0030ff"/><rect x="480" fill="#0028ff"/><rect x="496" fill="#001cff"/><rect x="512" fill="#0014ff"/><rect x="528" fill="#000cff"/><rect x="544" fill="#0008ff"/><rect x="560" fill="#00f" style="width:49px"/><rect x="608" fill="#0000f6"/><rect x="624" fill="#0000ed"/><rect x="640" fill="#0000e8"/><rect x="656" fill="#0000e3"/><rect x="672" fill="#0000df"/><rect x="688" fill="#0000da" style="width:49px"/><rect x="736" fill="#0000e3" style="width:49px"/></g>
<g transform="translate(1155 1480)"><rect x="0" fill="#ff2d00" style="width:33px"/><rect x="32" fill="#ff4700"/><rect x="48" fill="#ff8200"/><rect x="64" fill="#ffb200"/><rect x="80" fill="#ffde00"/><rect x="96" fill="#e7ff0f"/><rect x="112" fill="#ceff29"/><rect x="128" fill="#baff3c"/><rect x="144" fill="#a0ff56"/><rect x="160" fill="#83ff73"/><rect x="176" fill="#6aff8d"/><rect x="192" fill="#4dffaa"/><rect x="208" fill="#36ffc1"/><rect x="224" fill="#23ffd4"/><rect x="240" fill="#0cf4eb"/><rect x="256" fill="#00dcfe"/><rect x="272" fill="#00c8ff"/><rect x="288" fill="#00b0ff"/><rect x="304" fill="#009cff"/><rect x="320" fill="#008cff"/><rect x="336" fill="#0080ff"/><rect x="352" fill="#0074ff"/><rect x="368" fill="#0064ff"/><rect x="384" fill="#005cff"/><rect x="400" fill="#0050ff"/><rect x="416" fill="#04f"/><rect x="432" fill="#0038ff"/><rect x="448" fill="#0034ff"/><rect x="464" fill="#002cff"/><rect x="480" fill="#0024ff"/><rect x="496" fill="#0018ff"/><rect x="512" fill="#0010ff"/><rect x="528" fill="#0008ff"/><rect x="544" fill="#00f" style="width:49px"/><rect x="592" fill="#0000fa"/><rect x="608" fill="#0000f1"/><rect x="624" fill="#0000e8"/><rect x="640" fill="#0000e3"/><rect x="656" fill="#0000da"/><rect x="672" fill="#0000d6"/><rect x="688" fill="#0000d1"/><rect x="704" fill="#0000cd" style="width:33px"/><rect x="736" fill="#0000df" style="width:49px"/></g>
<g transform="translate(1155 1496)"><rect x="0" fill="#ed0400" style="width:33px"/><rect x="32" fill="#ff1e00"/><rect x="48" fill="#ff5d00"/><rect x="64" fill="#ff8d00"/><rect x="80" fill="#ffb900"/><rect x="96" fill="#ffe600"/><rect x="112" fill="#e1ff16"/><rect x="128" fill="#c7ff30"/><rect x="144" fill="#a7ff50"/><rect x="160" fill="#87ff70"/><rect x="176" fill="#6dff8a"/><rect x="192" fill="#50ffa7"/><rect x="208" fill="#39ffbe"/><rect x="224" fill="#23ffd4"/><rect x="240" fill="#09f0ee"/><rect x="256" fill="#00d8ff"/><rect x="272" fill="#00c4ff"/><rect x="288" fill="#00b0ff"/><rect x="304" fill="#0098ff"/><rect x="320" fill="#08f"/><rect x="336" fill="#0080ff"/><rect x="352" fill="#0074ff"/><rect x="368" fill="#0064ff"/><rect x="384" fill="#0058ff"/><rect x="400" fill="#0048ff"/><rect x="416" fill="#0040ff"/><rect x="432" fill="#0034ff"/><rect x="448" fill="#002cff"/><rect x="464" fill="#0024ff"/><rect x="480" fill="#001cff"/><rect x="496" fill="#0014ff"/><rect x="512" fill="#000cff"/><rect x="528" fill="#00f" style="width:49px"/><rect x="576" fill="#0000fa"/><rect x="592" fill="#0000f1"/><rect x="608" fill="#0000e8"/><rect x="624" fill="#0000e3"/><rect x="640" fill="#0000da"/><rect x="656" fill="#0000d6"/><rect x="672" fill="#0000cd"/><rect x="688" fill="#0000c8"/><rect x="704" fill="#0000c4"/><rect x="720" fill="#0000bf"/><rect x="736" fill="#0000b6" style="width:49px"/></g>
<g transform="translate(1155 1512)"><rect x="0" fill="#9f0000" style="width:33px"/><rect x="32" fill="#bf0000"/><rect x="48" fill="#ff3400"/><rect x="64" fill="#ff6800"/><rect x="80" fill="#ff9c00"/><rect x="96" fill="#fc0"/><rect x="112" fill="#f8f500"/><rect x="128" fill="#d1ff26"/><rect x="144" fill="#b1ff46"/><rect x="160" fill="#8dff6a"/><rect x="176" fill="#70ff87"/><rect x="192" fill="#53ffa4"/><rect x="208" fill="#39ffbe"/><rect x="224" fill="#23ffd4"/><rect x="240" fill="#09f0ee"/><rect x="256" fill="#00d8ff"/><rect x="272" fill="#00c0ff"/><rect x="288" fill="#00acff"/><rect x="304" fill="#0094ff"/><rect x="320" fill="#0084ff"/><rect x="336" fill="#007cff"/><rect x="352" fill="#0070ff"/><rect x="368" fill="#0064ff"/><rect x="384" fill="#0058ff"/><rect x="400" fill="#0048ff"/><rect x="416" fill="#0038ff"/><rect x="432" fill="#002cff"/><rect x="448" fill="#0024ff"/><rect x="464" fill="#001cff"/><rect x="480" fill="#0014ff"/><rect x="496" fill="#0010ff"/><rect x="512" fill="#0004ff"/><rect x="528" fill="#00f" style="width:33px"/><rect x="560" fill="#0000fa"/><rect x="576" fill="#0000f6"/><rect x="592" fill="#0000ed"/><rect x="608" fill="#0000e3"/><rect x="624" fill="#0000df"/><rect x="640" fill="#0000d6"/><rect x="656" fill="#0000cd"/><rect x="672" fill="#0000c8"/><rect x="688" fill="#0000c4"/><rect x="704" fill="#00b"/><rect x="720" fill="#0000b6"/><rect x="736" fill="#0000ad" style="width:49px"/></g>
<g transform="translate(1155 1528)"><rect x="0" fill="#800000" style="width:33px"/><rect x="32" fill="#840000"/><rect x="48" fill="#fa0f00"/><rect x="64" fill="#ff4a00"/><rect x="80" fill="#f70"/><rect x="96" fill="#ffb900"/><rect x="112" fill="#ffde00"/><rect x="128" fill="#deff19"/><rect x="144" fill="#beff39"/><rect x="160" fill="#94ff63"/><rect x="176" fill="#7aff7d"/><rect x="192" fill="#50ffa7"/><rect x="208" fill="#43ffb4"/><rect x="224" fill="#1fffd7"/><rect x="240" fill="#06ecf1"/><rect x="256" fill="#00e0fb"/><rect x="272" fill="#00c4ff"/><rect x="288" fill="#009cff"/><rect x="304" fill="#0090ff"/><rect x="320" fill="#08f"/><rect x="336" fill="#0078ff"/><rect x="352" fill="#006cff"/><rect x="368" fill="#0064ff"/><rect x="384" fill="#0058ff"/><rect x="400" fill="#0038ff"/><rect x="416" fill="#0030ff"/><rect x="432" fill="#002cff"/><rect x="448" fill="#0028ff"/><rect x="464" fill="#0024ff"/><rect x="480" fill="#000cff"/><rect x="496" fill="#00f" style="width:65px"/><rect x="560" fill="#0000fa"/><rect x="576" fill="#0000ed"/><rect x="592" fill="#0000e8"/><rect x="608" fill="#0000e3"/><rect x="624" fill="#0000df"/><rect x="640" fill="#0000da"/><rect x="656" fill="#0000d6"/><rect x="672" fill="#0000bf"/><rect x="688" fill="#0000b6"/><rect x="704" fill="#0000b2"/><rect x="720" fill="#0000ad"/><rect x="736" fill="#0000a8" style="width:49px"/></g>
<g transform="translate(1155 1544)"><rect x="0" fill="#800000" style="width:33px"/><rect x="32" fill="#840000"/><rect x="48" fill="#fa0f00"/><rect x="64" fill="#ff4a00"/><rect x="80" fill="#f70"/><rect x="96" fill="#ffb900"/><rect x="112" fill="#ffde00"/><rect x="128" fill="#deff19"/><rect x="144" fill="#beff39"/><rect x="160" fill="#94ff63"/><rect x="176" fill="#7aff7d"/><rect x="192" fill="#50ffa7"/><rect x="208" fill="#43ffb4"/><rect x="224" fill="#1fffd7"/><rect x="240" fill="#06ecf1"/><rect x="256" fill="#00e0fb"/><rect x="272" fill="#00c4ff"/><rect x="288" fill="#009cff"/><rect x="304" fill="#0090ff"/><rect x="320" fill="#08f"/><rect x="336" fill="#0078ff"/><rect x="352" fill="#006cff"/><rect x="368" fill="#0064ff"/><rect x="384" fill="#0058ff"/><rect x="400" fill="#0038ff"/><rect x="416" fill="#0030ff"/><rect x="432" fill="#002cff"/><rect x="448" fill="#0028ff"/><rect x="464" fill="#0024ff"/><rect x="480" fill="#000cff"/><rect x="496" fill="#00f" style="width:65px"/><rect x="560" fill="#0000fa"/><rect x="576" fill="#0000ed"/><rect x="592" fill="#0000e8"/><rect x="608" fill="#0000e3"/><rect x="624" fill="#0000df"/><rect x="640" fill="#0000da"/><rect x="656" fill="#0000d6"/><rect x="672" fill="#0000bf"/><rect x="688" fill="#0000b6"/><rect x="704" fill="#0000b2"/><rect x="720" fill="#0000ad"/><rect x="736" fill="#0000a8" style="width:49px"/></g>
<g transform="translate(1155 1560)"><rect x="0" fill="#800000" style="width:33px"/><rect x="32" fill="#840000"/><rect x="48" fill="#fa0f00"/><rect x="64" fill="#ff4a00"/><rect x="80" fill="#f70"/><rect x="96" fill="#ffb900"/><rect x="112" fill="#ffde00"/><rect x="128" fill="#deff19"/><rect x="144" fill="#beff39"/><rect x="160" fill="#94ff63"/><rect x="176" fill="#7aff7d"/><rect x="192" fill="#50ffa7"/><rect x="208" fill="#43ffb4"/><rect x="224" fill="#1fffd7"/><rect x="240" fill="#06ecf1"/><rect x="256" fill="#00e0fb"/><rect x="272" fill="#00c4ff"/><rect x="288" fill="#009cff"/><rect x="304" fill="#0090ff"/><rect x="320" fill="#08f"/><rect x="336" fill="#0078ff"/><rect x="352" fill="#006cff"/><rect x="368" fill="#0064ff"/><rect x="384" fill="#0058ff"/><rect x="400" fill="#0038ff"/><rect x="416" fill="#0030ff"/><rect x="432" fill="#002cff"/><rect x="448" fill="#0028ff"/><rect x="464" fill="#0024ff"/><rect x="480" fill="#000cff"/><rect x="496" fill="#00f" style="width:65px"/><rect x="560" fill="#0000fa"/><rect x="576" fill="#0000ed"/><rect x="592" fill="#0000e8"/><rect x="608" fill="#0000e3"/><rect x="624" fill="#0000df"/><rect x="640" fill="#0000da"/><rect x="656" fill="#0000d6"/><rect x="672" fill="#0000bf"/><rect x="688" fill="#0000b6"/><rect x="704" fill="#0000b2"/><rect x="720" fill="#0000ad"/><rect x="736" fill="#0000a8" style="width:49px"/></g>
</g>
<g fill="none" stroke="#000" stroke-width="3.5" stroke-linejoin="miter" stroke-miterlimit="10">
<path d="M1187.4 1125.0L1226.0 1104.0L1266.0 1098.0L1307.0 1032.0L1317.0 1002.0M1363.0 927.0L1426.0 887.6M1187.4 1029.0L1265.0 999.0M1311.0 921.0L1333.0 887.6M1187.4 967.0L1227.0 949.0M1291.0 895.0L1297.0 887.6M1187.4 933.0L1263.0 887.6M1187.4 911.0L1221.0 887.6M1526.8 887.6L1500.8 959.0L1484.8 1032.0L1502.8 1103.0L1505.8 1131.0M1537.0 1211.0L1560.0 1248.0L1582.0 1261.0L1655.0 1320.0L1659.0 1392.0L1626.0 1464.0L1582.0 1521.0L1573.0 1535.7M1742.8 887.6L1746.8 959.0L1750.8 987.0M1791.8 1060.0L1817.8 1081.0L1897.0 1078.0M1889.8 887.6L1897.0 897.0M1187.4 1200.8L1235.0 1211.0L1266.0 1217.0L1285.0 1248.0L1345.0 1306.0L1359.0 1310.0M1436.0 1344.0L1471.0 1392.0L1483.0 1464.0L1468.0 1535.7M1187.4 1309.0L1266.0 1327.0L1304.0 1361.0M1368.0 1423.0L1410.0 1464.0L1407.0 1535.7M1187.4 1364.0L1226.0 1377.0M1301.0 1421.0L1353.0 1464.0L1361.0 1535.7M1187.4 1401.0L1226.0 1414.0M1301.0 1457.0L1308.0 1464.0L1323.0 1535.7M1187.4 1421.0L1215.0 1434.0M1281.0 1507.0L1292.0 1535.7M1187.4 1441.0L1195.0 1446.0M1247.0 1505.0L1262.0 1535.7M1187.4 1463.0L1239.0 1535.7M1187.4 1497.0L1215.0 1535.7M1187.4 1523.0L1195.0 1535.7M1762.8 1535.7L1792.8 1482.0M1859.8 1452.0L1897.0 1458.0"/>
</g>
<g font-family="'Liberation Serif',serif" font-size="32.5" text-anchor="middle" fill="#000">
<text transform="translate(1331.0 960.0) rotate(-62)" y="11" textLength="77" lengthAdjust="spacingAndGlyphs">0.975</text>
<text transform="translate(1285.0 960.0) rotate(-58)" y="11" textLength="77" lengthAdjust="spacingAndGlyphs">0.990</text>
<text transform="translate(1265.0 931.0) rotate(-50)" y="11" textLength="77" lengthAdjust="spacingAndGlyphs">1.005</text>
<text transform="translate(1517.0 1174.0) rotate(68)" y="11" textLength="77" lengthAdjust="spacingAndGlyphs">0.960</text>
<text transform="translate(1760.8 1030.0) rotate(55)" y="11" textLength="77" lengthAdjust="spacingAndGlyphs">0.945</text>
<text transform="translate(1817.8 1444.0) rotate(-20)" y="11" textLength="77" lengthAdjust="spacingAndGlyphs">0.945</text>
<text transform="translate(1401.9 1319.0) rotate(25)" y="11" textLength="77" lengthAdjust="spacingAndGlyphs">0.975</text>
<text transform="translate(1338.0 1391.0) rotate(40)" y="11" textLength="77" lengthAdjust="spacingAndGlyphs">0.990</text>
<text transform="translate(1266.0 1391.0) rotate(33)" y="11" textLength="77" lengthAdjust="spacingAndGlyphs">1.005</text>
<text transform="translate(1267.0 1427.0) rotate(35)" y="11" textLength="77" lengthAdjust="spacingAndGlyphs">1.020</text>
<text transform="translate(1269.0 1463.0) rotate(52)" y="11" textLength="77" lengthAdjust="spacingAndGlyphs">1.035</text>
<text transform="translate(1229.0 1465.0) rotate(52)" y="11" textLength="77" lengthAdjust="spacingAndGlyphs">1.050</text>
</g>
</g>
<rect x="1187.4" y="887.6" width="709.6" height="648.1" fill="none" stroke="#222" stroke-width="1.2"/>
<g stroke="#222" stroke-width="1.2">
<line x1="1324.5" y1="1535.7" x2="1324.5" y2="1540.3"/>
<line x1="1488.2" y1="1535.7" x2="1488.2" y2="1540.3"/>
<line x1="1651.9" y1="1535.7" x2="1651.9" y2="1540.3"/>
<line x1="1815.6" y1="1535.7" x2="1815.6" y2="1540.3"/>
<line x1="1182.8" y1="1432.1" x2="1187.4" y2="1432.1"/>
<line x1="1182.8" y1="1276.5" x2="1187.4" y2="1276.5"/>
<line x1="1182.8" y1="1120.9" x2="1187.4" y2="1120.9"/>
<line x1="1182.8" y1="965.3" x2="1187.4" y2="965.3"/>
<line x1="1942.3" y1="963.0" x2="1946.9" y2="963.0"/>
<line x1="1942.3" y1="1039.2" x2="1946.9" y2="1039.2"/>
<line x1="1942.3" y1="1115.4" x2="1946.9" y2="1115.4"/>
<line x1="1942.3" y1="1191.6" x2="1946.9" y2="1191.6"/>
<line x1="1942.3" y1="1267.8" x2="1946.9" y2="1267.8"/>
<line x1="1942.3" y1="1344.0" x2="1946.9" y2="1344.0"/>
<line x1="1942.3" y1="1420.2" x2="1946.9" y2="1420.2"/>
<line x1="1942.3" y1="1496.4" x2="1946.9" y2="1496.4"/>
</g>
<g font-family="'Liberation Serif',serif" font-weight="bold" fill="#000">
<text x="1324.5" y="1573.3" font-size="37.3" text-anchor="middle" textLength="45.5" lengthAdjust="spacingAndGlyphs">10</text>
<text x="1488.2" y="1573.3" font-size="37.3" text-anchor="middle" textLength="45.5" lengthAdjust="spacingAndGlyphs">15</text>
<text x="1651.9" y="1573.3" font-size="37.3" text-anchor="middle" textLength="45.5" lengthAdjust="spacingAndGlyphs">20</text>
<text x="1815.6" y="1573.3" font-size="37.3" text-anchor="middle" textLength="45.5" lengthAdjust="spacingAndGlyphs">25</text>
<text x="1177.9" y="1445.4" font-size="37.3" text-anchor="end" textLength="66.2" lengthAdjust="spacingAndGlyphs">500</text>
<text x="1177.9" y="1289.8" font-size="37.3" text-anchor="end" textLength="87.0" lengthAdjust="spacingAndGlyphs">1000</text>
<text x="1177.9" y="1134.2" font-size="37.3" text-anchor="end" textLength="87.0" lengthAdjust="spacingAndGlyphs">1500</text>
<text x="1177.9" y="978.6" font-size="37.3" text-anchor="end" textLength="87.0" lengthAdjust="spacingAndGlyphs">2000</text>
<text x="1951.8" y="976.3" font-size="37.3" text-anchor="start" textLength="77.8" lengthAdjust="spacingAndGlyphs">1.08</text>
<text x="1951.8" y="1052.5" font-size="37.3" text-anchor="start" textLength="77.8" lengthAdjust="spacingAndGlyphs">1.06</text>
<text x="1951.8" y="1128.7" font-size="37.3" text-anchor="start" textLength="77.8" lengthAdjust="spacingAndGlyphs">1.04</text>
<text x="1951.8" y="1204.9" font-size="37.3" text-anchor="start" textLength="77.8" lengthAdjust="spacingAndGlyphs">1.02</text>
<text x="1951.8" y="1281.1" font-size="37.3" text-anchor="start" textLength="77.8" lengthAdjust="spacingAndGlyphs">1.00</text>
<text x="1951.8" y="1357.3" font-size="37.3" text-anchor="start" textLength="77.8" lengthAdjust="spacingAndGlyphs">0.98</text>
<text x="1951.8" y="1433.5" font-size="37.3" text-anchor="start" textLength="77.8" lengthAdjust="spacingAndGlyphs">0.96</text>
<text x="1951.8" y="1509.7" font-size="37.3" text-anchor="start" textLength="77.8" lengthAdjust="spacingAndGlyphs">0.94</text>
<text x="1435.6" y="1614.7" font-size="40" textLength="90.7" lengthAdjust="spacingAndGlyphs">VPD</text><text x="1546.0" y="1614.7" font-size="40" textLength="14.5" lengthAdjust="spacingAndGlyphs">(</text><text x="1560.0" y="1614.7" font-size="40" textLength="73.8" lengthAdjust="spacingAndGlyphs">hPa</text><text x="1636.5" y="1614.7" font-size="40" textLength="16.0" lengthAdjust="spacingAndGlyphs">)</text>
<g transform="translate(1076.5 1211.7) rotate(-90)" font-size="40">
<text x="-202.5" y="0" textLength="93.0" lengthAdjust="spacingAndGlyphs">PAR</text>
<text x="-92.9" y="0" textLength="14.5" lengthAdjust="spacingAndGlyphs">(</text>
<text x="-77.5" y="0" font-style="italic" textLength="24.3" lengthAdjust="spacingAndGlyphs">μ</text>
<text x="-52.5" y="0" textLength="73.3" lengthAdjust="spacingAndGlyphs">mol</text>
<text x="37.1" y="0" textLength="34.8" lengthAdjust="spacingAndGlyphs">m</text>
<text x="75.1" y="-14.4" font-size="27" textLength="35.4" lengthAdjust="spacingAndGlyphs">−2</text>
<text x="127.5" y="0" textLength="17.1" lengthAdjust="spacingAndGlyphs">s</text>
<text x="147.2" y="-14.4" font-size="27" textLength="36.7" lengthAdjust="spacingAndGlyphs">−1</text>
<text x="185.5" y="0" textLength="15.2" lengthAdjust="spacingAndGlyphs">)</text>
</g>
<text x="1004.5" y="828.0" font-size="70" textLength="88" lengthAdjust="spacingAndGlyphs">(d)</text>
</g>
<rect x="1906.4" y="887.6" width="35.9" height="648.1" fill="url(#jetg)" stroke="#222" stroke-width="1.2"/>
</svg></body></html>
